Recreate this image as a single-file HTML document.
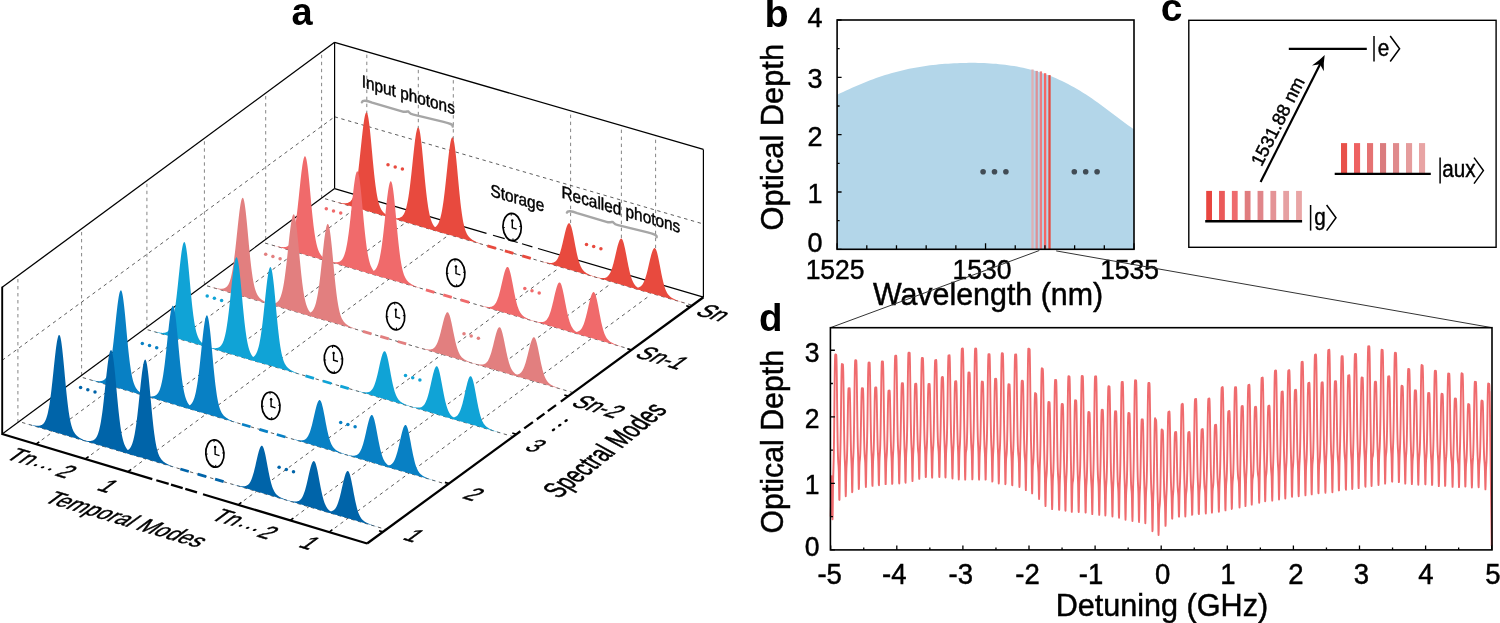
<!DOCTYPE html>
<html><head><meta charset="utf-8"><style>
html,body{margin:0;padding:0;background:#fff;overflow:hidden;}
svg{display:block;will-change:transform;}
text{font-family:"Liberation Sans",sans-serif;stroke:#000;stroke-width:0.45px;}
</style></head><body>
<svg width="1500" height="623" viewBox="0 0 1500 623">
<rect width="1500" height="623" fill="#fff"/>
<g id="panelA">
<line x1="17.9" y1="422.41" x2="17.9" y2="275.73" stroke="#666" stroke-width="0.8" stroke-linecap="butt" stroke-dasharray="3.4,3.6"/>
<line x1="81.6" y1="375.38" x2="81.6" y2="228.78" stroke="#666" stroke-width="0.8" stroke-linecap="butt" stroke-dasharray="3.4,3.6"/>
<line x1="146.9" y1="327.17" x2="146.9" y2="180.65" stroke="#666" stroke-width="0.8" stroke-linecap="butt" stroke-dasharray="3.4,3.6"/>
<line x1="204.4" y1="284.72" x2="204.4" y2="138.27" stroke="#666" stroke-width="0.8" stroke-linecap="butt" stroke-dasharray="3.4,3.6"/>
<line x1="265.7" y1="239.47" x2="265.7" y2="93.08" stroke="#666" stroke-width="0.8" stroke-linecap="butt" stroke-dasharray="3.4,3.6"/>
<line x1="321.6" y1="198.2" x2="321.6" y2="51.88" stroke="#666" stroke-width="0.8" stroke-linecap="butt" stroke-dasharray="3.4,3.6"/>
<line x1="2.2" y1="360.3" x2="334.6" y2="116.8" stroke="#333" stroke-width="0.8" stroke-linecap="butt" stroke-dasharray="3.4,3.6"/>
<line x1="366.8" y1="198.08" x2="366.8" y2="51.65" stroke="#666" stroke-width="0.8" stroke-linecap="butt" stroke-dasharray="3.4,3.6"/>
<line x1="418.3" y1="213.25" x2="418.3" y2="66.61" stroke="#666" stroke-width="0.8" stroke-linecap="butt" stroke-dasharray="3.4,3.6"/>
<line x1="453.3" y1="223.55" x2="453.3" y2="76.77" stroke="#666" stroke-width="0.8" stroke-linecap="butt" stroke-dasharray="3.4,3.6"/>
<line x1="570.6" y1="258.09" x2="570.6" y2="110.83" stroke="#666" stroke-width="0.8" stroke-linecap="butt" stroke-dasharray="3.4,3.6"/>
<line x1="621.4" y1="273.05" x2="621.4" y2="125.59" stroke="#666" stroke-width="0.8" stroke-linecap="butt" stroke-dasharray="3.4,3.6"/>
<line x1="655.6" y1="283.12" x2="655.6" y2="135.52" stroke="#666" stroke-width="0.8" stroke-linecap="butt" stroke-dasharray="3.4,3.6"/>
<line x1="334.6" y1="116.8" x2="703.4" y2="224" stroke="#333" stroke-width="0.8" stroke-linecap="butt" stroke-dasharray="3.4,3.6"/>
<line x1="2.2" y1="287.3" x2="334.6" y2="42.3" stroke="#000" stroke-width="1.3" stroke-linecap="butt"/>
<line x1="334.6" y1="42.3" x2="703.4" y2="149.4" stroke="#000" stroke-width="1.3" stroke-linecap="butt"/>
<line x1="334.6" y1="42.3" x2="334.6" y2="188.6" stroke="#000" stroke-width="1.2" stroke-linecap="butt"/>
<line x1="703.4" y1="149.4" x2="703.4" y2="297.2" stroke="#000" stroke-width="1.2" stroke-linecap="butt"/>
<line x1="2.2" y1="435" x2="2.2" y2="286.7" stroke="#000" stroke-width="1.9" stroke-linecap="butt"/>
<line x1="2.2" y1="434" x2="334.6" y2="188.6" stroke="#000" stroke-width="1.2" stroke-linecap="butt"/>
<line x1="334.6" y1="188.6" x2="486.5" y2="233.33" stroke="#000" stroke-width="1.2" stroke-linecap="butt"/>
<line x1="493" y1="235.24" x2="504.7" y2="238.69" stroke="#000" stroke-width="1.2" stroke-linecap="butt"/>
<line x1="508.1" y1="239.69" x2="517.7" y2="242.52" stroke="#000" stroke-width="1.2" stroke-linecap="butt"/>
<line x1="522" y1="243.78" x2="532.4" y2="246.85" stroke="#000" stroke-width="1.2" stroke-linecap="butt"/>
<line x1="538" y1="248.49" x2="703.4" y2="297.2" stroke="#000" stroke-width="1.2" stroke-linecap="butt"/>
<line x1="36.1" y1="444.17" x2="355.87" y2="208.1" stroke="#333" stroke-width="0.8" stroke-linecap="butt" stroke-dasharray="3.4,3.6"/>
<line x1="85.4" y1="458.97" x2="405.17" y2="222.89" stroke="#333" stroke-width="0.8" stroke-linecap="butt" stroke-dasharray="3.4,3.6"/>
<line x1="128" y1="471.75" x2="447.77" y2="235.68" stroke="#333" stroke-width="0.8" stroke-linecap="butt" stroke-dasharray="3.4,3.6"/>
<line x1="238.2" y1="504.82" x2="557.97" y2="268.74" stroke="#333" stroke-width="0.8" stroke-linecap="butt" stroke-dasharray="3.4,3.6"/>
<line x1="290.2" y1="520.42" x2="609.97" y2="284.35" stroke="#333" stroke-width="0.8" stroke-linecap="butt" stroke-dasharray="3.4,3.6"/>
<line x1="329.2" y1="532.13" x2="648.97" y2="296.05" stroke="#333" stroke-width="0.8" stroke-linecap="butt" stroke-dasharray="3.4,3.6"/>
<line x1="22.04" y1="422.45" x2="386.2" y2="529.51" stroke="#333" stroke-width="0.8" stroke-linecap="butt" stroke-dasharray="3.4,3.6"/>
<line x1="82.79" y1="377.6" x2="447.58" y2="484.55" stroke="#333" stroke-width="0.8" stroke-linecap="butt" stroke-dasharray="3.4,3.6"/>
<line x1="147.61" y1="329.74" x2="513.06" y2="436.6" stroke="#333" stroke-width="0.8" stroke-linecap="butt" stroke-dasharray="3.4,3.6"/>
<line x1="207.03" y1="285.87" x2="573.11" y2="392.62" stroke="#333" stroke-width="0.8" stroke-linecap="butt" stroke-dasharray="3.4,3.6"/>
<line x1="265.03" y1="243.05" x2="631.74" y2="349.69" stroke="#333" stroke-width="0.8" stroke-linecap="butt" stroke-dasharray="3.4,3.6"/>
<line x1="325.04" y1="198.75" x2="692.37" y2="305.27" stroke="#333" stroke-width="0.8" stroke-linecap="butt" stroke-dasharray="3.4,3.6"/>
<line x1="487.5" y1="245.86" x2="496" y2="248.33" stroke="#E84A3E" stroke-width="2.8" stroke-linecap="butt"/>
<line x1="504.9" y1="250.91" x2="513.4" y2="253.37" stroke="#E84A3E" stroke-width="2.8" stroke-linecap="butt"/>
<line x1="522.3" y1="255.95" x2="530.8" y2="258.42" stroke="#E84A3E" stroke-width="2.8" stroke-linecap="butt"/>
<path d="M334.60,201.44 L335.06,201.57 L335.53,201.69 L335.99,201.81 L336.46,201.92 L336.92,202.04 L337.38,202.15 L337.85,202.26 L338.31,202.36 L338.77,202.46 L339.24,202.56 L339.70,202.65 L340.17,202.74 L340.63,202.83 L341.09,202.91 L341.56,202.98 L342.02,203.04 L342.48,203.10 L342.95,203.15 L343.41,203.19 L343.88,203.22 L344.34,203.24 L344.80,203.24 L345.27,203.24 L345.73,203.21 L346.19,203.17 L346.66,203.11 L347.12,203.03 L347.59,202.92 L348.05,202.77 L348.51,202.59 L348.98,202.37 L349.44,202.10 L349.90,201.77 L350.37,201.38 L350.83,200.91 L351.30,200.34 L351.76,199.68 L352.22,198.90 L352.69,197.99 L353.15,196.93 L353.61,195.70 L354.08,194.29 L354.54,192.68 L355.01,190.85 L355.47,188.79 L355.93,186.49 L356.40,183.93 L356.86,181.12 L357.32,178.04 L357.79,174.71 L358.25,171.13 L358.72,167.32 L359.18,163.30 L359.64,159.11 L360.11,154.79 L360.57,150.37 L361.03,145.92 L361.50,141.49 L361.96,137.14 L362.43,132.94 L362.89,128.96 L363.35,125.27 L363.82,121.93 L364.28,119.01 L364.74,116.56 L365.21,114.62 L365.67,113.25 L366.14,112.47 L366.60,112.30 L367.07,112.80 L367.54,114.02 L368.01,115.94 L368.48,118.51 L368.94,121.67 L369.41,125.37 L369.88,129.52 L370.35,134.04 L370.82,138.84 L371.29,143.83 L371.76,148.93 L372.23,154.05 L372.69,159.13 L373.16,164.08 L373.63,168.86 L374.10,173.42 L374.57,177.72 L375.04,181.73 L375.51,185.44 L375.98,188.84 L376.44,191.93 L376.91,194.71 L377.38,197.21 L377.85,199.44 L378.32,201.41 L378.79,203.15 L379.26,204.68 L379.73,206.03 L380.19,207.21 L380.66,208.24 L381.13,209.16 L381.60,209.96 L382.07,210.67 L382.54,211.31 L383.01,211.88 L383.48,212.40 L383.94,212.87 L384.41,213.30 L384.88,213.70 L385.35,214.07 L385.82,214.42 L386.29,214.74 L386.76,215.05 L387.23,215.34 L387.69,215.62 L388.16,215.88 L388.63,216.13 L389.10,216.38 L389.57,216.61 L390.04,216.84 L390.51,217.05 L390.98,217.26 L391.44,217.46 L391.91,217.66 L392.38,217.85 L392.85,218.04 L393.32,218.22 L393.79,218.39 L394.26,218.56 L394.73,218.73 L395.19,218.89 L395.66,219.05 L396.13,219.21 L396.60,219.37 L396.60,219.50 L396.13,219.36 L395.66,219.23 L395.19,219.09 L394.73,218.96 L394.26,218.82 L393.79,218.68 L393.32,218.55 L392.85,218.41 L392.38,218.28 L391.91,218.14 L391.44,218.00 L390.98,217.87 L390.51,217.73 L390.04,217.60 L389.57,217.46 L389.10,217.33 L388.63,217.19 L388.16,217.05 L387.69,216.92 L387.23,216.78 L386.76,216.65 L386.29,216.51 L385.82,216.37 L385.35,216.24 L384.88,216.10 L384.41,215.97 L383.94,215.83 L383.48,215.69 L383.01,215.56 L382.54,215.42 L382.07,215.29 L381.60,215.15 L381.13,215.01 L380.66,214.88 L380.19,214.74 L379.73,214.61 L379.26,214.47 L378.79,214.33 L378.32,214.20 L377.85,214.06 L377.38,213.93 L376.91,213.79 L376.44,213.65 L375.98,213.52 L375.51,213.38 L375.04,213.25 L374.57,213.11 L374.10,212.98 L373.63,212.84 L373.16,212.70 L372.69,212.57 L372.23,212.43 L371.76,212.30 L371.29,212.16 L370.82,212.02 L370.35,211.89 L369.88,211.75 L369.41,211.62 L368.94,211.48 L368.48,211.34 L368.01,211.21 L367.54,211.07 L367.07,210.94 L366.60,210.80 L366.14,210.67 L365.67,210.53 L365.21,210.40 L364.74,210.26 L364.28,210.13 L363.82,209.99 L363.35,209.86 L362.89,209.72 L362.43,209.59 L361.96,209.46 L361.50,209.32 L361.03,209.19 L360.57,209.05 L360.11,208.92 L359.64,208.78 L359.18,208.65 L358.72,208.51 L358.25,208.38 L357.79,208.24 L357.32,208.11 L356.86,207.98 L356.40,207.84 L355.93,207.71 L355.47,207.57 L355.01,207.44 L354.54,207.30 L354.08,207.17 L353.61,207.03 L353.15,206.90 L352.69,206.77 L352.22,206.63 L351.76,206.50 L351.30,206.36 L350.83,206.23 L350.37,206.09 L349.90,205.96 L349.44,205.82 L348.98,205.69 L348.51,205.55 L348.05,205.42 L347.59,205.29 L347.12,205.15 L346.66,205.02 L346.19,204.88 L345.73,204.75 L345.27,204.61 L344.80,204.48 L344.34,204.34 L343.88,204.21 L343.41,204.08 L342.95,203.94 L342.48,203.81 L342.02,203.67 L341.56,203.54 L341.09,203.40 L340.63,203.27 L340.17,203.13 L339.70,203.00 L339.24,202.86 L338.77,202.73 L338.31,202.60 L337.85,202.46 L337.38,202.33 L336.92,202.19 L336.46,202.06 L335.99,201.92 L335.53,201.79 L335.06,201.65 L334.60,201.52Z" fill="#E84A3E"/>
<path d="M386.30,216.44 L386.76,216.56 L387.23,216.68 L387.69,216.80 L388.16,216.91 L388.62,217.03 L389.08,217.14 L389.55,217.25 L390.01,217.35 L390.47,217.46 L390.94,217.55 L391.40,217.65 L391.87,217.74 L392.33,217.82 L392.79,217.90 L393.26,217.97 L393.72,218.04 L394.18,218.09 L394.65,218.14 L395.11,218.18 L395.58,218.21 L396.04,218.23 L396.50,218.24 L396.97,218.23 L397.43,218.21 L397.89,218.17 L398.36,218.11 L398.82,218.02 L399.29,217.91 L399.75,217.77 L400.21,217.59 L400.68,217.37 L401.14,217.10 L401.60,216.77 L402.07,216.38 L402.53,215.91 L403.00,215.34 L403.46,214.68 L403.92,213.90 L404.39,212.99 L404.85,211.93 L405.31,210.70 L405.78,209.29 L406.24,207.69 L406.71,205.86 L407.17,203.80 L407.63,201.51 L408.10,198.95 L408.56,196.14 L409.02,193.07 L409.49,189.74 L409.95,186.16 L410.42,182.36 L410.88,178.35 L411.34,174.16 L411.81,169.84 L412.27,165.43 L412.73,160.98 L413.20,156.55 L413.66,152.21 L414.13,148.02 L414.59,144.04 L415.05,140.36 L415.52,137.02 L415.98,134.10 L416.44,131.65 L416.91,129.72 L417.37,128.35 L417.84,127.57 L418.30,127.40 L418.77,127.90 L419.24,129.12 L419.71,131.03 L420.18,133.60 L420.64,136.76 L421.11,140.46 L421.58,144.60 L422.05,149.11 L422.52,153.91 L422.99,158.90 L423.46,163.99 L423.93,169.11 L424.39,174.18 L424.86,179.13 L425.33,183.90 L425.80,188.46 L426.27,192.75 L426.74,196.76 L427.21,200.46 L427.68,203.86 L428.14,206.94 L428.61,209.73 L429.08,212.22 L429.55,214.45 L430.02,216.42 L430.49,218.15 L430.96,219.68 L431.43,221.03 L431.89,222.21 L432.36,223.24 L432.83,224.15 L433.30,224.96 L433.77,225.67 L434.24,226.31 L434.71,226.88 L435.18,227.40 L435.64,227.87 L436.11,228.30 L436.58,228.69 L437.05,229.06 L437.52,229.41 L437.99,229.74 L438.46,230.04 L438.93,230.33 L439.39,230.61 L439.86,230.88 L440.33,231.13 L440.80,231.37 L441.27,231.60 L441.74,231.83 L442.21,232.05 L442.68,232.25 L443.14,232.46 L443.61,232.65 L444.08,232.84 L444.55,233.03 L445.02,233.21 L445.49,233.38 L445.96,233.56 L446.43,233.72 L446.89,233.89 L447.36,234.05 L447.83,234.21 L448.30,234.36 L448.30,234.49 L447.83,234.36 L447.36,234.22 L446.89,234.09 L446.43,233.95 L445.96,233.81 L445.49,233.68 L445.02,233.54 L444.55,233.41 L444.08,233.27 L443.61,233.13 L443.14,233.00 L442.68,232.86 L442.21,232.73 L441.74,232.59 L441.27,232.45 L440.80,232.32 L440.33,232.18 L439.86,232.05 L439.39,231.91 L438.93,231.77 L438.46,231.64 L437.99,231.50 L437.52,231.37 L437.05,231.23 L436.58,231.09 L436.11,230.96 L435.64,230.82 L435.18,230.69 L434.71,230.55 L434.24,230.41 L433.77,230.28 L433.30,230.14 L432.83,230.01 L432.36,229.87 L431.89,229.74 L431.43,229.60 L430.96,229.46 L430.49,229.33 L430.02,229.19 L429.55,229.06 L429.08,228.92 L428.61,228.78 L428.14,228.65 L427.68,228.51 L427.21,228.38 L426.74,228.24 L426.27,228.10 L425.80,227.97 L425.33,227.83 L424.86,227.70 L424.39,227.56 L423.93,227.42 L423.46,227.29 L422.99,227.15 L422.52,227.02 L422.05,226.88 L421.58,226.74 L421.11,226.61 L420.64,226.47 L420.18,226.34 L419.71,226.20 L419.24,226.06 L418.77,225.93 L418.30,225.79 L417.84,225.66 L417.37,225.52 L416.91,225.39 L416.44,225.26 L415.98,225.12 L415.52,224.99 L415.05,224.85 L414.59,224.72 L414.13,224.58 L413.66,224.45 L413.20,224.31 L412.73,224.18 L412.27,224.04 L411.81,223.91 L411.34,223.78 L410.88,223.64 L410.42,223.51 L409.95,223.37 L409.49,223.24 L409.02,223.10 L408.56,222.97 L408.10,222.83 L407.63,222.70 L407.17,222.57 L406.71,222.43 L406.24,222.30 L405.78,222.16 L405.31,222.03 L404.85,221.89 L404.39,221.76 L403.92,221.62 L403.46,221.49 L403.00,221.35 L402.53,221.22 L402.07,221.09 L401.60,220.95 L401.14,220.82 L400.68,220.68 L400.21,220.55 L399.75,220.41 L399.29,220.28 L398.82,220.14 L398.36,220.01 L397.89,219.88 L397.43,219.74 L396.97,219.61 L396.50,219.47 L396.04,219.34 L395.58,219.20 L395.11,219.07 L394.65,218.93 L394.18,218.80 L393.72,218.66 L393.26,218.53 L392.79,218.40 L392.33,218.26 L391.87,218.13 L391.40,217.99 L390.94,217.86 L390.47,217.72 L390.01,217.59 L389.55,217.45 L389.08,217.32 L388.62,217.19 L388.16,217.05 L387.69,216.92 L387.23,216.78 L386.76,216.65 L386.30,216.51Z" fill="#E84A3E"/>
<path d="M420.50,226.35 L420.96,226.48 L421.43,226.60 L421.89,226.72 L422.36,226.83 L422.82,226.95 L423.28,227.06 L423.75,227.17 L424.21,227.27 L424.67,227.37 L425.14,227.47 L425.60,227.57 L426.07,227.66 L426.53,227.74 L426.99,227.82 L427.46,227.89 L427.92,227.95 L428.38,228.01 L428.85,228.06 L429.31,228.10 L429.78,228.13 L430.24,228.15 L430.70,228.16 L431.17,228.15 L431.63,228.13 L432.09,228.09 L432.56,228.03 L433.02,227.94 L433.49,227.83 L433.95,227.69 L434.41,227.51 L434.88,227.29 L435.34,227.02 L435.80,226.69 L436.27,226.29 L436.73,225.82 L437.20,225.26 L437.66,224.60 L438.12,223.82 L438.59,222.91 L439.05,221.85 L439.51,220.62 L439.98,219.21 L440.44,217.60 L440.91,215.78 L441.37,213.72 L441.83,211.42 L442.30,208.87 L442.76,206.05 L443.22,202.98 L443.69,199.65 L444.15,196.07 L444.62,192.27 L445.08,188.26 L445.54,184.07 L446.01,179.75 L446.47,175.34 L446.93,170.89 L447.40,166.46 L447.86,162.11 L448.33,157.92 L448.79,153.95 L449.25,150.26 L449.72,146.92 L450.18,144.00 L450.64,141.55 L451.11,139.62 L451.57,138.25 L452.04,137.47 L452.50,137.30 L452.97,137.80 L453.44,139.02 L453.91,140.93 L454.38,143.50 L454.84,146.66 L455.31,150.36 L455.78,154.50 L456.25,159.02 L456.72,163.81 L457.19,168.80 L457.66,173.90 L458.12,179.02 L458.59,184.09 L459.06,189.04 L459.53,193.81 L460.00,198.37 L460.47,202.66 L460.94,206.67 L461.41,210.37 L461.88,213.77 L462.34,216.86 L462.81,219.64 L463.28,222.14 L463.75,224.36 L464.22,226.33 L464.69,228.07 L465.16,229.60 L465.62,230.94 L466.09,232.12 L466.56,233.16 L467.03,234.07 L467.50,234.88 L467.97,235.59 L468.44,236.23 L468.91,236.80 L469.38,237.31 L469.84,237.78 L470.31,238.21 L470.78,238.61 L471.25,238.98 L471.72,239.33 L472.19,239.65 L472.66,239.96 L473.12,240.25 L473.59,240.53 L474.06,240.79 L474.53,241.05 L475.00,241.29 L475.47,241.52 L475.94,241.75 L476.41,241.96 L476.88,242.17 L477.34,242.38 L477.81,242.57 L478.28,242.76 L478.75,242.95 L479.22,243.13 L479.69,243.30 L480.16,243.47 L480.62,243.64 L481.09,243.81 L481.56,243.97 L482.03,244.12 L482.50,244.28 L482.50,244.41 L482.03,244.28 L481.56,244.14 L481.09,244.00 L480.62,243.87 L480.16,243.73 L479.69,243.60 L479.22,243.46 L478.75,243.32 L478.28,243.19 L477.81,243.05 L477.34,242.92 L476.88,242.78 L476.41,242.64 L475.94,242.51 L475.47,242.37 L475.00,242.24 L474.53,242.10 L474.06,241.96 L473.59,241.83 L473.12,241.69 L472.66,241.56 L472.19,241.42 L471.72,241.28 L471.25,241.15 L470.78,241.01 L470.31,240.88 L469.84,240.74 L469.38,240.60 L468.91,240.47 L468.44,240.33 L467.97,240.20 L467.50,240.06 L467.03,239.93 L466.56,239.79 L466.09,239.65 L465.62,239.52 L465.16,239.38 L464.69,239.25 L464.22,239.11 L463.75,238.97 L463.28,238.84 L462.81,238.70 L462.34,238.57 L461.88,238.43 L461.41,238.29 L460.94,238.16 L460.47,238.02 L460.00,237.89 L459.53,237.75 L459.06,237.61 L458.59,237.48 L458.12,237.34 L457.66,237.21 L457.19,237.07 L456.72,236.93 L456.25,236.80 L455.78,236.66 L455.31,236.53 L454.84,236.39 L454.38,236.25 L453.91,236.12 L453.44,235.98 L452.97,235.85 L452.50,235.71 L452.04,235.58 L451.57,235.44 L451.11,235.31 L450.64,235.17 L450.18,235.04 L449.72,234.90 L449.25,234.77 L448.79,234.64 L448.33,234.50 L447.86,234.37 L447.40,234.23 L446.93,234.10 L446.47,233.96 L446.01,233.83 L445.54,233.69 L445.08,233.56 L444.62,233.42 L444.15,233.29 L443.69,233.16 L443.22,233.02 L442.76,232.89 L442.30,232.75 L441.83,232.62 L441.37,232.48 L440.91,232.35 L440.44,232.21 L439.98,232.08 L439.51,231.95 L439.05,231.81 L438.59,231.68 L438.12,231.54 L437.66,231.41 L437.20,231.27 L436.73,231.14 L436.27,231.00 L435.80,230.87 L435.34,230.73 L434.88,230.60 L434.41,230.47 L433.95,230.33 L433.49,230.20 L433.02,230.06 L432.56,229.93 L432.09,229.79 L431.63,229.66 L431.17,229.52 L430.70,229.39 L430.24,229.26 L429.78,229.12 L429.31,228.99 L428.85,228.85 L428.38,228.72 L427.92,228.58 L427.46,228.45 L426.99,228.31 L426.53,228.18 L426.07,228.04 L425.60,227.91 L425.14,227.78 L424.67,227.64 L424.21,227.51 L423.75,227.37 L423.28,227.24 L422.82,227.10 L422.36,226.97 L421.89,226.83 L421.43,226.70 L420.96,226.57 L420.50,226.43Z" fill="#E84A3E"/>
<path d="M537.30,260.27 L537.76,260.40 L538.23,260.52 L538.69,260.65 L539.16,260.78 L539.62,260.90 L540.08,261.03 L540.55,261.15 L541.01,261.27 L541.47,261.39 L541.94,261.50 L542.40,261.62 L542.87,261.73 L543.33,261.84 L543.79,261.95 L544.26,262.06 L544.72,262.16 L545.18,262.26 L545.65,262.35 L546.11,262.44 L546.58,262.53 L547.04,262.61 L547.50,262.68 L547.97,262.75 L548.43,262.81 L548.89,262.86 L549.36,262.90 L549.82,262.93 L550.29,262.95 L550.75,262.96 L551.21,262.94 L551.68,262.91 L552.14,262.85 L552.60,262.77 L553.07,262.66 L553.53,262.50 L554.00,262.31 L554.46,262.07 L554.92,261.77 L555.39,261.41 L555.85,260.99 L556.31,260.48 L556.78,259.89 L557.24,259.20 L557.71,258.41 L558.17,257.51 L558.63,256.50 L559.10,255.37 L559.56,254.11 L560.02,252.73 L560.49,251.24 L560.95,249.62 L561.42,247.90 L561.88,246.08 L562.34,244.18 L562.81,242.21 L563.27,240.20 L563.73,238.18 L564.20,236.16 L564.66,234.18 L565.13,232.28 L565.59,230.48 L566.05,228.81 L566.52,227.31 L566.98,226.00 L567.44,224.92 L567.91,224.08 L568.37,223.51 L568.84,223.21 L569.30,223.20 L569.77,223.51 L570.24,224.15 L570.71,225.13 L571.17,226.41 L571.64,227.97 L572.11,229.79 L572.58,231.81 L573.05,234.01 L573.52,236.34 L573.99,238.77 L574.46,241.24 L574.92,243.72 L575.39,246.19 L575.86,248.59 L576.33,250.91 L576.80,253.13 L577.27,255.23 L577.74,257.19 L578.21,259.01 L578.67,260.68 L579.14,262.21 L579.61,263.59 L580.08,264.84 L580.55,265.96 L581.02,266.96 L581.49,267.85 L581.96,268.64 L582.42,269.35 L582.89,269.98 L583.36,270.54 L583.83,271.04 L584.30,271.49 L584.77,271.90 L585.24,272.27 L585.71,272.61 L586.17,272.93 L586.64,273.22 L587.11,273.49 L587.58,273.75 L588.05,274.00 L588.52,274.23 L588.99,274.46 L589.46,274.68 L589.92,274.89 L590.39,275.09 L590.86,275.28 L591.33,275.48 L591.80,275.66 L592.27,275.84 L592.74,276.02 L593.21,276.20 L593.67,276.37 L594.14,276.53 L594.61,276.70 L595.08,276.86 L595.55,277.02 L596.02,277.17 L596.49,277.33 L596.96,277.48 L597.42,277.63 L597.89,277.78 L598.36,277.93 L598.83,278.08 L599.30,278.22 L599.30,278.28 L598.83,278.15 L598.36,278.01 L597.89,277.88 L597.42,277.74 L596.96,277.60 L596.49,277.47 L596.02,277.33 L595.55,277.20 L595.08,277.06 L594.61,276.92 L594.14,276.79 L593.67,276.65 L593.21,276.52 L592.74,276.38 L592.27,276.24 L591.80,276.11 L591.33,275.97 L590.86,275.84 L590.39,275.70 L589.92,275.56 L589.46,275.43 L588.99,275.29 L588.52,275.16 L588.05,275.02 L587.58,274.88 L587.11,274.75 L586.64,274.61 L586.17,274.48 L585.71,274.34 L585.24,274.20 L584.77,274.07 L584.30,273.93 L583.83,273.80 L583.36,273.66 L582.89,273.53 L582.42,273.39 L581.96,273.25 L581.49,273.12 L581.02,272.98 L580.55,272.85 L580.08,272.71 L579.61,272.57 L579.14,272.44 L578.67,272.30 L578.21,272.17 L577.74,272.03 L577.27,271.89 L576.80,271.76 L576.33,271.62 L575.86,271.49 L575.39,271.35 L574.92,271.21 L574.46,271.08 L573.99,270.94 L573.52,270.81 L573.05,270.67 L572.58,270.53 L572.11,270.40 L571.64,270.26 L571.17,270.13 L570.71,269.99 L570.24,269.85 L569.77,269.72 L569.30,269.58 L568.84,269.45 L568.37,269.31 L567.91,269.18 L567.44,269.05 L566.98,268.91 L566.52,268.78 L566.05,268.64 L565.59,268.51 L565.13,268.37 L564.66,268.24 L564.20,268.10 L563.73,267.97 L563.27,267.83 L562.81,267.70 L562.34,267.57 L561.88,267.43 L561.42,267.30 L560.95,267.16 L560.49,267.03 L560.02,266.89 L559.56,266.76 L559.10,266.62 L558.63,266.49 L558.17,266.36 L557.71,266.22 L557.24,266.09 L556.78,265.95 L556.31,265.82 L555.85,265.68 L555.39,265.55 L554.92,265.41 L554.46,265.28 L554.00,265.14 L553.53,265.01 L553.07,264.88 L552.60,264.74 L552.14,264.61 L551.68,264.47 L551.21,264.34 L550.75,264.20 L550.29,264.07 L549.82,263.93 L549.36,263.80 L548.89,263.67 L548.43,263.53 L547.97,263.40 L547.50,263.26 L547.04,263.13 L546.58,262.99 L546.11,262.86 L545.65,262.72 L545.18,262.59 L544.72,262.45 L544.26,262.32 L543.79,262.19 L543.33,262.05 L542.87,261.92 L542.40,261.78 L541.94,261.65 L541.47,261.51 L541.01,261.38 L540.55,261.24 L540.08,261.11 L539.62,260.98 L539.16,260.84 L538.69,260.71 L538.23,260.57 L537.76,260.44 L537.30,260.30Z" fill="#E84A3E"/>
<path d="M589.40,275.38 L589.86,275.50 L590.33,275.63 L590.79,275.76 L591.26,275.89 L591.72,276.01 L592.18,276.13 L592.65,276.26 L593.11,276.38 L593.57,276.50 L594.04,276.61 L594.50,276.73 L594.97,276.84 L595.43,276.95 L595.89,277.06 L596.36,277.17 L596.82,277.27 L597.28,277.37 L597.75,277.46 L598.21,277.55 L598.68,277.64 L599.14,277.72 L599.60,277.79 L600.07,277.86 L600.53,277.92 L600.99,277.97 L601.46,278.02 L601.92,278.05 L602.39,278.07 L602.85,278.07 L603.31,278.06 L603.78,278.03 L604.24,277.97 L604.70,277.89 L605.17,277.78 L605.63,277.63 L606.10,277.44 L606.56,277.20 L607.02,276.91 L607.49,276.55 L607.95,276.12 L608.41,275.62 L608.88,275.03 L609.34,274.35 L609.81,273.57 L610.27,272.68 L610.73,271.67 L611.20,270.55 L611.66,269.30 L612.12,267.93 L612.59,266.44 L613.05,264.84 L613.52,263.13 L613.98,261.32 L614.44,259.43 L614.91,257.48 L615.37,255.49 L615.83,253.47 L616.30,251.47 L616.76,249.51 L617.23,247.61 L617.69,245.82 L618.15,244.17 L618.62,242.68 L619.08,241.38 L619.54,240.31 L620.01,239.47 L620.47,238.90 L620.94,238.61 L621.40,238.60 L621.87,238.91 L622.34,239.55 L622.81,240.52 L623.27,241.79 L623.74,243.35 L624.21,245.15 L624.68,247.16 L625.15,249.35 L625.62,251.67 L626.09,254.08 L626.56,256.54 L627.02,259.01 L627.49,261.45 L627.96,263.84 L628.43,266.15 L628.90,268.36 L629.37,270.44 L629.84,272.39 L630.31,274.20 L630.77,275.86 L631.24,277.38 L631.71,278.76 L632.18,280.00 L632.65,281.11 L633.12,282.11 L633.59,282.99 L634.06,283.78 L634.52,284.48 L634.99,285.11 L635.46,285.67 L635.93,286.16 L636.40,286.61 L636.87,287.02 L637.34,287.39 L637.81,287.73 L638.27,288.04 L638.74,288.34 L639.21,288.61 L639.68,288.87 L640.15,289.11 L640.62,289.35 L641.09,289.57 L641.56,289.79 L642.02,290.00 L642.49,290.20 L642.96,290.40 L643.43,290.59 L643.90,290.77 L644.37,290.96 L644.84,291.13 L645.31,291.31 L645.77,291.48 L646.24,291.64 L646.71,291.81 L647.18,291.97 L647.65,292.13 L648.12,292.28 L648.59,292.44 L649.06,292.59 L649.52,292.74 L649.99,292.89 L650.46,293.04 L650.93,293.19 L651.40,293.33 L651.40,293.39 L650.93,293.26 L650.46,293.12 L649.99,292.98 L649.52,292.85 L649.06,292.71 L648.59,292.58 L648.12,292.44 L647.65,292.30 L647.18,292.17 L646.71,292.03 L646.24,291.90 L645.77,291.76 L645.31,291.62 L644.84,291.49 L644.37,291.35 L643.90,291.22 L643.43,291.08 L642.96,290.95 L642.49,290.81 L642.02,290.67 L641.56,290.54 L641.09,290.40 L640.62,290.27 L640.15,290.13 L639.68,289.99 L639.21,289.86 L638.74,289.72 L638.27,289.59 L637.81,289.45 L637.34,289.31 L636.87,289.18 L636.40,289.04 L635.93,288.91 L635.46,288.77 L634.99,288.63 L634.52,288.50 L634.06,288.36 L633.59,288.23 L633.12,288.09 L632.65,287.95 L632.18,287.82 L631.71,287.68 L631.24,287.55 L630.77,287.41 L630.31,287.27 L629.84,287.14 L629.37,287.00 L628.90,286.87 L628.43,286.73 L627.96,286.60 L627.49,286.46 L627.02,286.32 L626.56,286.19 L626.09,286.05 L625.62,285.92 L625.15,285.78 L624.68,285.64 L624.21,285.51 L623.74,285.37 L623.27,285.24 L622.81,285.10 L622.34,284.96 L621.87,284.83 L621.40,284.69 L620.94,284.56 L620.47,284.42 L620.01,284.29 L619.54,284.15 L619.08,284.02 L618.62,283.89 L618.15,283.75 L617.69,283.62 L617.23,283.48 L616.76,283.35 L616.30,283.21 L615.83,283.08 L615.37,282.94 L614.91,282.81 L614.44,282.67 L613.98,282.54 L613.52,282.41 L613.05,282.27 L612.59,282.14 L612.12,282.00 L611.66,281.87 L611.20,281.73 L610.73,281.60 L610.27,281.46 L609.81,281.33 L609.34,281.20 L608.88,281.06 L608.41,280.93 L607.95,280.79 L607.49,280.66 L607.02,280.52 L606.56,280.39 L606.10,280.25 L605.63,280.12 L605.17,279.98 L604.70,279.85 L604.24,279.72 L603.78,279.58 L603.31,279.45 L602.85,279.31 L602.39,279.18 L601.92,279.04 L601.46,278.91 L600.99,278.77 L600.53,278.64 L600.07,278.51 L599.60,278.37 L599.14,278.24 L598.68,278.10 L598.21,277.97 L597.75,277.83 L597.28,277.70 L596.82,277.56 L596.36,277.43 L595.89,277.29 L595.43,277.16 L594.97,277.03 L594.50,276.89 L594.04,276.76 L593.57,276.62 L593.11,276.49 L592.65,276.35 L592.18,276.22 L591.72,276.08 L591.26,275.95 L590.79,275.82 L590.33,275.68 L589.86,275.55 L589.40,275.41Z" fill="#E84A3E"/>
<path d="M622.80,285.06 L623.26,285.19 L623.73,285.32 L624.19,285.45 L624.66,285.57 L625.12,285.70 L625.58,285.82 L626.05,285.94 L626.51,286.06 L626.97,286.18 L627.44,286.30 L627.90,286.42 L628.37,286.53 L628.83,286.64 L629.29,286.75 L629.76,286.85 L630.22,286.95 L630.68,287.05 L631.15,287.15 L631.61,287.24 L632.08,287.32 L632.54,287.40 L633.00,287.48 L633.47,287.54 L633.93,287.61 L634.39,287.66 L634.86,287.70 L635.32,287.73 L635.79,287.75 L636.25,287.75 L636.71,287.74 L637.18,287.71 L637.64,287.65 L638.10,287.57 L638.57,287.46 L639.03,287.31 L639.50,287.11 L639.96,286.87 L640.42,286.58 L640.89,286.22 L641.35,285.79 L641.81,285.29 L642.28,284.69 L642.74,284.01 L643.21,283.22 L643.67,282.33 L644.13,281.32 L644.60,280.19 L645.06,278.94 L645.52,277.56 L645.99,276.07 L646.45,274.46 L646.92,272.74 L647.38,270.92 L647.84,269.03 L648.31,267.06 L648.77,265.06 L649.23,263.04 L649.70,261.03 L650.16,259.06 L650.63,257.16 L651.09,255.36 L651.55,253.69 L652.02,252.20 L652.48,250.89 L652.94,249.81 L653.41,248.98 L653.87,248.41 L654.34,248.11 L654.80,248.10 L655.27,248.41 L655.74,249.05 L656.21,250.02 L656.67,251.30 L657.14,252.86 L657.61,254.67 L658.08,256.69 L658.55,258.89 L659.02,261.22 L659.49,263.63 L659.96,266.10 L660.42,268.58 L660.89,271.04 L661.36,273.44 L661.83,275.76 L662.30,277.97 L662.77,280.06 L663.24,282.02 L663.71,283.83 L664.17,285.50 L664.64,287.02 L665.11,288.41 L665.58,289.65 L666.05,290.77 L666.52,291.77 L666.99,292.66 L667.46,293.45 L667.92,294.15 L668.39,294.78 L668.86,295.34 L669.33,295.84 L669.80,296.29 L670.27,296.70 L670.74,297.07 L671.21,297.41 L671.67,297.72 L672.14,298.02 L672.61,298.29 L673.08,298.55 L673.55,298.80 L674.02,299.03 L674.49,299.26 L674.96,299.47 L675.42,299.68 L675.89,299.88 L676.36,300.08 L676.83,300.27 L677.30,300.46 L677.77,300.64 L678.24,300.82 L678.71,300.99 L679.17,301.16 L679.64,301.33 L680.11,301.49 L680.58,301.65 L681.05,301.81 L681.52,301.97 L681.99,302.12 L682.46,302.28 L682.92,302.43 L683.39,302.58 L683.86,302.72 L684.33,302.87 L684.80,303.02 L684.80,303.08 L684.33,302.94 L683.86,302.81 L683.39,302.67 L682.92,302.53 L682.46,302.40 L681.99,302.26 L681.52,302.13 L681.05,301.99 L680.58,301.85 L680.11,301.72 L679.64,301.58 L679.17,301.45 L678.71,301.31 L678.24,301.17 L677.77,301.04 L677.30,300.90 L676.83,300.77 L676.36,300.63 L675.89,300.50 L675.42,300.36 L674.96,300.22 L674.49,300.09 L674.02,299.95 L673.55,299.82 L673.08,299.68 L672.61,299.54 L672.14,299.41 L671.67,299.27 L671.21,299.14 L670.74,299.00 L670.27,298.86 L669.80,298.73 L669.33,298.59 L668.86,298.46 L668.39,298.32 L667.92,298.18 L667.46,298.05 L666.99,297.91 L666.52,297.78 L666.05,297.64 L665.58,297.50 L665.11,297.37 L664.64,297.23 L664.17,297.10 L663.71,296.96 L663.24,296.82 L662.77,296.69 L662.30,296.55 L661.83,296.42 L661.36,296.28 L660.89,296.15 L660.42,296.01 L659.96,295.87 L659.49,295.74 L659.02,295.60 L658.55,295.47 L658.08,295.33 L657.61,295.19 L657.14,295.06 L656.67,294.92 L656.21,294.79 L655.74,294.65 L655.27,294.51 L654.80,294.38 L654.34,294.24 L653.87,294.11 L653.41,293.97 L652.94,293.84 L652.48,293.71 L652.02,293.57 L651.55,293.44 L651.09,293.30 L650.63,293.17 L650.16,293.03 L649.70,292.90 L649.23,292.76 L648.77,292.63 L648.31,292.50 L647.84,292.36 L647.38,292.23 L646.92,292.09 L646.45,291.96 L645.99,291.82 L645.52,291.69 L645.06,291.55 L644.60,291.42 L644.13,291.28 L643.67,291.15 L643.21,291.02 L642.74,290.88 L642.28,290.75 L641.81,290.61 L641.35,290.48 L640.89,290.34 L640.42,290.21 L639.96,290.07 L639.50,289.94 L639.03,289.81 L638.57,289.67 L638.10,289.54 L637.64,289.40 L637.18,289.27 L636.71,289.13 L636.25,289.00 L635.79,288.86 L635.32,288.73 L634.86,288.59 L634.39,288.46 L633.93,288.33 L633.47,288.19 L633.00,288.06 L632.54,287.92 L632.08,287.79 L631.61,287.65 L631.15,287.52 L630.68,287.38 L630.22,287.25 L629.76,287.12 L629.29,286.98 L628.83,286.85 L628.37,286.71 L627.90,286.58 L627.44,286.44 L626.97,286.31 L626.51,286.17 L626.05,286.04 L625.58,285.90 L625.12,285.77 L624.66,285.64 L624.19,285.50 L623.73,285.37 L623.26,285.23 L622.80,285.10Z" fill="#E84A3E"/>
<circle cx="388" cy="164.7" r="1.75" fill="#E84A3E"/>
<circle cx="395.2" cy="166.9" r="1.75" fill="#E84A3E"/>
<circle cx="402.4" cy="169.1" r="1.75" fill="#E84A3E"/>
<circle cx="586.5" cy="244.4" r="1.75" fill="#E84A3E"/>
<circle cx="593.7" cy="246.6" r="1.75" fill="#E84A3E"/>
<circle cx="600.9" cy="248.8" r="1.75" fill="#E84A3E"/>
<line x1="425.9" y1="289.83" x2="434.4" y2="292.3" stroke="#F06A6B" stroke-width="2.8" stroke-linecap="butt"/>
<line x1="443.3" y1="294.89" x2="451.8" y2="297.36" stroke="#F06A6B" stroke-width="2.8" stroke-linecap="butt"/>
<line x1="460.7" y1="299.95" x2="469.2" y2="302.42" stroke="#F06A6B" stroke-width="2.8" stroke-linecap="butt"/>
<path d="M273.10,245.32 L273.56,245.44 L274.03,245.56 L274.49,245.68 L274.96,245.80 L275.42,245.91 L275.88,246.02 L276.35,246.13 L276.81,246.24 L277.27,246.34 L277.74,246.44 L278.20,246.53 L278.67,246.62 L279.13,246.71 L279.59,246.78 L280.06,246.86 L280.52,246.92 L280.98,246.98 L281.45,247.03 L281.91,247.07 L282.38,247.10 L282.84,247.12 L283.30,247.13 L283.77,247.12 L284.23,247.10 L284.69,247.06 L285.16,247.00 L285.62,246.91 L286.09,246.80 L286.55,246.66 L287.01,246.48 L287.48,246.26 L287.94,245.99 L288.40,245.66 L288.87,245.27 L289.33,244.79 L289.80,244.23 L290.26,243.57 L290.72,242.79 L291.19,241.88 L291.65,240.81 L292.11,239.59 L292.58,238.18 L293.04,236.57 L293.51,234.74 L293.97,232.68 L294.43,230.38 L294.90,227.83 L295.36,225.01 L295.82,221.94 L296.29,218.60 L296.75,215.02 L297.22,211.21 L297.68,207.20 L298.14,203.01 L298.61,198.68 L299.07,194.27 L299.53,189.81 L300.00,185.38 L300.46,181.03 L300.93,176.84 L301.39,172.86 L301.85,169.17 L302.32,165.83 L302.78,162.91 L303.24,160.45 L303.71,158.52 L304.17,157.15 L304.64,156.37 L305.10,156.20 L305.57,156.70 L306.04,157.92 L306.51,159.84 L306.98,162.41 L307.44,165.57 L307.91,169.27 L308.38,173.42 L308.85,177.94 L309.32,182.74 L309.79,187.73 L310.26,192.83 L310.73,197.96 L311.19,203.03 L311.66,207.99 L312.13,212.77 L312.60,217.33 L313.07,221.62 L313.54,225.64 L314.01,229.34 L314.48,232.74 L314.94,235.83 L315.41,238.62 L315.88,241.12 L316.35,243.35 L316.82,245.32 L317.29,247.06 L317.76,248.59 L318.23,249.94 L318.69,251.12 L319.16,252.15 L319.63,253.07 L320.10,253.87 L320.57,254.59 L321.04,255.22 L321.51,255.80 L321.98,256.31 L322.44,256.78 L322.91,257.22 L323.38,257.61 L323.85,257.98 L324.32,258.33 L324.79,258.66 L325.26,258.96 L325.73,259.26 L326.19,259.53 L326.66,259.80 L327.13,260.05 L327.60,260.30 L328.07,260.53 L328.54,260.75 L329.01,260.97 L329.48,261.18 L329.94,261.38 L330.41,261.58 L330.88,261.77 L331.35,261.96 L331.82,262.14 L332.29,262.31 L332.76,262.48 L333.23,262.65 L333.69,262.82 L334.16,262.98 L334.63,263.14 L335.10,263.29 L335.10,263.42 L334.63,263.29 L334.16,263.15 L333.69,263.02 L333.23,262.88 L332.76,262.74 L332.29,262.61 L331.82,262.47 L331.35,262.33 L330.88,262.20 L330.41,262.06 L329.94,261.92 L329.48,261.79 L329.01,261.65 L328.54,261.52 L328.07,261.38 L327.60,261.24 L327.13,261.11 L326.66,260.97 L326.19,260.83 L325.73,260.70 L325.26,260.56 L324.79,260.43 L324.32,260.29 L323.85,260.15 L323.38,260.02 L322.91,259.88 L322.44,259.74 L321.98,259.61 L321.51,259.47 L321.04,259.33 L320.57,259.20 L320.10,259.06 L319.63,258.93 L319.16,258.79 L318.69,258.65 L318.23,258.52 L317.76,258.38 L317.29,258.24 L316.82,258.11 L316.35,257.97 L315.88,257.84 L315.41,257.70 L314.94,257.56 L314.48,257.43 L314.01,257.29 L313.54,257.15 L313.07,257.02 L312.60,256.88 L312.13,256.74 L311.66,256.61 L311.19,256.47 L310.73,256.34 L310.26,256.20 L309.79,256.06 L309.32,255.93 L308.85,255.79 L308.38,255.65 L307.91,255.52 L307.44,255.38 L306.98,255.25 L306.51,255.11 L306.04,254.97 L305.57,254.84 L305.10,254.70 L304.64,254.57 L304.17,254.43 L303.71,254.30 L303.24,254.16 L302.78,254.03 L302.32,253.89 L301.85,253.76 L301.39,253.62 L300.93,253.49 L300.46,253.35 L300.00,253.22 L299.53,253.08 L299.07,252.95 L298.61,252.81 L298.14,252.68 L297.68,252.54 L297.22,252.41 L296.75,252.27 L296.29,252.14 L295.82,252.00 L295.36,251.87 L294.90,251.73 L294.43,251.60 L293.97,251.46 L293.51,251.33 L293.04,251.19 L292.58,251.06 L292.11,250.92 L291.65,250.79 L291.19,250.65 L290.72,250.52 L290.26,250.38 L289.80,250.25 L289.33,250.11 L288.87,249.98 L288.40,249.84 L287.94,249.71 L287.48,249.58 L287.01,249.44 L286.55,249.31 L286.09,249.17 L285.62,249.04 L285.16,248.90 L284.69,248.77 L284.23,248.63 L283.77,248.50 L283.30,248.36 L282.84,248.23 L282.38,248.09 L281.91,247.96 L281.45,247.82 L280.98,247.69 L280.52,247.55 L280.06,247.42 L279.59,247.28 L279.13,247.15 L278.67,247.01 L278.20,246.88 L277.74,246.74 L277.27,246.61 L276.81,246.47 L276.35,246.34 L275.88,246.20 L275.42,246.07 L274.96,245.93 L274.49,245.80 L274.03,245.66 L273.56,245.53 L273.10,245.39Z" fill="#F06A6B"/>
<path d="M325.40,260.53 L325.86,260.65 L326.33,260.77 L326.79,260.89 L327.26,261.01 L327.72,261.12 L328.18,261.23 L328.65,261.34 L329.11,261.45 L329.57,261.55 L330.04,261.65 L330.50,261.74 L330.97,261.83 L331.43,261.91 L331.89,261.99 L332.36,262.07 L332.82,262.13 L333.28,262.19 L333.75,262.24 L334.21,262.28 L334.68,262.31 L335.14,262.33 L335.60,262.33 L336.07,262.33 L336.53,262.30 L336.99,262.26 L337.46,262.20 L337.92,262.12 L338.39,262.01 L338.85,261.87 L339.31,261.69 L339.78,261.46 L340.24,261.19 L340.70,260.87 L341.17,260.47 L341.63,260.00 L342.10,259.43 L342.56,258.77 L343.02,257.99 L343.49,257.07 L343.95,256.01 L344.41,254.78 L344.88,253.37 L345.34,251.76 L345.81,249.93 L346.27,247.87 L346.73,245.57 L347.20,243.01 L347.66,240.19 L348.12,237.11 L348.59,233.77 L349.05,230.19 L349.52,226.38 L349.98,222.36 L350.44,218.16 L350.91,213.83 L351.37,209.41 L351.83,204.95 L352.30,200.52 L352.76,196.16 L353.23,191.96 L353.69,187.98 L354.15,184.28 L354.62,180.94 L355.08,178.01 L355.54,175.56 L356.01,173.63 L356.47,172.25 L356.94,171.47 L357.40,171.30 L357.87,171.80 L358.34,173.02 L358.81,174.94 L359.27,177.51 L359.74,180.68 L360.21,184.38 L360.68,188.54 L361.15,193.06 L361.62,197.87 L362.09,202.87 L362.56,207.97 L363.02,213.10 L363.49,218.18 L363.96,223.14 L364.43,227.93 L364.90,232.49 L365.37,236.79 L365.84,240.81 L366.31,244.52 L366.77,247.93 L367.24,251.02 L367.71,253.81 L368.18,256.31 L368.65,258.54 L369.12,260.51 L369.59,262.26 L370.06,263.79 L370.52,265.14 L370.99,266.32 L371.46,267.36 L371.93,268.27 L372.40,269.08 L372.87,269.79 L373.34,270.43 L373.81,271.00 L374.27,271.52 L374.74,271.99 L375.21,272.42 L375.68,272.82 L376.15,273.19 L376.62,273.54 L377.09,273.86 L377.56,274.17 L378.02,274.46 L378.49,274.74 L378.96,275.01 L379.43,275.26 L379.90,275.50 L380.37,275.74 L380.84,275.96 L381.31,276.18 L381.77,276.39 L382.24,276.59 L382.71,276.79 L383.18,276.98 L383.65,277.16 L384.12,277.35 L384.59,277.52 L385.06,277.69 L385.52,277.86 L385.99,278.03 L386.46,278.19 L386.93,278.35 L387.40,278.50 L387.40,278.63 L386.93,278.50 L386.46,278.36 L385.99,278.22 L385.52,278.09 L385.06,277.95 L384.59,277.81 L384.12,277.68 L383.65,277.54 L383.18,277.41 L382.71,277.27 L382.24,277.13 L381.77,277.00 L381.31,276.86 L380.84,276.72 L380.37,276.59 L379.90,276.45 L379.43,276.32 L378.96,276.18 L378.49,276.04 L378.02,275.91 L377.56,275.77 L377.09,275.63 L376.62,275.50 L376.15,275.36 L375.68,275.23 L375.21,275.09 L374.74,274.95 L374.27,274.82 L373.81,274.68 L373.34,274.54 L372.87,274.41 L372.40,274.27 L371.93,274.13 L371.46,274.00 L370.99,273.86 L370.52,273.73 L370.06,273.59 L369.59,273.45 L369.12,273.32 L368.65,273.18 L368.18,273.04 L367.71,272.91 L367.24,272.77 L366.77,272.64 L366.31,272.50 L365.84,272.36 L365.37,272.23 L364.90,272.09 L364.43,271.95 L363.96,271.82 L363.49,271.68 L363.02,271.54 L362.56,271.41 L362.09,271.27 L361.62,271.14 L361.15,271.00 L360.68,270.86 L360.21,270.73 L359.74,270.59 L359.27,270.45 L358.81,270.32 L358.34,270.18 L357.87,270.05 L357.40,269.91 L356.94,269.77 L356.47,269.64 L356.01,269.50 L355.54,269.37 L355.08,269.23 L354.62,269.10 L354.15,268.96 L353.69,268.83 L353.23,268.70 L352.76,268.56 L352.30,268.43 L351.83,268.29 L351.37,268.16 L350.91,268.02 L350.44,267.89 L349.98,267.75 L349.52,267.62 L349.05,267.48 L348.59,267.35 L348.12,267.21 L347.66,267.08 L347.20,266.94 L346.73,266.81 L346.27,266.67 L345.81,266.54 L345.34,266.40 L344.88,266.27 L344.41,266.13 L343.95,266.00 L343.49,265.86 L343.02,265.73 L342.56,265.59 L342.10,265.46 L341.63,265.32 L341.17,265.19 L340.70,265.05 L340.24,264.92 L339.78,264.78 L339.31,264.65 L338.85,264.51 L338.39,264.38 L337.92,264.24 L337.46,264.11 L336.99,263.97 L336.53,263.84 L336.07,263.71 L335.60,263.57 L335.14,263.44 L334.68,263.30 L334.21,263.17 L333.75,263.03 L333.28,262.90 L332.82,262.76 L332.36,262.63 L331.89,262.49 L331.43,262.36 L330.97,262.22 L330.50,262.09 L330.04,261.95 L329.57,261.82 L329.11,261.68 L328.65,261.55 L328.18,261.41 L327.72,261.28 L327.26,261.14 L326.79,261.01 L326.33,260.87 L325.86,260.74 L325.40,260.60Z" fill="#F06A6B"/>
<path d="M358.90,270.27 L359.36,270.39 L359.83,270.51 L360.29,270.63 L360.76,270.75 L361.22,270.86 L361.68,270.97 L362.15,271.08 L362.61,271.19 L363.07,271.29 L363.54,271.39 L364.00,271.48 L364.47,271.57 L364.93,271.66 L365.39,271.74 L365.86,271.81 L366.32,271.87 L366.78,271.93 L367.25,271.98 L367.71,272.02 L368.18,272.05 L368.64,272.07 L369.10,272.08 L369.57,272.07 L370.03,272.05 L370.49,272.01 L370.96,271.95 L371.42,271.86 L371.89,271.75 L372.35,271.61 L372.81,271.43 L373.28,271.21 L373.74,270.94 L374.20,270.61 L374.67,270.22 L375.13,269.75 L375.60,269.19 L376.06,268.52 L376.52,267.74 L376.99,266.83 L377.45,265.77 L377.91,264.54 L378.38,263.13 L378.84,261.52 L379.31,259.70 L379.77,257.64 L380.23,255.34 L380.70,252.79 L381.16,249.98 L381.62,246.90 L382.09,243.57 L382.55,239.99 L383.02,236.19 L383.48,232.17 L383.94,227.98 L384.41,223.66 L384.87,219.25 L385.33,214.80 L385.80,210.37 L386.26,206.02 L386.73,201.83 L387.19,197.85 L387.65,194.16 L388.12,190.82 L388.58,187.90 L389.04,185.45 L389.51,183.52 L389.97,182.15 L390.44,181.37 L390.90,181.20 L391.37,181.70 L391.84,182.92 L392.31,184.84 L392.77,187.40 L393.24,190.57 L393.71,194.26 L394.18,198.41 L394.65,202.93 L395.12,207.73 L395.59,212.72 L396.06,217.82 L396.52,222.94 L396.99,228.01 L397.46,232.96 L397.93,237.74 L398.40,242.30 L398.87,246.59 L399.34,250.60 L399.81,254.31 L400.27,257.71 L400.74,260.80 L401.21,263.58 L401.68,266.08 L402.15,268.30 L402.62,270.28 L403.09,272.02 L403.56,273.55 L404.02,274.89 L404.49,276.07 L404.96,277.11 L405.43,278.02 L405.90,278.83 L406.37,279.54 L406.84,280.18 L407.31,280.75 L407.77,281.27 L408.24,281.74 L408.71,282.17 L409.18,282.57 L409.65,282.94 L410.12,283.28 L410.59,283.61 L411.06,283.92 L411.52,284.21 L411.99,284.48 L412.46,284.75 L412.93,285.00 L413.40,285.25 L413.87,285.48 L414.34,285.71 L414.81,285.92 L415.27,286.13 L415.74,286.33 L416.21,286.53 L416.68,286.72 L417.15,286.91 L417.62,287.09 L418.09,287.26 L418.56,287.44 L419.02,287.60 L419.49,287.77 L419.96,287.93 L420.43,288.09 L420.90,288.24 L420.90,288.37 L420.43,288.24 L419.96,288.10 L419.49,287.97 L419.02,287.83 L418.56,287.69 L418.09,287.56 L417.62,287.42 L417.15,287.28 L416.68,287.15 L416.21,287.01 L415.74,286.88 L415.27,286.74 L414.81,286.60 L414.34,286.47 L413.87,286.33 L413.40,286.19 L412.93,286.06 L412.46,285.92 L411.99,285.78 L411.52,285.65 L411.06,285.51 L410.59,285.38 L410.12,285.24 L409.65,285.10 L409.18,284.97 L408.71,284.83 L408.24,284.69 L407.77,284.56 L407.31,284.42 L406.84,284.29 L406.37,284.15 L405.90,284.01 L405.43,283.88 L404.96,283.74 L404.49,283.60 L404.02,283.47 L403.56,283.33 L403.09,283.19 L402.62,283.06 L402.15,282.92 L401.68,282.79 L401.21,282.65 L400.74,282.51 L400.27,282.38 L399.81,282.24 L399.34,282.10 L398.87,281.97 L398.40,281.83 L397.93,281.70 L397.46,281.56 L396.99,281.42 L396.52,281.29 L396.06,281.15 L395.59,281.01 L395.12,280.88 L394.65,280.74 L394.18,280.60 L393.71,280.47 L393.24,280.33 L392.77,280.20 L392.31,280.06 L391.84,279.92 L391.37,279.79 L390.90,279.65 L390.44,279.52 L389.97,279.38 L389.51,279.25 L389.04,279.11 L388.58,278.98 L388.12,278.84 L387.65,278.71 L387.19,278.57 L386.73,278.44 L386.26,278.30 L385.80,278.17 L385.33,278.03 L384.87,277.90 L384.41,277.76 L383.94,277.63 L383.48,277.49 L383.02,277.36 L382.55,277.22 L382.09,277.09 L381.62,276.95 L381.16,276.82 L380.70,276.68 L380.23,276.55 L379.77,276.41 L379.31,276.28 L378.84,276.14 L378.38,276.01 L377.91,275.87 L377.45,275.74 L376.99,275.60 L376.52,275.47 L376.06,275.33 L375.60,275.20 L375.13,275.07 L374.67,274.93 L374.20,274.80 L373.74,274.66 L373.28,274.53 L372.81,274.39 L372.35,274.26 L371.89,274.12 L371.42,273.99 L370.96,273.85 L370.49,273.72 L370.03,273.58 L369.57,273.45 L369.10,273.31 L368.64,273.18 L368.18,273.04 L367.71,272.91 L367.25,272.77 L366.78,272.64 L366.32,272.50 L365.86,272.37 L365.39,272.23 L364.93,272.10 L364.47,271.96 L364.00,271.83 L363.54,271.69 L363.07,271.56 L362.61,271.42 L362.15,271.29 L361.68,271.15 L361.22,271.02 L360.76,270.88 L360.29,270.75 L359.83,270.61 L359.36,270.48 L358.90,270.35Z" fill="#F06A6B"/>
<path d="M475.70,304.27 L476.16,304.40 L476.63,304.53 L477.09,304.66 L477.56,304.79 L478.02,304.91 L478.48,305.03 L478.95,305.16 L479.41,305.28 L479.87,305.40 L480.34,305.52 L480.80,305.63 L481.27,305.74 L481.73,305.85 L482.19,305.96 L482.66,306.07 L483.12,306.17 L483.58,306.27 L484.05,306.36 L484.51,306.45 L484.98,306.54 L485.44,306.62 L485.90,306.69 L486.37,306.76 L486.83,306.82 L487.29,306.87 L487.76,306.91 L488.22,306.94 L488.69,306.96 L489.15,306.97 L489.61,306.95 L490.08,306.92 L490.54,306.86 L491.00,306.78 L491.47,306.66 L491.93,306.51 L492.40,306.31 L492.86,306.07 L493.32,305.77 L493.79,305.41 L494.25,304.97 L494.71,304.46 L495.18,303.87 L495.64,303.17 L496.11,302.38 L496.57,301.47 L497.03,300.45 L497.50,299.31 L497.96,298.05 L498.42,296.66 L498.89,295.15 L499.35,293.52 L499.82,291.79 L500.28,289.95 L500.74,288.04 L501.21,286.06 L501.67,284.03 L502.13,281.99 L502.60,279.96 L503.06,277.97 L503.53,276.05 L503.99,274.23 L504.45,272.55 L504.92,271.04 L505.38,269.73 L505.84,268.63 L506.31,267.79 L506.77,267.21 L507.24,266.91 L507.70,266.90 L508.17,267.21 L508.64,267.86 L509.11,268.84 L509.57,270.13 L510.04,271.70 L510.51,273.53 L510.98,275.57 L511.45,277.78 L511.92,280.13 L512.39,282.57 L512.86,285.06 L513.33,287.57 L513.79,290.04 L514.26,292.46 L514.73,294.80 L515.20,297.04 L515.67,299.15 L516.14,301.12 L516.61,302.95 L517.08,304.64 L517.54,306.17 L518.01,307.57 L518.48,308.82 L518.95,309.95 L519.42,310.96 L519.89,311.86 L520.36,312.65 L520.83,313.36 L521.29,313.99 L521.76,314.56 L522.23,315.06 L522.70,315.52 L523.17,315.93 L523.64,316.30 L524.11,316.64 L524.58,316.96 L525.04,317.26 L525.51,317.53 L525.98,317.79 L526.45,318.04 L526.92,318.28 L527.39,318.50 L527.86,318.72 L528.33,318.93 L528.79,319.13 L529.26,319.33 L529.73,319.52 L530.20,319.71 L530.67,319.89 L531.14,320.07 L531.61,320.25 L532.08,320.42 L532.54,320.58 L533.01,320.75 L533.48,320.91 L533.95,321.07 L534.42,321.23 L534.89,321.38 L535.36,321.54 L535.83,321.69 L536.29,321.84 L536.76,321.99 L537.23,322.13 L537.70,322.28 L537.70,322.34 L537.23,322.20 L536.76,322.07 L536.29,321.93 L535.83,321.79 L535.36,321.66 L534.89,321.52 L534.42,321.39 L533.95,321.25 L533.48,321.11 L533.01,320.98 L532.54,320.84 L532.08,320.70 L531.61,320.57 L531.14,320.43 L530.67,320.30 L530.20,320.16 L529.73,320.02 L529.26,319.89 L528.79,319.75 L528.33,319.61 L527.86,319.48 L527.39,319.34 L526.92,319.20 L526.45,319.07 L525.98,318.93 L525.51,318.80 L525.04,318.66 L524.58,318.52 L524.11,318.39 L523.64,318.25 L523.17,318.11 L522.70,317.98 L522.23,317.84 L521.76,317.71 L521.29,317.57 L520.83,317.43 L520.36,317.30 L519.89,317.16 L519.42,317.02 L518.95,316.89 L518.48,316.75 L518.01,316.61 L517.54,316.48 L517.08,316.34 L516.61,316.21 L516.14,316.07 L515.67,315.93 L515.20,315.80 L514.73,315.66 L514.26,315.52 L513.79,315.39 L513.33,315.25 L512.86,315.12 L512.39,314.98 L511.92,314.84 L511.45,314.71 L510.98,314.57 L510.51,314.43 L510.04,314.30 L509.57,314.16 L509.11,314.03 L508.64,313.89 L508.17,313.75 L507.70,313.62 L507.24,313.48 L506.77,313.35 L506.31,313.21 L505.84,313.08 L505.38,312.94 L504.92,312.81 L504.45,312.67 L503.99,312.54 L503.53,312.40 L503.06,312.27 L502.60,312.13 L502.13,312.00 L501.67,311.86 L501.21,311.73 L500.74,311.59 L500.28,311.46 L499.82,311.32 L499.35,311.19 L498.89,311.05 L498.42,310.92 L497.96,310.78 L497.50,310.65 L497.03,310.51 L496.57,310.38 L496.11,310.24 L495.64,310.11 L495.18,309.97 L494.71,309.84 L494.25,309.71 L493.79,309.57 L493.32,309.44 L492.86,309.30 L492.40,309.17 L491.93,309.03 L491.47,308.90 L491.00,308.76 L490.54,308.63 L490.08,308.49 L489.61,308.36 L489.15,308.22 L488.69,308.09 L488.22,307.95 L487.76,307.82 L487.29,307.68 L486.83,307.55 L486.37,307.41 L485.90,307.28 L485.44,307.14 L484.98,307.01 L484.51,306.87 L484.05,306.74 L483.58,306.60 L483.12,306.47 L482.66,306.33 L482.19,306.20 L481.73,306.06 L481.27,305.93 L480.80,305.79 L480.34,305.66 L479.87,305.52 L479.41,305.39 L478.95,305.25 L478.48,305.12 L478.02,304.98 L477.56,304.85 L477.09,304.72 L476.63,304.58 L476.16,304.45 L475.70,304.31Z" fill="#F06A6B"/>
<path d="M527.70,319.40 L528.16,319.53 L528.63,319.65 L529.09,319.78 L529.56,319.91 L530.02,320.03 L530.48,320.16 L530.95,320.28 L531.41,320.40 L531.87,320.52 L532.34,320.64 L532.80,320.75 L533.27,320.87 L533.73,320.98 L534.19,321.09 L534.66,321.19 L535.12,321.29 L535.58,321.39 L536.05,321.49 L536.51,321.58 L536.98,321.66 L537.44,321.74 L537.90,321.82 L538.37,321.89 L538.83,321.95 L539.29,322.00 L539.76,322.04 L540.22,322.07 L540.69,322.09 L541.15,322.10 L541.61,322.09 L542.08,322.05 L542.54,322.00 L543.00,321.91 L543.47,321.80 L543.93,321.65 L544.40,321.46 L544.86,321.22 L545.32,320.92 L545.79,320.56 L546.25,320.13 L546.71,319.63 L547.18,319.04 L547.64,318.35 L548.11,317.56 L548.57,316.67 L549.03,315.65 L549.50,314.52 L549.96,313.27 L550.42,311.90 L550.89,310.40 L551.35,308.79 L551.82,307.07 L552.28,305.25 L552.74,303.35 L553.21,301.39 L553.67,299.38 L554.13,297.36 L554.60,295.34 L555.06,293.37 L555.53,291.47 L555.99,289.67 L556.45,288.00 L556.92,286.50 L557.38,285.20 L557.84,284.12 L558.31,283.28 L558.77,282.71 L559.24,282.41 L559.70,282.40 L560.17,282.71 L560.64,283.35 L561.11,284.33 L561.58,285.61 L562.04,287.17 L562.51,288.98 L562.98,291.01 L563.45,293.20 L563.92,295.54 L564.39,297.96 L564.86,300.43 L565.33,302.91 L565.79,305.37 L566.26,307.77 L566.73,310.09 L567.20,312.31 L567.67,314.40 L568.14,316.36 L568.61,318.18 L569.08,319.85 L569.54,321.38 L570.01,322.76 L570.48,324.01 L570.95,325.13 L571.42,326.13 L571.89,327.02 L572.36,327.81 L572.83,328.52 L573.29,329.15 L573.76,329.71 L574.23,330.21 L574.70,330.66 L575.17,331.07 L575.64,331.44 L576.11,331.78 L576.58,332.10 L577.04,332.39 L577.51,332.66 L577.98,332.92 L578.45,333.17 L578.92,333.41 L579.39,333.63 L579.86,333.85 L580.33,334.06 L580.79,334.26 L581.26,334.46 L581.73,334.65 L582.20,334.83 L582.67,335.02 L583.14,335.20 L583.61,335.37 L584.08,335.54 L584.54,335.71 L585.01,335.87 L585.48,336.03 L585.95,336.19 L586.42,336.35 L586.89,336.51 L587.36,336.66 L587.83,336.81 L588.29,336.96 L588.76,337.11 L589.23,337.25 L589.70,337.40 L589.70,337.46 L589.23,337.33 L588.76,337.19 L588.29,337.05 L587.83,336.92 L587.36,336.78 L586.89,336.64 L586.42,336.51 L585.95,336.37 L585.48,336.23 L585.01,336.10 L584.54,335.96 L584.08,335.83 L583.61,335.69 L583.14,335.55 L582.67,335.42 L582.20,335.28 L581.73,335.14 L581.26,335.01 L580.79,334.87 L580.33,334.74 L579.86,334.60 L579.39,334.46 L578.92,334.33 L578.45,334.19 L577.98,334.05 L577.51,333.92 L577.04,333.78 L576.58,333.64 L576.11,333.51 L575.64,333.37 L575.17,333.24 L574.70,333.10 L574.23,332.96 L573.76,332.83 L573.29,332.69 L572.83,332.55 L572.36,332.42 L571.89,332.28 L571.42,332.15 L570.95,332.01 L570.48,331.87 L570.01,331.74 L569.54,331.60 L569.08,331.46 L568.61,331.33 L568.14,331.19 L567.67,331.05 L567.20,330.92 L566.73,330.78 L566.26,330.65 L565.79,330.51 L565.33,330.37 L564.86,330.24 L564.39,330.10 L563.92,329.96 L563.45,329.83 L562.98,329.69 L562.51,329.56 L562.04,329.42 L561.58,329.28 L561.11,329.15 L560.64,329.01 L560.17,328.87 L559.70,328.74 L559.24,328.60 L558.77,328.47 L558.31,328.33 L557.84,328.20 L557.38,328.06 L556.92,327.93 L556.45,327.79 L555.99,327.66 L555.53,327.52 L555.06,327.39 L554.60,327.25 L554.13,327.12 L553.67,326.98 L553.21,326.85 L552.74,326.71 L552.28,326.58 L551.82,326.44 L551.35,326.31 L550.89,326.18 L550.42,326.04 L549.96,325.91 L549.50,325.77 L549.03,325.64 L548.57,325.50 L548.11,325.37 L547.64,325.23 L547.18,325.10 L546.71,324.96 L546.25,324.83 L545.79,324.69 L545.32,324.56 L544.86,324.42 L544.40,324.29 L543.93,324.15 L543.47,324.02 L543.00,323.88 L542.54,323.75 L542.08,323.61 L541.61,323.48 L541.15,323.34 L540.69,323.21 L540.22,323.07 L539.76,322.94 L539.29,322.80 L538.83,322.67 L538.37,322.53 L537.90,322.40 L537.44,322.26 L536.98,322.13 L536.51,321.99 L536.05,321.86 L535.58,321.72 L535.12,321.59 L534.66,321.46 L534.19,321.32 L533.73,321.19 L533.27,321.05 L532.80,320.92 L532.34,320.78 L531.87,320.65 L531.41,320.51 L530.95,320.38 L530.48,320.24 L530.02,320.11 L529.56,319.97 L529.09,319.84 L528.63,319.70 L528.16,319.57 L527.70,319.43Z" fill="#F06A6B"/>
<path d="M561.80,329.31 L562.26,329.44 L562.73,329.57 L563.19,329.70 L563.66,329.82 L564.12,329.95 L564.58,330.07 L565.05,330.20 L565.51,330.32 L565.97,330.44 L566.44,330.55 L566.90,330.67 L567.37,330.78 L567.83,330.89 L568.29,331.00 L568.76,331.11 L569.22,331.21 L569.68,331.31 L570.15,331.40 L570.61,331.49 L571.08,331.58 L571.54,331.66 L572.00,331.73 L572.47,331.80 L572.93,331.86 L573.39,331.91 L573.86,331.95 L574.32,331.99 L574.79,332.00 L575.25,332.01 L575.71,332.00 L576.18,331.96 L576.64,331.91 L577.10,331.82 L577.57,331.71 L578.03,331.55 L578.50,331.36 L578.96,331.12 L579.42,330.82 L579.89,330.46 L580.35,330.03 L580.81,329.52 L581.28,328.92 L581.74,328.23 L582.21,327.44 L582.67,326.54 L583.13,325.52 L583.60,324.39 L584.06,323.13 L584.52,321.75 L584.99,320.24 L585.45,318.62 L585.92,316.89 L586.38,315.07 L586.84,313.16 L587.31,311.18 L587.77,309.17 L588.23,307.13 L588.70,305.11 L589.16,303.13 L589.63,301.21 L590.09,299.40 L590.55,297.73 L591.02,296.22 L591.48,294.91 L591.94,293.83 L592.41,292.98 L592.87,292.41 L593.34,292.11 L593.80,292.10 L594.27,292.41 L594.74,293.06 L595.21,294.03 L595.67,295.32 L596.14,296.89 L596.61,298.71 L597.08,300.74 L597.55,302.95 L598.02,305.29 L598.49,307.72 L598.96,310.21 L599.42,312.70 L599.89,315.17 L600.36,317.58 L600.83,319.91 L601.30,322.14 L601.77,324.24 L602.24,326.21 L602.71,328.04 L603.17,329.71 L603.64,331.25 L604.11,332.64 L604.58,333.89 L605.05,335.01 L605.52,336.02 L605.99,336.91 L606.46,337.71 L606.92,338.42 L607.39,339.05 L607.86,339.61 L608.33,340.11 L608.80,340.56 L609.27,340.97 L609.74,341.35 L610.21,341.69 L610.67,342.00 L611.14,342.30 L611.61,342.57 L612.08,342.83 L612.55,343.08 L613.02,343.32 L613.49,343.54 L613.96,343.76 L614.42,343.97 L614.89,344.17 L615.36,344.37 L615.83,344.56 L616.30,344.75 L616.77,344.93 L617.24,345.11 L617.71,345.28 L618.17,345.46 L618.64,345.62 L619.11,345.79 L619.58,345.95 L620.05,346.11 L620.52,346.27 L620.99,346.42 L621.46,346.57 L621.92,346.73 L622.39,346.88 L622.86,347.02 L623.33,347.17 L623.80,347.32 L623.80,347.38 L623.33,347.24 L622.86,347.11 L622.39,346.97 L621.92,346.83 L621.46,346.70 L620.99,346.56 L620.52,346.42 L620.05,346.29 L619.58,346.15 L619.11,346.01 L618.64,345.88 L618.17,345.74 L617.71,345.61 L617.24,345.47 L616.77,345.33 L616.30,345.20 L615.83,345.06 L615.36,344.92 L614.89,344.79 L614.42,344.65 L613.96,344.52 L613.49,344.38 L613.02,344.24 L612.55,344.11 L612.08,343.97 L611.61,343.83 L611.14,343.70 L610.67,343.56 L610.21,343.42 L609.74,343.29 L609.27,343.15 L608.80,343.02 L608.33,342.88 L607.86,342.74 L607.39,342.61 L606.92,342.47 L606.46,342.33 L605.99,342.20 L605.52,342.06 L605.05,341.93 L604.58,341.79 L604.11,341.65 L603.64,341.52 L603.17,341.38 L602.71,341.24 L602.24,341.11 L601.77,340.97 L601.30,340.83 L600.83,340.70 L600.36,340.56 L599.89,340.43 L599.42,340.29 L598.96,340.15 L598.49,340.02 L598.02,339.88 L597.55,339.74 L597.08,339.61 L596.61,339.47 L596.14,339.34 L595.67,339.20 L595.21,339.06 L594.74,338.93 L594.27,338.79 L593.80,338.65 L593.34,338.52 L592.87,338.38 L592.41,338.25 L591.94,338.11 L591.48,337.98 L591.02,337.84 L590.55,337.71 L590.09,337.58 L589.63,337.44 L589.16,337.31 L588.70,337.17 L588.23,337.04 L587.77,336.90 L587.31,336.77 L586.84,336.63 L586.38,336.50 L585.92,336.36 L585.45,336.23 L584.99,336.09 L584.52,335.96 L584.06,335.82 L583.60,335.69 L583.13,335.55 L582.67,335.42 L582.21,335.28 L581.74,335.15 L581.28,335.01 L580.81,334.88 L580.35,334.74 L579.89,334.61 L579.42,334.47 L578.96,334.34 L578.50,334.20 L578.03,334.07 L577.57,333.93 L577.10,333.80 L576.64,333.66 L576.18,333.53 L575.71,333.39 L575.25,333.26 L574.79,333.12 L574.32,332.99 L573.86,332.85 L573.39,332.72 L572.93,332.59 L572.47,332.45 L572.00,332.32 L571.54,332.18 L571.08,332.05 L570.61,331.91 L570.15,331.78 L569.68,331.64 L569.22,331.51 L568.76,331.37 L568.29,331.24 L567.83,331.10 L567.37,330.97 L566.90,330.83 L566.44,330.70 L565.97,330.56 L565.51,330.43 L565.05,330.29 L564.58,330.16 L564.12,330.02 L563.66,329.89 L563.19,329.75 L562.73,329.62 L562.26,329.48 L561.80,329.35Z" fill="#F06A6B"/>
<circle cx="326.3" cy="208.7" r="1.75" fill="#F06A6B"/>
<circle cx="333.5" cy="210.9" r="1.75" fill="#F06A6B"/>
<circle cx="340.7" cy="213.1" r="1.75" fill="#F06A6B"/>
<circle cx="524.8" cy="288.6" r="1.75" fill="#F06A6B"/>
<circle cx="532" cy="290.8" r="1.75" fill="#F06A6B"/>
<circle cx="539.2" cy="293" r="1.75" fill="#F06A6B"/>
<line x1="362.9" y1="331.32" x2="371.4" y2="333.8" stroke="#E27F7F" stroke-width="2.8" stroke-linecap="butt"/>
<line x1="380.3" y1="336.39" x2="388.8" y2="338.87" stroke="#E27F7F" stroke-width="2.8" stroke-linecap="butt"/>
<line x1="397.7" y1="341.47" x2="406.2" y2="343.95" stroke="#E27F7F" stroke-width="2.8" stroke-linecap="butt"/>
<path d="M210.80,286.89 L211.26,287.02 L211.73,287.14 L212.19,287.26 L212.66,287.37 L213.12,287.49 L213.58,287.60 L214.05,287.71 L214.51,287.82 L214.97,287.92 L215.44,288.02 L215.90,288.11 L216.37,288.20 L216.83,288.29 L217.29,288.36 L217.76,288.44 L218.22,288.50 L218.68,288.56 L219.15,288.61 L219.61,288.65 L220.08,288.68 L220.54,288.70 L221.00,288.71 L221.47,288.70 L221.93,288.68 L222.39,288.64 L222.86,288.58 L223.32,288.50 L223.79,288.39 L224.25,288.24 L224.71,288.07 L225.18,287.85 L225.64,287.58 L226.10,287.25 L226.57,286.85 L227.03,286.38 L227.50,285.82 L227.96,285.16 L228.42,284.38 L228.89,283.46 L229.35,282.40 L229.81,281.18 L230.28,279.77 L230.74,278.16 L231.21,276.33 L231.67,274.27 L232.13,271.97 L232.60,269.42 L233.06,266.60 L233.52,263.53 L233.99,260.20 L234.45,256.62 L234.92,252.81 L235.38,248.79 L235.84,244.60 L236.31,240.28 L236.77,235.86 L237.23,231.41 L237.70,226.98 L238.16,222.63 L238.63,218.43 L239.09,214.46 L239.55,210.77 L240.02,207.43 L240.48,204.50 L240.94,202.05 L241.41,200.12 L241.87,198.75 L242.34,197.97 L242.80,197.80 L243.27,198.30 L243.74,199.52 L244.21,201.44 L244.68,204.01 L245.14,207.18 L245.61,210.87 L246.08,215.02 L246.55,219.54 L247.02,224.34 L247.49,229.34 L247.96,234.44 L248.43,239.56 L248.89,244.64 L249.36,249.59 L249.83,254.37 L250.30,258.93 L250.77,263.23 L251.24,267.24 L251.71,270.95 L252.18,274.35 L252.64,277.44 L253.11,280.23 L253.58,282.73 L254.05,284.96 L254.52,286.93 L254.99,288.67 L255.46,290.20 L255.93,291.55 L256.39,292.73 L256.86,293.77 L257.33,294.68 L257.80,295.48 L258.27,296.20 L258.74,296.84 L259.21,297.41 L259.68,297.93 L260.14,298.40 L260.61,298.83 L261.08,299.23 L261.55,299.60 L262.02,299.95 L262.49,300.27 L262.96,300.58 L263.43,300.87 L263.89,301.15 L264.36,301.42 L264.83,301.67 L265.30,301.91 L265.77,302.15 L266.24,302.37 L266.71,302.59 L267.18,302.80 L267.64,303.00 L268.11,303.20 L268.58,303.39 L269.05,303.58 L269.52,303.76 L269.99,303.93 L270.46,304.11 L270.93,304.27 L271.39,304.44 L271.86,304.60 L272.33,304.76 L272.80,304.92 L272.80,305.05 L272.33,304.91 L271.86,304.77 L271.39,304.64 L270.93,304.50 L270.46,304.36 L269.99,304.23 L269.52,304.09 L269.05,303.95 L268.58,303.82 L268.11,303.68 L267.64,303.54 L267.18,303.41 L266.71,303.27 L266.24,303.13 L265.77,303.00 L265.30,302.86 L264.83,302.72 L264.36,302.59 L263.89,302.45 L263.43,302.31 L262.96,302.18 L262.49,302.04 L262.02,301.90 L261.55,301.77 L261.08,301.63 L260.61,301.49 L260.14,301.36 L259.68,301.22 L259.21,301.08 L258.74,300.95 L258.27,300.81 L257.80,300.67 L257.33,300.54 L256.86,300.40 L256.39,300.26 L255.93,300.13 L255.46,299.99 L254.99,299.85 L254.52,299.72 L254.05,299.58 L253.58,299.44 L253.11,299.31 L252.64,299.17 L252.18,299.03 L251.71,298.90 L251.24,298.76 L250.77,298.62 L250.30,298.49 L249.83,298.35 L249.36,298.21 L248.89,298.08 L248.43,297.94 L247.96,297.80 L247.49,297.67 L247.02,297.53 L246.55,297.39 L246.08,297.26 L245.61,297.12 L245.14,296.98 L244.68,296.85 L244.21,296.71 L243.74,296.57 L243.27,296.44 L242.80,296.30 L242.34,296.16 L241.87,296.03 L241.41,295.89 L240.94,295.76 L240.48,295.62 L240.02,295.49 L239.55,295.35 L239.09,295.22 L238.63,295.08 L238.16,294.95 L237.70,294.81 L237.23,294.68 L236.77,294.54 L236.31,294.41 L235.84,294.27 L235.38,294.14 L234.92,294.00 L234.45,293.87 L233.99,293.73 L233.52,293.60 L233.06,293.46 L232.60,293.32 L232.13,293.19 L231.67,293.05 L231.21,292.92 L230.74,292.78 L230.28,292.65 L229.81,292.51 L229.35,292.38 L228.89,292.24 L228.42,292.11 L227.96,291.97 L227.50,291.84 L227.03,291.70 L226.57,291.57 L226.10,291.43 L225.64,291.30 L225.18,291.16 L224.71,291.03 L224.25,290.89 L223.79,290.76 L223.32,290.62 L222.86,290.48 L222.39,290.35 L221.93,290.21 L221.47,290.08 L221.00,289.94 L220.54,289.81 L220.08,289.67 L219.61,289.54 L219.15,289.40 L218.68,289.27 L218.22,289.13 L217.76,289.00 L217.29,288.86 L216.83,288.73 L216.37,288.59 L215.90,288.46 L215.44,288.32 L214.97,288.19 L214.51,288.05 L214.05,287.92 L213.58,287.78 L213.12,287.64 L212.66,287.51 L212.19,287.37 L211.73,287.24 L211.26,287.10 L210.80,286.97Z" fill="#E27F7F"/>
<path d="M261.80,301.77 L262.26,301.89 L262.73,302.01 L263.19,302.13 L263.66,302.25 L264.12,302.36 L264.58,302.48 L265.05,302.59 L265.51,302.69 L265.97,302.79 L266.44,302.89 L266.90,302.99 L267.37,303.08 L267.83,303.16 L268.29,303.24 L268.76,303.32 L269.22,303.38 L269.68,303.44 L270.15,303.50 L270.61,303.54 L271.08,303.57 L271.54,303.59 L272.00,303.60 L272.47,303.60 L272.93,303.58 L273.39,303.54 L273.86,303.48 L274.32,303.40 L274.79,303.30 L275.25,303.16 L275.71,302.99 L276.18,302.77 L276.64,302.51 L277.10,302.19 L277.57,301.80 L278.03,301.34 L278.50,300.79 L278.96,300.14 L279.42,299.38 L279.89,298.48 L280.35,297.44 L280.81,296.24 L281.28,294.85 L281.74,293.27 L282.21,291.48 L282.67,289.46 L283.13,287.19 L283.60,284.68 L284.06,281.92 L284.52,278.90 L284.99,275.62 L285.45,272.10 L285.92,268.36 L286.38,264.41 L286.84,260.30 L287.31,256.04 L287.77,251.70 L288.23,247.33 L288.70,242.97 L289.16,238.70 L289.63,234.57 L290.09,230.66 L290.55,227.04 L291.02,223.75 L291.48,220.88 L291.94,218.47 L292.41,216.58 L292.87,215.23 L293.34,214.47 L293.80,214.30 L294.27,214.80 L294.74,216.00 L295.21,217.89 L295.68,220.41 L296.14,223.53 L296.61,227.17 L297.08,231.25 L297.55,235.70 L298.02,240.43 L298.49,245.34 L298.96,250.36 L299.43,255.40 L299.89,260.39 L300.36,265.27 L300.83,269.97 L301.30,274.46 L301.77,278.69 L302.24,282.63 L302.71,286.29 L303.18,289.63 L303.64,292.67 L304.11,295.42 L304.58,297.88 L305.05,300.07 L305.52,302.01 L305.99,303.73 L306.46,305.23 L306.93,306.56 L307.39,307.72 L307.86,308.75 L308.33,309.65 L308.80,310.44 L309.27,311.15 L309.74,311.78 L310.21,312.34 L310.68,312.85 L311.14,313.32 L311.61,313.75 L312.08,314.14 L312.55,314.51 L313.02,314.85 L313.49,315.17 L313.96,315.48 L314.43,315.77 L314.89,316.04 L315.36,316.31 L315.83,316.56 L316.30,316.80 L316.77,317.03 L317.24,317.26 L317.71,317.47 L318.18,317.68 L318.64,317.88 L319.11,318.08 L319.58,318.27 L320.05,318.46 L320.52,318.64 L320.99,318.81 L321.46,318.98 L321.93,319.15 L322.39,319.31 L322.86,319.48 L323.33,319.63 L323.80,319.79 L323.80,319.92 L323.33,319.78 L322.86,319.65 L322.39,319.51 L321.93,319.37 L321.46,319.24 L320.99,319.10 L320.52,318.96 L320.05,318.83 L319.58,318.69 L319.11,318.55 L318.64,318.42 L318.18,318.28 L317.71,318.14 L317.24,318.01 L316.77,317.87 L316.30,317.73 L315.83,317.60 L315.36,317.46 L314.89,317.32 L314.43,317.19 L313.96,317.05 L313.49,316.91 L313.02,316.78 L312.55,316.64 L312.08,316.50 L311.61,316.37 L311.14,316.23 L310.68,316.09 L310.21,315.96 L309.74,315.82 L309.27,315.68 L308.80,315.55 L308.33,315.41 L307.86,315.27 L307.39,315.14 L306.93,315.00 L306.46,314.86 L305.99,314.73 L305.52,314.59 L305.05,314.45 L304.58,314.32 L304.11,314.18 L303.64,314.04 L303.18,313.91 L302.71,313.77 L302.24,313.63 L301.77,313.50 L301.30,313.36 L300.83,313.22 L300.36,313.09 L299.89,312.95 L299.43,312.81 L298.96,312.68 L298.49,312.54 L298.02,312.40 L297.55,312.27 L297.08,312.13 L296.61,311.99 L296.14,311.86 L295.68,311.72 L295.21,311.58 L294.74,311.44 L294.27,311.31 L293.80,311.17 L293.34,311.04 L292.87,310.90 L292.41,310.77 L291.94,310.63 L291.48,310.50 L291.02,310.36 L290.55,310.22 L290.09,310.09 L289.63,309.95 L289.16,309.82 L288.70,309.68 L288.23,309.55 L287.77,309.41 L287.31,309.28 L286.84,309.14 L286.38,309.01 L285.92,308.87 L285.45,308.74 L284.99,308.60 L284.52,308.47 L284.06,308.33 L283.60,308.20 L283.13,308.06 L282.67,307.93 L282.21,307.79 L281.74,307.66 L281.28,307.52 L280.81,307.39 L280.35,307.25 L279.89,307.11 L279.42,306.98 L278.96,306.84 L278.50,306.71 L278.03,306.57 L277.57,306.44 L277.10,306.30 L276.64,306.17 L276.18,306.03 L275.71,305.90 L275.25,305.76 L274.79,305.63 L274.32,305.49 L273.86,305.36 L273.39,305.22 L272.93,305.09 L272.47,304.95 L272.00,304.82 L271.54,304.68 L271.08,304.55 L270.61,304.41 L270.15,304.27 L269.68,304.14 L269.22,304.00 L268.76,303.87 L268.29,303.73 L267.83,303.60 L267.37,303.46 L266.90,303.33 L266.44,303.19 L265.97,303.06 L265.51,302.92 L265.05,302.79 L264.58,302.65 L264.12,302.52 L263.66,302.38 L263.19,302.25 L262.73,302.11 L262.26,301.98 L261.80,301.84Z" fill="#E27F7F"/>
<path d="M295.90,311.71 L296.36,311.83 L296.83,311.95 L297.29,312.07 L297.76,312.19 L298.22,312.31 L298.68,312.42 L299.15,312.53 L299.61,312.63 L300.07,312.74 L300.54,312.84 L301.00,312.93 L301.47,313.02 L301.93,313.11 L302.39,313.19 L302.86,313.26 L303.32,313.33 L303.78,313.39 L304.25,313.44 L304.71,313.48 L305.18,313.51 L305.64,313.53 L306.10,313.54 L306.57,313.54 L307.03,313.52 L307.49,313.48 L307.96,313.42 L308.42,313.34 L308.89,313.23 L309.35,313.09 L309.81,312.92 L310.28,312.70 L310.74,312.44 L311.20,312.12 L311.67,311.73 L312.13,311.27 L312.60,310.71 L313.06,310.06 L313.52,309.29 L313.99,308.39 L314.45,307.35 L314.91,306.14 L315.38,304.75 L315.84,303.16 L316.31,301.36 L316.77,299.33 L317.23,297.06 L317.70,294.54 L318.16,291.77 L318.62,288.74 L319.09,285.45 L319.55,281.92 L320.02,278.16 L320.48,274.20 L320.94,270.07 L321.41,265.80 L321.87,261.44 L322.33,257.05 L322.80,252.68 L323.26,248.39 L323.73,244.25 L324.19,240.33 L324.65,236.68 L325.12,233.39 L325.58,230.51 L326.04,228.09 L326.51,226.19 L326.97,224.84 L327.44,224.07 L327.90,223.90 L328.37,224.40 L328.84,225.60 L329.31,227.50 L329.77,230.03 L330.24,233.16 L330.71,236.81 L331.18,240.91 L331.65,245.37 L332.12,250.11 L332.59,255.04 L333.06,260.08 L333.52,265.14 L333.99,270.15 L334.46,275.04 L334.93,279.76 L335.40,284.26 L335.87,288.51 L336.34,292.47 L336.81,296.13 L337.27,299.49 L337.74,302.54 L338.21,305.30 L338.68,307.76 L339.15,309.96 L339.62,311.91 L340.09,313.63 L340.56,315.14 L341.02,316.47 L341.49,317.64 L341.96,318.67 L342.43,319.57 L342.90,320.37 L343.37,321.07 L343.84,321.71 L344.31,322.27 L344.77,322.78 L345.24,323.25 L345.71,323.68 L346.18,324.07 L346.65,324.44 L347.12,324.79 L347.59,325.11 L348.06,325.42 L348.52,325.71 L348.99,325.98 L349.46,326.25 L349.93,326.50 L350.40,326.74 L350.87,326.97 L351.34,327.20 L351.81,327.41 L352.27,327.62 L352.74,327.83 L353.21,328.02 L353.68,328.21 L354.15,328.40 L354.62,328.58 L355.09,328.75 L355.56,328.92 L356.02,329.09 L356.49,329.26 L356.96,329.42 L357.43,329.58 L357.90,329.73 L357.90,329.86 L357.43,329.73 L356.96,329.59 L356.49,329.45 L356.02,329.32 L355.56,329.18 L355.09,329.04 L354.62,328.91 L354.15,328.77 L353.68,328.63 L353.21,328.50 L352.74,328.36 L352.27,328.22 L351.81,328.09 L351.34,327.95 L350.87,327.81 L350.40,327.68 L349.93,327.54 L349.46,327.40 L348.99,327.27 L348.52,327.13 L348.06,326.99 L347.59,326.86 L347.12,326.72 L346.65,326.58 L346.18,326.45 L345.71,326.31 L345.24,326.17 L344.77,326.04 L344.31,325.90 L343.84,325.76 L343.37,325.63 L342.90,325.49 L342.43,325.35 L341.96,325.22 L341.49,325.08 L341.02,324.94 L340.56,324.81 L340.09,324.67 L339.62,324.53 L339.15,324.40 L338.68,324.26 L338.21,324.12 L337.74,323.99 L337.27,323.85 L336.81,323.71 L336.34,323.58 L335.87,323.44 L335.40,323.30 L334.93,323.17 L334.46,323.03 L333.99,322.89 L333.52,322.76 L333.06,322.62 L332.59,322.48 L332.12,322.35 L331.65,322.21 L331.18,322.07 L330.71,321.94 L330.24,321.80 L329.77,321.66 L329.31,321.53 L328.84,321.39 L328.37,321.25 L327.90,321.12 L327.44,320.98 L326.97,320.84 L326.51,320.71 L326.04,320.57 L325.58,320.44 L325.12,320.30 L324.65,320.17 L324.19,320.03 L323.73,319.90 L323.26,319.76 L322.80,319.63 L322.33,319.49 L321.87,319.36 L321.41,319.22 L320.94,319.09 L320.48,318.95 L320.02,318.82 L319.55,318.68 L319.09,318.55 L318.62,318.41 L318.16,318.28 L317.70,318.14 L317.23,318.00 L316.77,317.87 L316.31,317.73 L315.84,317.60 L315.38,317.46 L314.91,317.33 L314.45,317.19 L313.99,317.06 L313.52,316.92 L313.06,316.79 L312.60,316.65 L312.13,316.52 L311.67,316.38 L311.20,316.25 L310.74,316.11 L310.28,315.98 L309.81,315.84 L309.35,315.71 L308.89,315.57 L308.42,315.44 L307.96,315.30 L307.49,315.16 L307.03,315.03 L306.57,314.89 L306.10,314.76 L305.64,314.62 L305.18,314.49 L304.71,314.35 L304.25,314.22 L303.78,314.08 L303.32,313.95 L302.86,313.81 L302.39,313.68 L301.93,313.54 L301.47,313.41 L301.00,313.27 L300.54,313.14 L300.07,313.00 L299.61,312.87 L299.15,312.73 L298.68,312.60 L298.22,312.46 L297.76,312.32 L297.29,312.19 L296.83,312.05 L296.36,311.92 L295.90,311.78Z" fill="#E27F7F"/>
<path d="M415.70,346.68 L416.16,346.81 L416.63,346.94 L417.09,347.07 L417.56,347.20 L418.02,347.32 L418.48,347.45 L418.95,347.57 L419.41,347.70 L419.87,347.82 L420.34,347.94 L420.80,348.05 L421.27,348.17 L421.73,348.28 L422.19,348.39 L422.66,348.50 L423.12,348.60 L423.58,348.70 L424.05,348.80 L424.51,348.89 L424.98,348.98 L425.44,349.07 L425.90,349.14 L426.37,349.22 L426.83,349.28 L427.29,349.34 L427.76,349.39 L428.22,349.43 L428.69,349.45 L429.15,349.46 L429.61,349.46 L430.08,349.44 L430.54,349.39 L431.00,349.32 L431.47,349.22 L431.93,349.09 L432.40,348.91 L432.86,348.69 L433.32,348.42 L433.79,348.09 L434.25,347.70 L434.71,347.23 L435.18,346.68 L435.64,346.04 L436.11,345.30 L436.57,344.46 L437.03,343.51 L437.50,342.46 L437.96,341.28 L438.42,339.99 L438.89,338.58 L439.35,337.07 L439.82,335.45 L440.28,333.75 L440.74,331.96 L441.21,330.11 L441.67,328.23 L442.13,326.33 L442.60,324.43 L443.06,322.58 L443.53,320.79 L443.99,319.10 L444.45,317.53 L444.92,316.12 L445.38,314.90 L445.84,313.89 L446.31,313.11 L446.77,312.57 L447.24,312.30 L447.70,312.30 L448.17,312.60 L448.64,313.22 L449.11,314.14 L449.57,315.36 L450.04,316.84 L450.51,318.56 L450.98,320.48 L451.45,322.57 L451.92,324.77 L452.39,327.07 L452.86,329.41 L453.32,331.76 L453.79,334.09 L454.26,336.37 L454.73,338.57 L455.20,340.67 L455.67,342.65 L456.14,344.51 L456.61,346.23 L457.07,347.82 L457.54,349.27 L458.01,350.58 L458.48,351.77 L458.95,352.83 L459.42,353.79 L459.89,354.64 L460.36,355.39 L460.82,356.07 L461.29,356.67 L461.76,357.20 L462.23,357.68 L462.70,358.12 L463.17,358.51 L463.64,358.87 L464.11,359.20 L464.57,359.51 L465.04,359.79 L465.51,360.06 L465.98,360.31 L466.45,360.55 L466.92,360.78 L467.39,361.00 L467.86,361.22 L468.32,361.42 L468.79,361.62 L469.26,361.82 L469.73,362.00 L470.20,362.19 L470.67,362.37 L471.14,362.54 L471.61,362.72 L472.07,362.89 L472.54,363.05 L473.01,363.22 L473.48,363.38 L473.95,363.54 L474.42,363.69 L474.89,363.85 L475.36,364.00 L475.82,364.15 L476.29,364.30 L476.76,364.45 L477.23,364.59 L477.70,364.74 L477.70,364.80 L477.23,364.66 L476.76,364.52 L476.29,364.39 L475.82,364.25 L475.36,364.11 L474.89,363.98 L474.42,363.84 L473.95,363.70 L473.48,363.57 L473.01,363.43 L472.54,363.29 L472.07,363.16 L471.61,363.02 L471.14,362.88 L470.67,362.75 L470.20,362.61 L469.73,362.47 L469.26,362.34 L468.79,362.20 L468.32,362.06 L467.86,361.93 L467.39,361.79 L466.92,361.65 L466.45,361.52 L465.98,361.38 L465.51,361.24 L465.04,361.11 L464.57,360.97 L464.11,360.83 L463.64,360.70 L463.17,360.56 L462.70,360.42 L462.23,360.29 L461.76,360.15 L461.29,360.01 L460.82,359.88 L460.36,359.74 L459.89,359.60 L459.42,359.47 L458.95,359.33 L458.48,359.19 L458.01,359.06 L457.54,358.92 L457.07,358.78 L456.61,358.65 L456.14,358.51 L455.67,358.37 L455.20,358.24 L454.73,358.10 L454.26,357.96 L453.79,357.83 L453.32,357.69 L452.86,357.55 L452.39,357.42 L451.92,357.28 L451.45,357.14 L450.98,357.01 L450.51,356.87 L450.04,356.73 L449.57,356.60 L449.11,356.46 L448.64,356.32 L448.17,356.19 L447.70,356.05 L447.24,355.91 L446.77,355.78 L446.31,355.64 L445.84,355.51 L445.38,355.37 L444.92,355.24 L444.45,355.10 L443.99,354.97 L443.53,354.83 L443.06,354.70 L442.60,354.56 L442.13,354.43 L441.67,354.29 L441.21,354.16 L440.74,354.02 L440.28,353.89 L439.82,353.75 L439.35,353.61 L438.89,353.48 L438.42,353.34 L437.96,353.21 L437.50,353.07 L437.03,352.94 L436.57,352.80 L436.11,352.67 L435.64,352.53 L435.18,352.40 L434.71,352.26 L434.25,352.13 L433.79,351.99 L433.32,351.86 L432.86,351.72 L432.40,351.59 L431.93,351.45 L431.47,351.32 L431.00,351.18 L430.54,351.05 L430.08,350.91 L429.61,350.77 L429.15,350.64 L428.69,350.50 L428.22,350.37 L427.76,350.23 L427.29,350.10 L426.83,349.96 L426.37,349.83 L425.90,349.69 L425.44,349.56 L424.98,349.42 L424.51,349.29 L424.05,349.15 L423.58,349.02 L423.12,348.88 L422.66,348.75 L422.19,348.61 L421.73,348.48 L421.27,348.34 L420.80,348.21 L420.34,348.07 L419.87,347.93 L419.41,347.80 L418.95,347.66 L418.48,347.53 L418.02,347.39 L417.56,347.26 L417.09,347.12 L416.63,346.99 L416.16,346.85 L415.70,346.72Z" fill="#E27F7F"/>
<path d="M467.70,361.85 L468.16,361.98 L468.63,362.11 L469.09,362.23 L469.56,362.36 L470.02,362.49 L470.48,362.61 L470.95,362.74 L471.41,362.86 L471.87,362.98 L472.34,363.10 L472.80,363.21 L473.27,363.33 L473.73,363.44 L474.19,363.55 L474.66,363.66 L475.12,363.76 L475.58,363.86 L476.05,363.96 L476.51,364.05 L476.98,364.14 L477.44,364.23 L477.90,364.30 L478.37,364.38 L478.83,364.44 L479.29,364.50 L479.76,364.55 L480.22,364.58 L480.69,364.61 L481.15,364.62 L481.61,364.62 L482.08,364.59 L482.54,364.55 L483.00,364.47 L483.47,364.37 L483.93,364.24 L484.40,364.06 L484.86,363.84 L485.32,363.57 L485.79,363.23 L486.25,362.83 L486.71,362.36 L487.18,361.80 L487.64,361.16 L488.11,360.42 L488.57,359.57 L489.03,358.62 L489.50,357.55 L489.96,356.37 L490.42,355.07 L490.89,353.66 L491.35,352.13 L491.82,350.51 L492.28,348.79 L492.74,346.99 L493.21,345.13 L493.67,343.23 L494.13,341.32 L494.60,339.41 L495.06,337.55 L495.53,335.75 L495.99,334.04 L496.45,332.47 L496.92,331.05 L497.38,329.82 L497.84,328.80 L498.31,328.01 L498.77,327.48 L499.24,327.20 L499.70,327.20 L500.17,327.50 L500.64,328.12 L501.11,329.05 L501.57,330.28 L502.04,331.77 L502.51,333.50 L502.98,335.43 L503.45,337.52 L503.92,339.74 L504.39,342.05 L504.86,344.40 L505.32,346.77 L505.79,349.11 L506.26,351.40 L506.73,353.61 L507.20,355.72 L507.67,357.72 L508.14,359.59 L508.61,361.32 L509.07,362.92 L509.54,364.37 L510.01,365.70 L510.48,366.89 L510.95,367.96 L511.42,368.91 L511.89,369.77 L512.36,370.53 L512.83,371.21 L513.29,371.81 L513.76,372.35 L514.23,372.83 L514.70,373.27 L515.17,373.66 L515.64,374.02 L516.11,374.35 L516.58,374.66 L517.04,374.95 L517.51,375.22 L517.98,375.47 L518.45,375.71 L518.92,375.94 L519.39,376.16 L519.86,376.38 L520.33,376.58 L520.79,376.78 L521.26,376.98 L521.73,377.17 L522.20,377.35 L522.67,377.53 L523.14,377.71 L523.61,377.88 L524.08,378.05 L524.54,378.21 L525.01,378.38 L525.48,378.54 L525.95,378.70 L526.42,378.85 L526.89,379.01 L527.36,379.16 L527.83,379.31 L528.29,379.46 L528.76,379.61 L529.23,379.76 L529.70,379.90 L529.70,379.96 L529.23,379.82 L528.76,379.69 L528.29,379.55 L527.83,379.41 L527.36,379.28 L526.89,379.14 L526.42,379.00 L525.95,378.87 L525.48,378.73 L525.01,378.59 L524.54,378.46 L524.08,378.32 L523.61,378.18 L523.14,378.05 L522.67,377.91 L522.20,377.77 L521.73,377.64 L521.26,377.50 L520.79,377.36 L520.33,377.23 L519.86,377.09 L519.39,376.95 L518.92,376.82 L518.45,376.68 L517.98,376.54 L517.51,376.41 L517.04,376.27 L516.58,376.13 L516.11,376.00 L515.64,375.86 L515.17,375.72 L514.70,375.59 L514.23,375.45 L513.76,375.31 L513.29,375.18 L512.83,375.04 L512.36,374.90 L511.89,374.77 L511.42,374.63 L510.95,374.49 L510.48,374.36 L510.01,374.22 L509.54,374.08 L509.07,373.95 L508.61,373.81 L508.14,373.67 L507.67,373.54 L507.20,373.40 L506.73,373.26 L506.26,373.13 L505.79,372.99 L505.32,372.85 L504.86,372.72 L504.39,372.58 L503.92,372.44 L503.45,372.31 L502.98,372.17 L502.51,372.03 L502.04,371.90 L501.57,371.76 L501.11,371.62 L500.64,371.49 L500.17,371.35 L499.70,371.21 L499.24,371.08 L498.77,370.94 L498.31,370.81 L497.84,370.67 L497.38,370.54 L496.92,370.40 L496.45,370.27 L495.99,370.13 L495.53,369.99 L495.06,369.86 L494.60,369.72 L494.13,369.59 L493.67,369.45 L493.21,369.32 L492.74,369.18 L492.28,369.05 L491.82,368.91 L491.35,368.78 L490.89,368.64 L490.42,368.51 L489.96,368.37 L489.50,368.24 L489.03,368.10 L488.57,367.97 L488.11,367.83 L487.64,367.70 L487.18,367.56 L486.71,367.43 L486.25,367.29 L485.79,367.15 L485.32,367.02 L484.86,366.88 L484.40,366.75 L483.93,366.61 L483.47,366.48 L483.00,366.34 L482.54,366.21 L482.08,366.07 L481.61,365.94 L481.15,365.80 L480.69,365.67 L480.22,365.53 L479.76,365.40 L479.29,365.26 L478.83,365.13 L478.37,364.99 L477.90,364.86 L477.44,364.72 L476.98,364.59 L476.51,364.45 L476.05,364.32 L475.58,364.18 L475.12,364.04 L474.66,363.91 L474.19,363.77 L473.73,363.64 L473.27,363.50 L472.80,363.37 L472.34,363.23 L471.87,363.10 L471.41,362.96 L470.95,362.83 L470.48,362.69 L470.02,362.56 L469.56,362.42 L469.09,362.29 L468.63,362.15 L468.16,362.02 L467.70,361.88Z" fill="#E27F7F"/>
<path d="M502.10,371.88 L502.56,372.01 L503.03,372.14 L503.49,372.26 L503.96,372.39 L504.42,372.52 L504.88,372.64 L505.35,372.77 L505.81,372.89 L506.27,373.01 L506.74,373.13 L507.20,373.25 L507.67,373.36 L508.13,373.47 L508.59,373.58 L509.06,373.69 L509.52,373.79 L509.98,373.90 L510.45,373.99 L510.91,374.09 L511.38,374.17 L511.84,374.26 L512.30,374.34 L512.77,374.41 L513.23,374.47 L513.69,374.53 L514.16,374.58 L514.62,374.62 L515.09,374.64 L515.55,374.65 L516.01,374.65 L516.48,374.62 L516.94,374.58 L517.40,374.51 L517.87,374.41 L518.33,374.27 L518.80,374.10 L519.26,373.88 L519.72,373.60 L520.19,373.27 L520.65,372.87 L521.11,372.40 L521.58,371.84 L522.04,371.20 L522.51,370.46 L522.97,369.62 L523.43,368.67 L523.90,367.60 L524.36,366.42 L524.82,365.12 L525.29,363.71 L525.75,362.19 L526.22,360.57 L526.68,358.85 L527.14,357.06 L527.61,355.20 L528.07,353.31 L528.53,351.40 L529.00,349.49 L529.46,347.63 L529.93,345.83 L530.39,344.13 L530.85,342.56 L531.32,341.15 L531.78,339.92 L532.24,338.90 L532.71,338.11 L533.17,337.57 L533.64,337.30 L534.10,337.30 L534.57,337.60 L535.04,338.22 L535.51,339.15 L535.98,340.37 L536.44,341.86 L536.91,343.59 L537.38,345.51 L537.85,347.61 L538.32,349.82 L538.79,352.13 L539.26,354.48 L539.73,356.84 L540.19,359.18 L540.66,361.47 L541.13,363.67 L541.60,365.78 L542.07,367.78 L542.54,369.64 L543.01,371.37 L543.48,372.97 L543.94,374.42 L544.41,375.74 L544.88,376.93 L545.35,378.00 L545.82,378.95 L546.29,379.81 L546.76,380.57 L547.23,381.24 L547.69,381.85 L548.16,382.38 L548.63,382.87 L549.10,383.30 L549.57,383.70 L550.04,384.06 L550.51,384.39 L550.98,384.69 L551.44,384.98 L551.91,385.25 L552.38,385.50 L552.85,385.74 L553.32,385.97 L553.79,386.19 L554.26,386.41 L554.73,386.61 L555.19,386.81 L555.66,387.01 L556.13,387.20 L556.60,387.38 L557.07,387.56 L557.54,387.74 L558.01,387.91 L558.48,388.08 L558.94,388.25 L559.41,388.41 L559.88,388.57 L560.35,388.73 L560.82,388.89 L561.29,389.04 L561.76,389.19 L562.23,389.34 L562.69,389.49 L563.16,389.64 L563.63,389.79 L564.10,389.93 L564.10,389.99 L563.63,389.85 L563.16,389.72 L562.69,389.58 L562.23,389.44 L561.76,389.31 L561.29,389.17 L560.82,389.03 L560.35,388.90 L559.88,388.76 L559.41,388.62 L558.94,388.49 L558.48,388.35 L558.01,388.21 L557.54,388.08 L557.07,387.94 L556.60,387.80 L556.13,387.67 L555.66,387.53 L555.19,387.39 L554.73,387.26 L554.26,387.12 L553.79,386.98 L553.32,386.85 L552.85,386.71 L552.38,386.57 L551.91,386.44 L551.44,386.30 L550.98,386.16 L550.51,386.03 L550.04,385.89 L549.57,385.75 L549.10,385.62 L548.63,385.48 L548.16,385.34 L547.69,385.21 L547.23,385.07 L546.76,384.93 L546.29,384.80 L545.82,384.66 L545.35,384.52 L544.88,384.39 L544.41,384.25 L543.94,384.11 L543.48,383.98 L543.01,383.84 L542.54,383.70 L542.07,383.57 L541.60,383.43 L541.13,383.29 L540.66,383.16 L540.19,383.02 L539.73,382.88 L539.26,382.75 L538.79,382.61 L538.32,382.47 L537.85,382.34 L537.38,382.20 L536.91,382.06 L536.44,381.93 L535.98,381.79 L535.51,381.65 L535.04,381.52 L534.57,381.38 L534.10,381.24 L533.64,381.11 L533.17,380.97 L532.71,380.84 L532.24,380.70 L531.78,380.57 L531.32,380.43 L530.85,380.30 L530.39,380.16 L529.93,380.03 L529.46,379.89 L529.00,379.76 L528.53,379.62 L528.07,379.49 L527.61,379.35 L527.14,379.21 L526.68,379.08 L526.22,378.94 L525.75,378.81 L525.29,378.67 L524.82,378.54 L524.36,378.40 L523.90,378.27 L523.43,378.13 L522.97,378.00 L522.51,377.86 L522.04,377.73 L521.58,377.59 L521.11,377.46 L520.65,377.32 L520.19,377.19 L519.72,377.05 L519.26,376.92 L518.80,376.78 L518.33,376.65 L517.87,376.51 L517.40,376.37 L516.94,376.24 L516.48,376.10 L516.01,375.97 L515.55,375.83 L515.09,375.70 L514.62,375.56 L514.16,375.43 L513.69,375.29 L513.23,375.16 L512.77,375.02 L512.30,374.89 L511.84,374.75 L511.38,374.62 L510.91,374.48 L510.45,374.35 L509.98,374.21 L509.52,374.08 L509.06,373.94 L508.59,373.81 L508.13,373.67 L507.67,373.53 L507.20,373.40 L506.74,373.26 L506.27,373.13 L505.81,372.99 L505.35,372.86 L504.88,372.72 L504.42,372.59 L503.96,372.45 L503.49,372.32 L503.03,372.18 L502.56,372.05 L502.10,371.91Z" fill="#E27F7F"/>
<circle cx="265.7" cy="254.3" r="1.75" fill="#E27F7F"/>
<circle cx="272.9" cy="256.5" r="1.75" fill="#E27F7F"/>
<circle cx="280.1" cy="258.7" r="1.75" fill="#E27F7F"/>
<circle cx="464" cy="333.8" r="1.75" fill="#E27F7F"/>
<circle cx="471.2" cy="336" r="1.75" fill="#E27F7F"/>
<circle cx="478.4" cy="338.2" r="1.75" fill="#E27F7F"/>
<line x1="305.5" y1="375.91" x2="314" y2="378.4" stroke="#10A3D6" stroke-width="2.8" stroke-linecap="butt"/>
<line x1="322.9" y1="381" x2="331.4" y2="383.48" stroke="#10A3D6" stroke-width="2.8" stroke-linecap="butt"/>
<line x1="340.3" y1="386.09" x2="348.8" y2="388.57" stroke="#10A3D6" stroke-width="2.8" stroke-linecap="butt"/>
<path d="M152.40,331.07 L152.86,331.19 L153.33,331.31 L153.79,331.43 L154.26,331.55 L154.72,331.66 L155.18,331.78 L155.65,331.89 L156.11,331.99 L156.57,332.10 L157.04,332.20 L157.50,332.29 L157.97,332.38 L158.43,332.46 L158.89,332.54 L159.36,332.62 L159.82,332.68 L160.28,332.74 L160.75,332.79 L161.21,332.83 L161.68,332.86 L162.14,332.88 L162.60,332.89 L163.07,332.89 L163.53,332.86 L163.99,332.82 L164.46,332.76 L164.92,332.68 L165.39,332.57 L165.85,332.43 L166.31,332.25 L166.78,332.03 L167.24,331.76 L167.70,331.43 L168.17,331.04 L168.63,330.57 L169.10,330.01 L169.56,329.35 L170.02,328.57 L170.49,327.65 L170.95,326.59 L171.41,325.37 L171.88,323.96 L172.34,322.35 L172.81,320.52 L173.27,318.46 L173.73,316.16 L174.20,313.61 L174.66,310.80 L175.12,307.72 L175.59,304.39 L176.05,300.81 L176.52,297.00 L176.98,292.99 L177.44,288.80 L177.91,284.47 L178.37,280.06 L178.83,275.61 L179.30,271.17 L179.76,266.83 L180.23,262.63 L180.69,258.65 L181.15,254.96 L181.62,251.62 L182.08,248.70 L182.54,246.25 L183.01,244.32 L183.47,242.95 L183.94,242.17 L184.40,242.00 L184.87,242.50 L185.34,243.72 L185.81,245.64 L186.28,248.21 L186.74,251.38 L187.21,255.08 L187.68,259.23 L188.15,263.75 L188.62,268.55 L189.09,273.54 L189.56,278.64 L190.03,283.77 L190.49,288.84 L190.96,293.80 L191.43,298.58 L191.90,303.14 L192.37,307.44 L192.84,311.45 L193.31,315.16 L193.78,318.56 L194.24,321.65 L194.71,324.44 L195.18,326.94 L195.65,329.16 L196.12,331.14 L196.59,332.88 L197.06,334.41 L197.53,335.76 L197.99,336.94 L198.46,337.98 L198.93,338.89 L199.40,339.70 L199.87,340.41 L200.34,341.05 L200.81,341.62 L201.28,342.14 L201.74,342.61 L202.21,343.04 L202.68,343.44 L203.15,343.81 L203.62,344.16 L204.09,344.49 L204.56,344.80 L205.03,345.09 L205.49,345.37 L205.96,345.63 L206.43,345.89 L206.90,346.13 L207.37,346.37 L207.84,346.59 L208.31,346.81 L208.78,347.02 L209.24,347.22 L209.71,347.42 L210.18,347.61 L210.65,347.80 L211.12,347.98 L211.59,348.16 L212.06,348.33 L212.53,348.50 L212.99,348.66 L213.46,348.82 L213.93,348.98 L214.40,349.14 L214.40,349.27 L213.93,349.13 L213.46,349.00 L212.99,348.86 L212.53,348.72 L212.06,348.59 L211.59,348.45 L211.12,348.31 L210.65,348.18 L210.18,348.04 L209.71,347.90 L209.24,347.76 L208.78,347.63 L208.31,347.49 L207.84,347.35 L207.37,347.22 L206.90,347.08 L206.43,346.94 L205.96,346.80 L205.49,346.67 L205.03,346.53 L204.56,346.39 L204.09,346.26 L203.62,346.12 L203.15,345.98 L202.68,345.85 L202.21,345.71 L201.74,345.57 L201.28,345.43 L200.81,345.30 L200.34,345.16 L199.87,345.02 L199.40,344.89 L198.93,344.75 L198.46,344.61 L197.99,344.47 L197.53,344.34 L197.06,344.20 L196.59,344.06 L196.12,343.93 L195.65,343.79 L195.18,343.65 L194.71,343.52 L194.24,343.38 L193.78,343.24 L193.31,343.10 L192.84,342.97 L192.37,342.83 L191.90,342.69 L191.43,342.56 L190.96,342.42 L190.49,342.28 L190.03,342.14 L189.56,342.01 L189.09,341.87 L188.62,341.73 L188.15,341.60 L187.68,341.46 L187.21,341.32 L186.74,341.19 L186.28,341.05 L185.81,340.91 L185.34,340.77 L184.87,340.64 L184.40,340.50 L183.94,340.36 L183.47,340.23 L183.01,340.09 L182.54,339.96 L182.08,339.82 L181.62,339.69 L181.15,339.55 L180.69,339.42 L180.23,339.28 L179.76,339.14 L179.30,339.01 L178.83,338.87 L178.37,338.74 L177.91,338.60 L177.44,338.47 L176.98,338.33 L176.52,338.19 L176.05,338.06 L175.59,337.92 L175.12,337.79 L174.66,337.65 L174.20,337.52 L173.73,337.38 L173.27,337.25 L172.81,337.11 L172.34,336.97 L171.88,336.84 L171.41,336.70 L170.95,336.57 L170.49,336.43 L170.02,336.30 L169.56,336.16 L169.10,336.03 L168.63,335.89 L168.17,335.75 L167.70,335.62 L167.24,335.48 L166.78,335.35 L166.31,335.21 L165.85,335.08 L165.39,334.94 L164.92,334.80 L164.46,334.67 L163.99,334.53 L163.53,334.40 L163.07,334.26 L162.60,334.13 L162.14,333.99 L161.68,333.86 L161.21,333.72 L160.75,333.58 L160.28,333.45 L159.82,333.31 L159.36,333.18 L158.89,333.04 L158.43,332.91 L157.97,332.77 L157.50,332.63 L157.04,332.50 L156.57,332.36 L156.11,332.23 L155.65,332.09 L155.18,331.96 L154.72,331.82 L154.26,331.69 L153.79,331.55 L153.33,331.41 L152.86,331.28 L152.40,331.14Z" fill="#10A3D6"/>
<path d="M204.60,346.33 L205.06,346.45 L205.53,346.58 L205.99,346.70 L206.46,346.81 L206.92,346.93 L207.38,347.04 L207.85,347.15 L208.31,347.26 L208.77,347.36 L209.24,347.46 L209.70,347.55 L210.17,347.64 L210.63,347.73 L211.09,347.81 L211.56,347.88 L212.02,347.95 L212.48,348.00 L212.95,348.06 L213.41,348.10 L213.88,348.13 L214.34,348.15 L214.80,348.16 L215.27,348.15 L215.73,348.13 L216.19,348.09 L216.66,348.03 L217.12,347.95 L217.59,347.84 L218.05,347.69 L218.51,347.52 L218.98,347.30 L219.44,347.03 L219.90,346.70 L220.37,346.31 L220.83,345.83 L221.30,345.27 L221.76,344.61 L222.22,343.83 L222.69,342.92 L223.15,341.86 L223.61,340.63 L224.08,339.23 L224.54,337.62 L225.01,335.79 L225.47,333.74 L225.93,331.44 L226.40,328.88 L226.86,326.07 L227.32,323.00 L227.79,319.66 L228.25,316.09 L228.72,312.28 L229.18,308.27 L229.64,304.08 L230.11,299.76 L230.57,295.34 L231.03,290.89 L231.50,286.46 L231.96,282.12 L232.43,277.92 L232.89,273.95 L233.35,270.26 L233.82,266.92 L234.28,264.00 L234.74,261.55 L235.21,259.62 L235.67,258.25 L236.14,257.47 L236.60,257.30 L237.07,257.80 L237.54,259.02 L238.01,260.94 L238.47,263.51 L238.94,266.67 L239.41,270.37 L239.88,274.52 L240.35,279.04 L240.82,283.84 L241.29,288.83 L241.76,293.93 L242.22,299.05 L242.69,304.13 L243.16,309.08 L243.63,313.86 L244.10,318.42 L244.57,322.71 L245.04,326.72 L245.51,330.43 L245.97,333.83 L246.44,336.92 L246.91,339.71 L247.38,342.21 L247.85,344.43 L248.32,346.41 L248.79,348.15 L249.26,349.68 L249.72,351.02 L250.19,352.20 L250.66,353.24 L251.13,354.16 L251.60,354.96 L252.07,355.68 L252.54,356.31 L253.01,356.89 L253.48,357.40 L253.94,357.88 L254.41,358.31 L254.88,358.71 L255.35,359.08 L255.82,359.43 L256.29,359.75 L256.76,360.06 L257.23,360.35 L257.69,360.63 L258.16,360.90 L258.63,361.15 L259.10,361.39 L259.57,361.63 L260.04,361.86 L260.51,362.07 L260.98,362.28 L261.44,362.49 L261.91,362.68 L262.38,362.88 L262.85,363.06 L263.32,363.24 L263.79,363.42 L264.26,363.59 L264.73,363.76 L265.19,363.93 L265.66,364.09 L266.13,364.25 L266.60,364.40 L266.60,364.54 L266.13,364.40 L265.66,364.26 L265.19,364.12 L264.73,363.99 L264.26,363.85 L263.79,363.71 L263.32,363.58 L262.85,363.44 L262.38,363.30 L261.91,363.16 L261.44,363.03 L260.98,362.89 L260.51,362.75 L260.04,362.62 L259.57,362.48 L259.10,362.34 L258.63,362.21 L258.16,362.07 L257.69,361.93 L257.23,361.79 L256.76,361.66 L256.29,361.52 L255.82,361.38 L255.35,361.25 L254.88,361.11 L254.41,360.97 L253.94,360.83 L253.48,360.70 L253.01,360.56 L252.54,360.42 L252.07,360.29 L251.60,360.15 L251.13,360.01 L250.66,359.88 L250.19,359.74 L249.72,359.60 L249.26,359.46 L248.79,359.33 L248.32,359.19 L247.85,359.05 L247.38,358.92 L246.91,358.78 L246.44,358.64 L245.97,358.50 L245.51,358.37 L245.04,358.23 L244.57,358.09 L244.10,357.96 L243.63,357.82 L243.16,357.68 L242.69,357.55 L242.22,357.41 L241.76,357.27 L241.29,357.13 L240.82,357.00 L240.35,356.86 L239.88,356.72 L239.41,356.59 L238.94,356.45 L238.47,356.31 L238.01,356.17 L237.54,356.04 L237.07,355.90 L236.60,355.76 L236.14,355.63 L235.67,355.49 L235.21,355.36 L234.74,355.22 L234.28,355.09 L233.82,354.95 L233.35,354.81 L232.89,354.68 L232.43,354.54 L231.96,354.41 L231.50,354.27 L231.03,354.14 L230.57,354.00 L230.11,353.86 L229.64,353.73 L229.18,353.59 L228.72,353.46 L228.25,353.32 L227.79,353.19 L227.32,353.05 L226.86,352.92 L226.40,352.78 L225.93,352.64 L225.47,352.51 L225.01,352.37 L224.54,352.24 L224.08,352.10 L223.61,351.97 L223.15,351.83 L222.69,351.70 L222.22,351.56 L221.76,351.42 L221.30,351.29 L220.83,351.15 L220.37,351.02 L219.90,350.88 L219.44,350.75 L218.98,350.61 L218.51,350.47 L218.05,350.34 L217.59,350.20 L217.12,350.07 L216.66,349.93 L216.19,349.80 L215.73,349.66 L215.27,349.53 L214.80,349.39 L214.34,349.25 L213.88,349.12 L213.41,348.98 L212.95,348.85 L212.48,348.71 L212.02,348.58 L211.56,348.44 L211.09,348.30 L210.63,348.17 L210.17,348.03 L209.70,347.90 L209.24,347.76 L208.77,347.63 L208.31,347.49 L207.85,347.36 L207.38,347.22 L206.92,347.08 L206.46,346.95 L205.99,346.81 L205.53,346.68 L205.06,346.54 L204.60,346.41Z" fill="#10A3D6"/>
<path d="M238.50,356.24 L238.96,356.37 L239.43,356.49 L239.89,356.61 L240.36,356.72 L240.82,356.84 L241.28,356.95 L241.75,357.06 L242.21,357.17 L242.67,357.27 L243.14,357.37 L243.60,357.47 L244.07,357.56 L244.53,357.64 L244.99,357.72 L245.46,357.79 L245.92,357.86 L246.38,357.92 L246.85,357.97 L247.31,358.01 L247.78,358.04 L248.24,358.06 L248.70,358.07 L249.17,358.06 L249.63,358.04 L250.09,358.00 L250.56,357.94 L251.02,357.86 L251.49,357.74 L251.95,357.60 L252.41,357.42 L252.88,357.20 L253.34,356.93 L253.80,356.61 L254.27,356.21 L254.73,355.74 L255.20,355.18 L255.66,354.52 L256.12,353.74 L256.59,352.82 L257.05,351.76 L257.51,350.53 L257.98,349.12 L258.44,347.51 L258.91,345.68 L259.37,343.63 L259.83,341.32 L260.30,338.77 L260.76,335.95 L261.22,332.87 L261.69,329.54 L262.15,325.96 L262.62,322.15 L263.08,318.13 L263.54,313.93 L264.01,309.61 L264.47,305.19 L264.93,300.73 L265.40,296.30 L265.86,291.95 L266.33,287.75 L266.79,283.77 L267.25,280.07 L267.72,276.73 L268.18,273.81 L268.64,271.35 L269.11,269.42 L269.57,268.05 L270.04,267.27 L270.50,267.10 L270.97,267.60 L271.44,268.82 L271.91,270.74 L272.38,273.31 L272.84,276.48 L273.31,280.19 L273.78,284.34 L274.25,288.86 L274.72,293.67 L275.19,298.67 L275.66,303.77 L276.12,308.90 L276.59,313.98 L277.06,318.94 L277.53,323.72 L278.00,328.28 L278.47,332.58 L278.94,336.60 L279.41,340.31 L279.88,343.72 L280.34,346.81 L280.81,349.60 L281.28,352.10 L281.75,354.33 L282.22,356.30 L282.69,358.05 L283.16,359.58 L283.62,360.93 L284.09,362.11 L284.56,363.15 L285.03,364.06 L285.50,364.87 L285.97,365.58 L286.44,366.22 L286.91,366.80 L287.38,367.31 L287.84,367.79 L288.31,368.22 L288.78,368.62 L289.25,368.99 L289.72,369.34 L290.19,369.66 L290.66,369.97 L291.12,370.26 L291.59,370.54 L292.06,370.81 L292.53,371.06 L293.00,371.31 L293.47,371.54 L293.94,371.77 L294.41,371.98 L294.88,372.19 L295.34,372.40 L295.81,372.60 L296.28,372.79 L296.75,372.97 L297.22,373.15 L297.69,373.33 L298.16,373.50 L298.62,373.67 L299.09,373.84 L299.56,374.00 L300.03,374.16 L300.50,374.32 L300.50,374.45 L300.03,374.31 L299.56,374.17 L299.09,374.04 L298.62,373.90 L298.16,373.76 L297.69,373.63 L297.22,373.49 L296.75,373.35 L296.28,373.21 L295.81,373.08 L295.34,372.94 L294.88,372.80 L294.41,372.67 L293.94,372.53 L293.47,372.39 L293.00,372.25 L292.53,372.12 L292.06,371.98 L291.59,371.84 L291.12,371.71 L290.66,371.57 L290.19,371.43 L289.72,371.30 L289.25,371.16 L288.78,371.02 L288.31,370.88 L287.84,370.75 L287.38,370.61 L286.91,370.47 L286.44,370.34 L285.97,370.20 L285.50,370.06 L285.03,369.92 L284.56,369.79 L284.09,369.65 L283.62,369.51 L283.16,369.38 L282.69,369.24 L282.22,369.10 L281.75,368.97 L281.28,368.83 L280.81,368.69 L280.34,368.55 L279.88,368.42 L279.41,368.28 L278.94,368.14 L278.47,368.01 L278.00,367.87 L277.53,367.73 L277.06,367.59 L276.59,367.46 L276.12,367.32 L275.66,367.18 L275.19,367.05 L274.72,366.91 L274.25,366.77 L273.78,366.64 L273.31,366.50 L272.84,366.36 L272.38,366.22 L271.91,366.09 L271.44,365.95 L270.97,365.81 L270.50,365.68 L270.04,365.54 L269.57,365.40 L269.11,365.27 L268.64,365.13 L268.18,365.00 L267.72,364.86 L267.25,364.73 L266.79,364.59 L266.33,364.46 L265.86,364.32 L265.40,364.18 L264.93,364.05 L264.47,363.91 L264.01,363.78 L263.54,363.64 L263.08,363.51 L262.62,363.37 L262.15,363.23 L261.69,363.10 L261.22,362.96 L260.76,362.83 L260.30,362.69 L259.83,362.56 L259.37,362.42 L258.91,362.29 L258.44,362.15 L257.98,362.01 L257.51,361.88 L257.05,361.74 L256.59,361.61 L256.12,361.47 L255.66,361.34 L255.20,361.20 L254.73,361.07 L254.27,360.93 L253.80,360.79 L253.34,360.66 L252.88,360.52 L252.41,360.39 L251.95,360.25 L251.49,360.12 L251.02,359.98 L250.56,359.84 L250.09,359.71 L249.63,359.57 L249.17,359.44 L248.70,359.30 L248.24,359.17 L247.78,359.03 L247.31,358.90 L246.85,358.76 L246.38,358.62 L245.92,358.49 L245.46,358.35 L244.99,358.22 L244.53,358.08 L244.07,357.95 L243.60,357.81 L243.14,357.67 L242.67,357.54 L242.21,357.40 L241.75,357.27 L241.28,357.13 L240.82,357.00 L240.36,356.86 L239.89,356.73 L239.43,356.59 L238.96,356.45 L238.50,356.32Z" fill="#10A3D6"/>
<path d="M352.80,389.70 L353.26,389.83 L353.73,389.96 L354.19,390.09 L354.66,390.22 L355.12,390.34 L355.58,390.47 L356.05,390.59 L356.51,390.71 L356.97,390.83 L357.44,390.95 L357.90,391.06 L358.37,391.18 L358.83,391.29 L359.29,391.40 L359.76,391.50 L360.22,391.60 L360.68,391.70 L361.15,391.80 L361.61,391.89 L362.08,391.97 L362.54,392.05 L363.00,392.12 L363.47,392.19 L363.93,392.25 L364.39,392.30 L364.86,392.34 L365.32,392.37 L365.79,392.39 L366.25,392.39 L366.71,392.37 L367.18,392.33 L367.64,392.27 L368.10,392.18 L368.57,392.06 L369.03,391.90 L369.50,391.70 L369.96,391.44 L370.42,391.13 L370.89,390.76 L371.35,390.31 L371.81,389.79 L372.28,389.17 L372.74,388.46 L373.21,387.64 L373.67,386.71 L374.13,385.66 L374.60,384.49 L375.06,383.19 L375.52,381.76 L375.99,380.21 L376.45,378.54 L376.92,376.76 L377.38,374.88 L377.84,372.91 L378.31,370.88 L378.77,368.80 L379.23,366.71 L379.70,364.62 L380.16,362.58 L380.63,360.61 L381.09,358.74 L381.55,357.02 L382.02,355.46 L382.48,354.11 L382.94,352.99 L383.41,352.12 L383.87,351.52 L384.34,351.21 L384.80,351.20 L385.27,351.51 L385.74,352.18 L386.21,353.18 L386.68,354.50 L387.14,356.11 L387.61,357.98 L388.08,360.07 L388.55,362.34 L389.02,364.74 L389.49,367.24 L389.96,369.79 L390.43,372.36 L390.89,374.89 L391.36,377.37 L391.83,379.77 L392.30,382.06 L392.77,384.22 L393.24,386.24 L393.71,388.11 L394.18,389.84 L394.64,391.41 L395.11,392.84 L395.58,394.12 L396.05,395.27 L396.52,396.30 L396.99,397.22 L397.46,398.04 L397.93,398.76 L398.39,399.41 L398.86,399.98 L399.33,400.50 L399.80,400.96 L400.27,401.38 L400.74,401.76 L401.21,402.11 L401.68,402.43 L402.14,402.73 L402.61,403.01 L403.08,403.27 L403.55,403.53 L404.02,403.76 L404.49,403.99 L404.96,404.21 L405.43,404.43 L405.89,404.63 L406.36,404.83 L406.83,405.03 L407.30,405.22 L407.77,405.40 L408.24,405.58 L408.71,405.76 L409.18,405.93 L409.64,406.10 L410.11,406.26 L410.58,406.43 L411.05,406.59 L411.52,406.75 L411.99,406.90 L412.46,407.06 L412.93,407.21 L413.39,407.36 L413.86,407.51 L414.33,407.66 L414.80,407.81 L414.80,407.87 L414.33,407.73 L413.86,407.59 L413.39,407.46 L412.93,407.32 L412.46,407.18 L411.99,407.05 L411.52,406.91 L411.05,406.77 L410.58,406.64 L410.11,406.50 L409.64,406.36 L409.18,406.22 L408.71,406.09 L408.24,405.95 L407.77,405.81 L407.30,405.68 L406.83,405.54 L406.36,405.40 L405.89,405.26 L405.43,405.13 L404.96,404.99 L404.49,404.85 L404.02,404.72 L403.55,404.58 L403.08,404.44 L402.61,404.31 L402.14,404.17 L401.68,404.03 L401.21,403.89 L400.74,403.76 L400.27,403.62 L399.80,403.48 L399.33,403.35 L398.86,403.21 L398.39,403.07 L397.93,402.93 L397.46,402.80 L396.99,402.66 L396.52,402.52 L396.05,402.39 L395.58,402.25 L395.11,402.11 L394.64,401.98 L394.18,401.84 L393.71,401.70 L393.24,401.56 L392.77,401.43 L392.30,401.29 L391.83,401.15 L391.36,401.02 L390.89,400.88 L390.43,400.74 L389.96,400.60 L389.49,400.47 L389.02,400.33 L388.55,400.19 L388.08,400.06 L387.61,399.92 L387.14,399.78 L386.68,399.65 L386.21,399.51 L385.74,399.37 L385.27,399.23 L384.80,399.10 L384.34,398.96 L383.87,398.83 L383.41,398.69 L382.94,398.55 L382.48,398.42 L382.02,398.28 L381.55,398.15 L381.09,398.01 L380.63,397.88 L380.16,397.74 L379.70,397.61 L379.23,397.47 L378.77,397.33 L378.31,397.20 L377.84,397.06 L377.38,396.93 L376.92,396.79 L376.45,396.66 L375.99,396.52 L375.52,396.38 L375.06,396.25 L374.60,396.11 L374.13,395.98 L373.67,395.84 L373.21,395.71 L372.74,395.57 L372.28,395.44 L371.81,395.30 L371.35,395.16 L370.89,395.03 L370.42,394.89 L369.96,394.76 L369.50,394.62 L369.03,394.49 L368.57,394.35 L368.10,394.22 L367.64,394.08 L367.18,393.94 L366.71,393.81 L366.25,393.67 L365.79,393.54 L365.32,393.40 L364.86,393.27 L364.39,393.13 L363.93,392.99 L363.47,392.86 L363.00,392.72 L362.54,392.59 L362.08,392.45 L361.61,392.32 L361.15,392.18 L360.68,392.05 L360.22,391.91 L359.76,391.77 L359.29,391.64 L358.83,391.50 L358.37,391.37 L357.90,391.23 L357.44,391.10 L356.97,390.96 L356.51,390.83 L356.05,390.69 L355.58,390.55 L355.12,390.42 L354.66,390.28 L354.19,390.15 L353.73,390.01 L353.26,389.88 L352.80,389.74Z" fill="#10A3D6"/>
<path d="M404.90,404.94 L405.36,405.07 L405.83,405.20 L406.29,405.32 L406.76,405.45 L407.22,405.58 L407.68,405.70 L408.15,405.82 L408.61,405.94 L409.07,406.06 L409.54,406.18 L410.00,406.30 L410.47,406.41 L410.93,406.52 L411.39,406.63 L411.86,406.74 L412.32,406.84 L412.78,406.93 L413.25,407.03 L413.71,407.12 L414.18,407.20 L414.64,407.28 L415.10,407.36 L415.57,407.42 L416.03,407.48 L416.49,407.53 L416.96,407.57 L417.42,407.60 L417.89,407.62 L418.35,407.62 L418.81,407.60 L419.28,407.56 L419.74,407.50 L420.20,407.41 L420.67,407.29 L421.13,407.13 L421.60,406.92 L422.06,406.67 L422.52,406.36 L422.99,405.98 L423.45,405.53 L423.91,405.01 L424.38,404.39 L424.84,403.67 L425.31,402.85 L425.77,401.92 L426.23,400.87 L426.70,399.69 L427.16,398.39 L427.62,396.96 L428.09,395.40 L428.55,393.73 L429.02,391.94 L429.48,390.05 L429.94,388.08 L430.41,386.04 L430.87,383.95 L431.33,381.85 L431.80,379.76 L432.26,377.71 L432.73,375.73 L433.19,373.86 L433.65,372.13 L434.12,370.58 L434.58,369.22 L435.04,368.10 L435.51,367.22 L435.97,366.62 L436.44,366.31 L436.90,366.30 L437.37,366.61 L437.84,367.28 L438.31,368.29 L438.77,369.61 L439.24,371.22 L439.71,373.10 L440.18,375.19 L440.65,377.47 L441.12,379.88 L441.59,382.38 L442.06,384.94 L442.52,387.51 L442.99,390.05 L443.46,392.54 L443.93,394.94 L444.40,397.24 L444.87,399.40 L445.34,401.43 L445.81,403.31 L446.27,405.04 L446.74,406.61 L447.21,408.04 L447.68,409.33 L448.15,410.49 L448.62,411.52 L449.09,412.44 L449.56,413.26 L450.02,413.98 L450.49,414.63 L450.96,415.21 L451.43,415.72 L451.90,416.19 L452.37,416.61 L452.84,416.99 L453.31,417.34 L453.77,417.66 L454.24,417.96 L454.71,418.24 L455.18,418.51 L455.65,418.76 L456.12,419.00 L456.59,419.23 L457.06,419.45 L457.52,419.66 L457.99,419.86 L458.46,420.06 L458.93,420.26 L459.40,420.45 L459.87,420.63 L460.34,420.81 L460.81,420.99 L461.27,421.16 L461.74,421.33 L462.21,421.50 L462.68,421.66 L463.15,421.82 L463.62,421.98 L464.09,422.14 L464.56,422.29 L465.02,422.44 L465.49,422.60 L465.96,422.74 L466.43,422.89 L466.90,423.04 L466.90,423.10 L466.43,422.97 L465.96,422.83 L465.49,422.69 L465.02,422.55 L464.56,422.42 L464.09,422.28 L463.62,422.14 L463.15,422.01 L462.68,421.87 L462.21,421.73 L461.74,421.60 L461.27,421.46 L460.81,421.32 L460.34,421.18 L459.87,421.05 L459.40,420.91 L458.93,420.77 L458.46,420.64 L457.99,420.50 L457.52,420.36 L457.06,420.22 L456.59,420.09 L456.12,419.95 L455.65,419.81 L455.18,419.68 L454.71,419.54 L454.24,419.40 L453.77,419.27 L453.31,419.13 L452.84,418.99 L452.37,418.85 L451.90,418.72 L451.43,418.58 L450.96,418.44 L450.49,418.31 L450.02,418.17 L449.56,418.03 L449.09,417.89 L448.62,417.76 L448.15,417.62 L447.68,417.48 L447.21,417.35 L446.74,417.21 L446.27,417.07 L445.81,416.94 L445.34,416.80 L444.87,416.66 L444.40,416.52 L443.93,416.39 L443.46,416.25 L442.99,416.11 L442.52,415.98 L442.06,415.84 L441.59,415.70 L441.12,415.56 L440.65,415.43 L440.18,415.29 L439.71,415.15 L439.24,415.02 L438.77,414.88 L438.31,414.74 L437.84,414.61 L437.37,414.47 L436.90,414.33 L436.44,414.20 L435.97,414.06 L435.51,413.92 L435.04,413.79 L434.58,413.65 L434.12,413.52 L433.65,413.38 L433.19,413.25 L432.73,413.11 L432.26,412.97 L431.80,412.84 L431.33,412.70 L430.87,412.57 L430.41,412.43 L429.94,412.30 L429.48,412.16 L429.02,412.03 L428.55,411.89 L428.09,411.75 L427.62,411.62 L427.16,411.48 L426.70,411.35 L426.23,411.21 L425.77,411.08 L425.31,410.94 L424.84,410.81 L424.38,410.67 L423.91,410.53 L423.45,410.40 L422.99,410.26 L422.52,410.13 L422.06,409.99 L421.60,409.86 L421.13,409.72 L420.67,409.58 L420.20,409.45 L419.74,409.31 L419.28,409.18 L418.81,409.04 L418.35,408.91 L417.89,408.77 L417.42,408.64 L416.96,408.50 L416.49,408.36 L416.03,408.23 L415.57,408.09 L415.10,407.96 L414.64,407.82 L414.18,407.69 L413.71,407.55 L413.25,407.42 L412.78,407.28 L412.32,407.14 L411.86,407.01 L411.39,406.87 L410.93,406.74 L410.47,406.60 L410.00,406.47 L409.54,406.33 L409.07,406.19 L408.61,406.06 L408.15,405.92 L407.68,405.79 L407.22,405.65 L406.76,405.52 L406.29,405.38 L405.83,405.25 L405.36,405.11 L404.90,404.97Z" fill="#10A3D6"/>
<path d="M438.80,414.85 L439.26,414.98 L439.73,415.11 L440.19,415.24 L440.66,415.36 L441.12,415.49 L441.58,415.61 L442.05,415.74 L442.51,415.86 L442.97,415.98 L443.44,416.09 L443.90,416.21 L444.37,416.32 L444.83,416.43 L445.29,416.54 L445.76,416.65 L446.22,416.75 L446.68,416.85 L447.15,416.94 L447.61,417.03 L448.08,417.12 L448.54,417.19 L449.00,417.27 L449.47,417.33 L449.93,417.39 L450.39,417.44 L450.86,417.48 L451.32,417.51 L451.79,417.53 L452.25,417.53 L452.71,417.51 L453.18,417.47 L453.64,417.41 L454.10,417.32 L454.57,417.20 L455.03,417.04 L455.50,416.83 L455.96,416.58 L456.42,416.27 L456.89,415.89 L457.35,415.45 L457.81,414.92 L458.28,414.30 L458.74,413.58 L459.21,412.76 L459.67,411.83 L460.13,410.78 L460.60,409.60 L461.06,408.30 L461.52,406.87 L461.99,405.31 L462.45,403.63 L462.92,401.85 L463.38,399.96 L463.84,397.98 L464.31,395.94 L464.77,393.86 L465.23,391.76 L465.70,389.67 L466.16,387.61 L466.63,385.64 L467.09,383.77 L467.55,382.04 L468.02,380.48 L468.48,379.12 L468.94,378.00 L469.41,377.12 L469.87,376.53 L470.34,376.21 L470.80,376.20 L471.27,376.51 L471.74,377.18 L472.21,378.19 L472.68,379.51 L473.14,381.12 L473.61,383.00 L474.08,385.09 L474.55,387.37 L475.02,389.78 L475.49,392.29 L475.96,394.84 L476.43,397.41 L476.89,399.96 L477.36,402.45 L477.83,404.85 L478.30,407.14 L478.77,409.31 L479.24,411.34 L479.71,413.22 L480.18,414.95 L480.64,416.52 L481.11,417.95 L481.58,419.24 L482.05,420.40 L482.52,421.43 L482.99,422.35 L483.46,423.17 L483.93,423.90 L484.39,424.54 L484.86,425.12 L485.33,425.63 L485.80,426.10 L486.27,426.52 L486.74,426.90 L487.21,427.25 L487.68,427.57 L488.14,427.87 L488.61,428.15 L489.08,428.42 L489.55,428.67 L490.02,428.91 L490.49,429.14 L490.96,429.36 L491.43,429.57 L491.89,429.78 L492.36,429.98 L492.83,430.17 L493.30,430.36 L493.77,430.54 L494.24,430.73 L494.71,430.90 L495.18,431.07 L495.64,431.24 L496.11,431.41 L496.58,431.57 L497.05,431.73 L497.52,431.89 L497.99,432.05 L498.46,432.20 L498.93,432.36 L499.39,432.51 L499.86,432.66 L500.33,432.80 L500.80,432.95 L500.80,433.02 L500.33,432.88 L499.86,432.74 L499.39,432.60 L498.93,432.47 L498.46,432.33 L497.99,432.19 L497.52,432.06 L497.05,431.92 L496.58,431.78 L496.11,431.64 L495.64,431.51 L495.18,431.37 L494.71,431.23 L494.24,431.10 L493.77,430.96 L493.30,430.82 L492.83,430.69 L492.36,430.55 L491.89,430.41 L491.43,430.27 L490.96,430.14 L490.49,430.00 L490.02,429.86 L489.55,429.73 L489.08,429.59 L488.61,429.45 L488.14,429.31 L487.68,429.18 L487.21,429.04 L486.74,428.90 L486.27,428.77 L485.80,428.63 L485.33,428.49 L484.86,428.36 L484.39,428.22 L483.93,428.08 L483.46,427.94 L482.99,427.81 L482.52,427.67 L482.05,427.53 L481.58,427.40 L481.11,427.26 L480.64,427.12 L480.18,426.98 L479.71,426.85 L479.24,426.71 L478.77,426.57 L478.30,426.44 L477.83,426.30 L477.36,426.16 L476.89,426.03 L476.43,425.89 L475.96,425.75 L475.49,425.61 L475.02,425.48 L474.55,425.34 L474.08,425.20 L473.61,425.07 L473.14,424.93 L472.68,424.79 L472.21,424.65 L471.74,424.52 L471.27,424.38 L470.80,424.24 L470.34,424.11 L469.87,423.97 L469.41,423.84 L468.94,423.70 L468.48,423.57 L468.02,423.43 L467.55,423.29 L467.09,423.16 L466.63,423.02 L466.16,422.89 L465.70,422.75 L465.23,422.62 L464.77,422.48 L464.31,422.34 L463.84,422.21 L463.38,422.07 L462.92,421.94 L462.45,421.80 L461.99,421.67 L461.52,421.53 L461.06,421.40 L460.60,421.26 L460.13,421.12 L459.67,420.99 L459.21,420.85 L458.74,420.72 L458.28,420.58 L457.81,420.45 L457.35,420.31 L456.89,420.18 L456.42,420.04 L455.96,419.90 L455.50,419.77 L455.03,419.63 L454.57,419.50 L454.10,419.36 L453.64,419.23 L453.18,419.09 L452.71,418.95 L452.25,418.82 L451.79,418.68 L451.32,418.55 L450.86,418.41 L450.39,418.28 L449.93,418.14 L449.47,418.01 L449.00,417.87 L448.54,417.73 L448.08,417.60 L447.61,417.46 L447.15,417.33 L446.68,417.19 L446.22,417.06 L445.76,416.92 L445.29,416.79 L444.83,416.65 L444.37,416.51 L443.90,416.38 L443.44,416.24 L442.97,416.11 L442.51,415.97 L442.05,415.84 L441.58,415.70 L441.12,415.56 L440.66,415.43 L440.19,415.29 L439.73,415.16 L439.26,415.02 L438.80,414.89Z" fill="#10A3D6"/>
<circle cx="207.2" cy="296.1" r="1.75" fill="#10A3D6"/>
<circle cx="214.4" cy="298.3" r="1.75" fill="#10A3D6"/>
<circle cx="221.6" cy="300.5" r="1.75" fill="#10A3D6"/>
<circle cx="405.5" cy="375.6" r="1.75" fill="#10A3D6"/>
<circle cx="412.7" cy="377.8" r="1.75" fill="#10A3D6"/>
<circle cx="419.9" cy="380" r="1.75" fill="#10A3D6"/>
<line x1="242" y1="424.28" x2="250.5" y2="426.77" stroke="#0880C4" stroke-width="2.8" stroke-linecap="butt"/>
<line x1="259.4" y1="429.38" x2="267.9" y2="431.87" stroke="#0880C4" stroke-width="2.8" stroke-linecap="butt"/>
<line x1="276.8" y1="434.48" x2="285.3" y2="436.97" stroke="#0880C4" stroke-width="2.8" stroke-linecap="butt"/>
<path d="M89.00,379.34 L89.46,379.46 L89.93,379.59 L90.39,379.71 L90.86,379.83 L91.32,379.94 L91.78,380.05 L92.25,380.16 L92.71,380.27 L93.17,380.37 L93.64,380.47 L94.10,380.57 L94.57,380.66 L95.03,380.74 L95.49,380.82 L95.96,380.90 L96.42,380.96 L96.88,381.02 L97.35,381.07 L97.81,381.11 L98.28,381.15 L98.74,381.17 L99.20,381.17 L99.67,381.17 L100.13,381.15 L100.59,381.11 L101.06,381.05 L101.52,380.97 L101.99,380.86 L102.45,380.71 L102.91,380.54 L103.38,380.32 L103.84,380.05 L104.30,379.72 L104.77,379.33 L105.23,378.86 L105.70,378.30 L106.16,377.63 L106.62,376.85 L107.09,375.94 L107.55,374.88 L108.01,373.66 L108.48,372.25 L108.94,370.64 L109.41,368.81 L109.87,366.76 L110.33,364.46 L110.80,361.90 L111.26,359.09 L111.72,356.01 L112.19,352.68 L112.65,349.10 L113.12,345.30 L113.58,341.28 L114.04,337.09 L114.51,332.77 L114.97,328.35 L115.43,323.90 L115.90,319.47 L116.36,315.12 L116.83,310.93 L117.29,306.95 L117.75,303.26 L118.22,299.92 L118.68,297.00 L119.14,294.55 L119.61,292.62 L120.07,291.25 L120.54,290.47 L121.00,290.30 L121.47,290.80 L121.94,292.02 L122.41,293.94 L122.88,296.51 L123.34,299.68 L123.81,303.38 L124.28,307.53 L124.75,312.05 L125.22,316.85 L125.69,321.85 L126.16,326.95 L126.62,332.07 L127.09,337.15 L127.56,342.10 L128.03,346.88 L128.50,351.44 L128.97,355.74 L129.44,359.76 L129.91,363.47 L130.38,366.87 L130.84,369.96 L131.31,372.75 L131.78,375.25 L132.25,377.47 L132.72,379.45 L133.19,381.19 L133.66,382.72 L134.12,384.07 L134.59,385.25 L135.06,386.29 L135.53,387.20 L136.00,388.01 L136.47,388.72 L136.94,389.36 L137.41,389.94 L137.88,390.45 L138.34,390.93 L138.81,391.36 L139.28,391.76 L139.75,392.13 L140.22,392.48 L140.69,392.80 L141.16,393.11 L141.62,393.41 L142.09,393.68 L142.56,393.95 L143.03,394.20 L143.50,394.45 L143.97,394.68 L144.44,394.91 L144.91,395.13 L145.38,395.34 L145.84,395.54 L146.31,395.74 L146.78,395.93 L147.25,396.12 L147.72,396.30 L148.19,396.48 L148.66,396.65 L149.12,396.82 L149.59,396.99 L150.06,397.15 L150.53,397.31 L151.00,397.46 L151.00,397.60 L150.53,397.46 L150.06,397.32 L149.59,397.18 L149.12,397.05 L148.66,396.91 L148.19,396.77 L147.72,396.63 L147.25,396.50 L146.78,396.36 L146.31,396.22 L145.84,396.08 L145.38,395.95 L144.91,395.81 L144.44,395.67 L143.97,395.53 L143.50,395.40 L143.03,395.26 L142.56,395.12 L142.09,394.98 L141.62,394.85 L141.16,394.71 L140.69,394.57 L140.22,394.43 L139.75,394.30 L139.28,394.16 L138.81,394.02 L138.34,393.89 L137.88,393.75 L137.41,393.61 L136.94,393.47 L136.47,393.34 L136.00,393.20 L135.53,393.06 L135.06,392.92 L134.59,392.79 L134.12,392.65 L133.66,392.51 L133.19,392.37 L132.72,392.24 L132.25,392.10 L131.78,391.96 L131.31,391.82 L130.84,391.69 L130.38,391.55 L129.91,391.41 L129.44,391.27 L128.97,391.14 L128.50,391.00 L128.03,390.86 L127.56,390.72 L127.09,390.59 L126.62,390.45 L126.16,390.31 L125.69,390.17 L125.22,390.04 L124.75,389.90 L124.28,389.76 L123.81,389.62 L123.34,389.49 L122.88,389.35 L122.41,389.21 L121.94,389.07 L121.47,388.94 L121.00,388.80 L120.54,388.66 L120.07,388.53 L119.61,388.39 L119.14,388.26 L118.68,388.12 L118.22,387.98 L117.75,387.85 L117.29,387.71 L116.83,387.58 L116.36,387.44 L115.90,387.30 L115.43,387.17 L114.97,387.03 L114.51,386.90 L114.04,386.76 L113.58,386.62 L113.12,386.49 L112.65,386.35 L112.19,386.22 L111.72,386.08 L111.26,385.94 L110.80,385.81 L110.33,385.67 L109.87,385.54 L109.41,385.40 L108.94,385.26 L108.48,385.13 L108.01,384.99 L107.55,384.86 L107.09,384.72 L106.62,384.58 L106.16,384.45 L105.70,384.31 L105.23,384.18 L104.77,384.04 L104.30,383.90 L103.84,383.77 L103.38,383.63 L102.91,383.50 L102.45,383.36 L101.99,383.22 L101.52,383.09 L101.06,382.95 L100.59,382.82 L100.13,382.68 L99.67,382.55 L99.20,382.41 L98.74,382.27 L98.28,382.14 L97.81,382.00 L97.35,381.87 L96.88,381.73 L96.42,381.59 L95.96,381.46 L95.49,381.32 L95.03,381.19 L94.57,381.05 L94.10,380.91 L93.64,380.78 L93.17,380.64 L92.71,380.51 L92.25,380.37 L91.78,380.23 L91.32,380.10 L90.86,379.96 L90.39,379.83 L89.93,379.69 L89.46,379.55 L89.00,379.42Z" fill="#0880C4"/>
<path d="M141.00,394.59 L141.46,394.71 L141.93,394.83 L142.39,394.95 L142.86,395.07 L143.32,395.19 L143.78,395.30 L144.25,395.41 L144.71,395.52 L145.17,395.62 L145.64,395.72 L146.10,395.82 L146.57,395.91 L147.03,395.99 L147.49,396.07 L147.96,396.14 L148.42,396.21 L148.88,396.27 L149.35,396.32 L149.81,396.36 L150.28,396.39 L150.74,396.41 L151.20,396.42 L151.67,396.42 L152.13,396.40 L152.59,396.36 L153.06,396.30 L153.52,396.22 L153.99,396.11 L154.45,395.97 L154.91,395.79 L155.38,395.57 L155.84,395.30 L156.30,394.97 L156.77,394.58 L157.23,394.11 L157.70,393.55 L158.16,392.89 L158.62,392.11 L159.09,391.20 L159.55,390.14 L160.01,388.92 L160.48,387.51 L160.94,385.91 L161.41,384.08 L161.87,382.03 L162.33,379.73 L162.80,377.18 L163.26,374.38 L163.72,371.31 L164.19,367.98 L164.65,364.41 L165.12,360.61 L165.58,356.60 L166.04,352.42 L166.51,348.10 L166.97,343.69 L167.43,339.25 L167.90,334.82 L168.36,330.48 L168.83,326.29 L169.29,322.32 L169.75,318.64 L170.22,315.31 L170.68,312.39 L171.14,309.94 L171.61,308.02 L172.07,306.65 L172.54,305.87 L173.00,305.70 L173.47,306.20 L173.94,307.42 L174.41,309.34 L174.88,311.90 L175.34,315.07 L175.81,318.76 L176.28,322.90 L176.75,327.42 L177.22,332.21 L177.69,337.20 L178.16,342.29 L178.62,347.41 L179.09,352.48 L179.56,357.43 L180.03,362.20 L180.50,366.75 L180.97,371.04 L181.44,375.05 L181.91,378.76 L182.38,382.15 L182.84,385.24 L183.31,388.02 L183.78,390.52 L184.25,392.74 L184.72,394.71 L185.19,396.45 L185.66,397.98 L186.12,399.33 L186.59,400.51 L187.06,401.54 L187.53,402.46 L188.00,403.26 L188.47,403.98 L188.94,404.62 L189.41,405.19 L189.88,405.71 L190.34,406.18 L190.81,406.61 L191.28,407.01 L191.75,407.38 L192.22,407.73 L192.69,408.05 L193.16,408.36 L193.62,408.65 L194.09,408.93 L194.56,409.20 L195.03,409.45 L195.50,409.70 L195.97,409.93 L196.44,410.16 L196.91,410.38 L197.38,410.59 L197.84,410.79 L198.31,410.99 L198.78,411.18 L199.25,411.37 L199.72,411.55 L200.19,411.72 L200.66,411.90 L201.12,412.07 L201.59,412.23 L202.06,412.39 L202.53,412.55 L203.00,412.71 L203.00,412.84 L202.53,412.70 L202.06,412.57 L201.59,412.43 L201.12,412.29 L200.66,412.16 L200.19,412.02 L199.72,411.88 L199.25,411.74 L198.78,411.61 L198.31,411.47 L197.84,411.33 L197.38,411.19 L196.91,411.06 L196.44,410.92 L195.97,410.78 L195.50,410.64 L195.03,410.51 L194.56,410.37 L194.09,410.23 L193.62,410.09 L193.16,409.96 L192.69,409.82 L192.22,409.68 L191.75,409.54 L191.28,409.41 L190.81,409.27 L190.34,409.13 L189.88,408.99 L189.41,408.86 L188.94,408.72 L188.47,408.58 L188.00,408.44 L187.53,408.31 L187.06,408.17 L186.59,408.03 L186.12,407.89 L185.66,407.76 L185.19,407.62 L184.72,407.48 L184.25,407.34 L183.78,407.21 L183.31,407.07 L182.84,406.93 L182.38,406.80 L181.91,406.66 L181.44,406.52 L180.97,406.38 L180.50,406.25 L180.03,406.11 L179.56,405.97 L179.09,405.83 L178.62,405.70 L178.16,405.56 L177.69,405.42 L177.22,405.28 L176.75,405.15 L176.28,405.01 L175.81,404.87 L175.34,404.73 L174.88,404.60 L174.41,404.46 L173.94,404.32 L173.47,404.18 L173.00,404.05 L172.54,403.91 L172.07,403.77 L171.61,403.64 L171.14,403.50 L170.68,403.37 L170.22,403.23 L169.75,403.09 L169.29,402.96 L168.83,402.82 L168.36,402.69 L167.90,402.55 L167.43,402.41 L166.97,402.28 L166.51,402.14 L166.04,402.01 L165.58,401.87 L165.12,401.73 L164.65,401.60 L164.19,401.46 L163.72,401.33 L163.26,401.19 L162.80,401.05 L162.33,400.92 L161.87,400.78 L161.41,400.65 L160.94,400.51 L160.48,400.38 L160.01,400.24 L159.55,400.10 L159.09,399.97 L158.62,399.83 L158.16,399.70 L157.70,399.56 L157.23,399.42 L156.77,399.29 L156.30,399.15 L155.84,399.02 L155.38,398.88 L154.91,398.74 L154.45,398.61 L153.99,398.47 L153.52,398.34 L153.06,398.20 L152.59,398.06 L152.13,397.93 L151.67,397.79 L151.20,397.66 L150.74,397.52 L150.28,397.38 L149.81,397.25 L149.35,397.11 L148.88,396.98 L148.42,396.84 L147.96,396.70 L147.49,396.57 L147.03,396.43 L146.57,396.30 L146.10,396.16 L145.64,396.02 L145.17,395.89 L144.71,395.75 L144.25,395.62 L143.78,395.48 L143.32,395.34 L142.86,395.21 L142.39,395.07 L141.93,394.94 L141.46,394.80 L141.00,394.66Z" fill="#0880C4"/>
<path d="M175.00,404.56 L175.46,404.68 L175.93,404.80 L176.39,404.92 L176.86,405.04 L177.32,405.16 L177.78,405.27 L178.25,405.38 L178.71,405.49 L179.17,405.59 L179.64,405.69 L180.10,405.78 L180.57,405.87 L181.03,405.96 L181.49,406.04 L181.96,406.11 L182.42,406.18 L182.88,406.24 L183.35,406.29 L183.81,406.33 L184.28,406.36 L184.74,406.38 L185.20,406.39 L185.67,406.38 L186.13,406.36 L186.59,406.32 L187.06,406.26 L187.52,406.18 L187.99,406.07 L188.45,405.92 L188.91,405.75 L189.38,405.52 L189.84,405.25 L190.30,404.93 L190.77,404.53 L191.23,404.06 L191.70,403.50 L192.16,402.83 L192.62,402.05 L193.09,401.14 L193.55,400.08 L194.01,398.85 L194.48,397.43 L194.94,395.82 L195.41,393.99 L195.87,391.93 L196.33,389.62 L196.80,387.06 L197.26,384.24 L197.72,381.16 L198.19,377.82 L198.65,374.24 L199.12,370.42 L199.58,366.40 L200.04,362.20 L200.51,357.86 L200.97,353.44 L201.43,348.98 L201.90,344.54 L202.36,340.18 L202.83,335.98 L203.29,331.99 L203.75,328.29 L204.22,324.95 L204.68,322.02 L205.14,319.56 L205.61,317.63 L206.07,316.25 L206.54,315.47 L207.00,315.30 L207.47,315.80 L207.94,317.03 L208.41,318.95 L208.88,321.52 L209.34,324.70 L209.81,328.40 L210.28,332.56 L210.75,337.09 L211.22,341.91 L211.69,346.91 L212.16,352.02 L212.62,357.16 L213.09,362.25 L213.56,367.21 L214.03,372.00 L214.50,376.57 L214.97,380.88 L215.44,384.90 L215.91,388.62 L216.38,392.03 L216.84,395.13 L217.31,397.92 L217.78,400.43 L218.25,402.66 L218.72,404.63 L219.19,406.38 L219.66,407.92 L220.12,409.26 L220.59,410.45 L221.06,411.49 L221.53,412.40 L222.00,413.21 L222.47,413.93 L222.94,414.57 L223.41,415.14 L223.88,415.66 L224.34,416.13 L224.81,416.57 L225.28,416.97 L225.75,417.34 L226.22,417.69 L226.69,418.01 L227.16,418.32 L227.62,418.62 L228.09,418.90 L228.56,419.16 L229.03,419.42 L229.50,419.66 L229.97,419.90 L230.44,420.12 L230.91,420.34 L231.38,420.55 L231.84,420.76 L232.31,420.96 L232.78,421.15 L233.25,421.33 L233.72,421.52 L234.19,421.69 L234.66,421.87 L235.12,422.03 L235.59,422.20 L236.06,422.36 L236.53,422.52 L237.00,422.68 L237.00,422.81 L236.53,422.67 L236.06,422.54 L235.59,422.40 L235.12,422.26 L234.66,422.12 L234.19,421.99 L233.72,421.85 L233.25,421.71 L232.78,421.57 L232.31,421.44 L231.84,421.30 L231.38,421.16 L230.91,421.02 L230.44,420.89 L229.97,420.75 L229.50,420.61 L229.03,420.47 L228.56,420.34 L228.09,420.20 L227.62,420.06 L227.16,419.93 L226.69,419.79 L226.22,419.65 L225.75,419.51 L225.28,419.38 L224.81,419.24 L224.34,419.10 L223.88,418.96 L223.41,418.83 L222.94,418.69 L222.47,418.55 L222.00,418.41 L221.53,418.28 L221.06,418.14 L220.59,418.00 L220.12,417.86 L219.66,417.73 L219.19,417.59 L218.72,417.45 L218.25,417.31 L217.78,417.18 L217.31,417.04 L216.84,416.90 L216.38,416.76 L215.91,416.63 L215.44,416.49 L214.97,416.35 L214.50,416.21 L214.03,416.08 L213.56,415.94 L213.09,415.80 L212.62,415.66 L212.16,415.53 L211.69,415.39 L211.22,415.25 L210.75,415.11 L210.28,414.98 L209.81,414.84 L209.34,414.70 L208.88,414.56 L208.41,414.43 L207.94,414.29 L207.47,414.15 L207.00,414.02 L206.54,413.88 L206.07,413.74 L205.61,413.61 L205.14,413.47 L204.68,413.34 L204.22,413.20 L203.75,413.06 L203.29,412.93 L202.83,412.79 L202.36,412.66 L201.90,412.52 L201.43,412.38 L200.97,412.25 L200.51,412.11 L200.04,411.98 L199.58,411.84 L199.12,411.70 L198.65,411.57 L198.19,411.43 L197.72,411.30 L197.26,411.16 L196.80,411.02 L196.33,410.89 L195.87,410.75 L195.41,410.62 L194.94,410.48 L194.48,410.34 L194.01,410.21 L193.55,410.07 L193.09,409.94 L192.62,409.80 L192.16,409.66 L191.70,409.53 L191.23,409.39 L190.77,409.26 L190.30,409.12 L189.84,408.98 L189.38,408.85 L188.91,408.71 L188.45,408.58 L187.99,408.44 L187.52,408.30 L187.06,408.17 L186.59,408.03 L186.13,407.90 L185.67,407.76 L185.20,407.62 L184.74,407.49 L184.28,407.35 L183.81,407.22 L183.35,407.08 L182.88,406.94 L182.42,406.81 L181.96,406.67 L181.49,406.54 L181.03,406.40 L180.57,406.26 L180.10,406.13 L179.64,405.99 L179.17,405.86 L178.71,405.72 L178.25,405.58 L177.78,405.45 L177.32,405.31 L176.86,405.18 L176.39,405.04 L175.93,404.90 L175.46,404.77 L175.00,404.63Z" fill="#0880C4"/>
<path d="M287.80,437.67 L288.26,437.80 L288.73,437.93 L289.19,438.06 L289.66,438.18 L290.12,438.31 L290.58,438.44 L291.05,438.56 L291.51,438.68 L291.97,438.80 L292.44,438.92 L292.90,439.04 L293.37,439.15 L293.83,439.26 L294.29,439.37 L294.76,439.48 L295.22,439.58 L295.68,439.68 L296.15,439.78 L296.61,439.87 L297.08,439.95 L297.54,440.03 L298.00,440.11 L298.47,440.18 L298.93,440.24 L299.39,440.29 L299.86,440.33 L300.32,440.36 L300.79,440.38 L301.25,440.39 L301.71,440.37 L302.18,440.34 L302.64,440.28 L303.10,440.20 L303.57,440.08 L304.03,439.93 L304.50,439.73 L304.96,439.49 L305.42,439.19 L305.89,438.82 L306.35,438.39 L306.81,437.87 L307.28,437.27 L307.74,436.58 L308.21,435.78 L308.67,434.87 L309.13,433.84 L309.60,432.69 L310.06,431.42 L310.52,430.03 L310.99,428.51 L311.45,426.87 L311.92,425.13 L312.38,423.28 L312.84,421.35 L313.31,419.36 L313.77,417.33 L314.23,415.28 L314.70,413.23 L315.16,411.23 L315.63,409.30 L316.09,407.47 L316.55,405.78 L317.02,404.26 L317.48,402.94 L317.94,401.84 L318.41,400.99 L318.87,400.41 L319.34,400.11 L319.80,400.10 L320.27,400.41 L320.74,401.07 L321.21,402.05 L321.68,403.35 L322.14,404.93 L322.61,406.77 L323.08,408.82 L323.55,411.05 L324.02,413.41 L324.49,415.87 L324.96,418.37 L325.43,420.89 L325.89,423.38 L326.36,425.82 L326.83,428.17 L327.30,430.42 L327.77,432.54 L328.24,434.53 L328.71,436.37 L329.18,438.06 L329.64,439.61 L330.11,441.01 L330.58,442.28 L331.05,443.41 L331.52,444.42 L331.99,445.33 L332.46,446.13 L332.93,446.84 L333.39,447.48 L333.86,448.05 L334.33,448.55 L334.80,449.01 L335.27,449.42 L335.74,449.80 L336.21,450.15 L336.68,450.46 L337.14,450.76 L337.61,451.04 L338.08,451.30 L338.55,451.55 L339.02,451.79 L339.49,452.02 L339.96,452.24 L340.43,452.45 L340.89,452.65 L341.36,452.85 L341.83,453.04 L342.30,453.23 L342.77,453.42 L343.24,453.60 L343.71,453.77 L344.18,453.95 L344.64,454.11 L345.11,454.28 L345.58,454.44 L346.05,454.60 L346.52,454.76 L346.99,454.92 L347.46,455.07 L347.93,455.23 L348.39,455.38 L348.86,455.53 L349.33,455.67 L349.80,455.82 L349.80,455.88 L349.33,455.75 L348.86,455.61 L348.39,455.47 L347.93,455.33 L347.46,455.20 L346.99,455.06 L346.52,454.92 L346.05,454.78 L345.58,454.65 L345.11,454.51 L344.64,454.37 L344.18,454.23 L343.71,454.10 L343.24,453.96 L342.77,453.82 L342.30,453.69 L341.83,453.55 L341.36,453.41 L340.89,453.27 L340.43,453.14 L339.96,453.00 L339.49,452.86 L339.02,452.72 L338.55,452.59 L338.08,452.45 L337.61,452.31 L337.14,452.17 L336.68,452.04 L336.21,451.90 L335.74,451.76 L335.27,451.62 L334.80,451.49 L334.33,451.35 L333.86,451.21 L333.39,451.07 L332.93,450.94 L332.46,450.80 L331.99,450.66 L331.52,450.52 L331.05,450.39 L330.58,450.25 L330.11,450.11 L329.64,449.97 L329.18,449.84 L328.71,449.70 L328.24,449.56 L327.77,449.42 L327.30,449.29 L326.83,449.15 L326.36,449.01 L325.89,448.87 L325.43,448.74 L324.96,448.60 L324.49,448.46 L324.02,448.33 L323.55,448.19 L323.08,448.05 L322.61,447.91 L322.14,447.78 L321.68,447.64 L321.21,447.50 L320.74,447.36 L320.27,447.23 L319.80,447.09 L319.34,446.95 L318.87,446.82 L318.41,446.68 L317.94,446.54 L317.48,446.41 L317.02,446.27 L316.55,446.14 L316.09,446.00 L315.63,445.86 L315.16,445.73 L314.70,445.59 L314.23,445.46 L313.77,445.32 L313.31,445.18 L312.84,445.05 L312.38,444.91 L311.92,444.78 L311.45,444.64 L310.99,444.50 L310.52,444.37 L310.06,444.23 L309.60,444.10 L309.13,443.96 L308.67,443.82 L308.21,443.69 L307.74,443.55 L307.28,443.42 L306.81,443.28 L306.35,443.14 L305.89,443.01 L305.42,442.87 L304.96,442.74 L304.50,442.60 L304.03,442.46 L303.57,442.33 L303.10,442.19 L302.64,442.06 L302.18,441.92 L301.71,441.79 L301.25,441.65 L300.79,441.51 L300.32,441.38 L299.86,441.24 L299.39,441.11 L298.93,440.97 L298.47,440.83 L298.00,440.70 L297.54,440.56 L297.08,440.43 L296.61,440.29 L296.15,440.15 L295.68,440.02 L295.22,439.88 L294.76,439.75 L294.29,439.61 L293.83,439.47 L293.37,439.34 L292.90,439.20 L292.44,439.07 L291.97,438.93 L291.51,438.79 L291.05,438.66 L290.58,438.52 L290.12,438.39 L289.66,438.25 L289.19,438.11 L288.73,437.98 L288.26,437.84 L287.80,437.71Z" fill="#0880C4"/>
<path d="M340.00,452.97 L340.46,453.10 L340.93,453.23 L341.39,453.36 L341.86,453.49 L342.32,453.62 L342.78,453.74 L343.25,453.86 L343.71,453.99 L344.17,454.11 L344.64,454.22 L345.10,454.34 L345.57,454.45 L346.03,454.57 L346.49,454.68 L346.96,454.78 L347.42,454.88 L347.88,454.98 L348.35,455.08 L348.81,455.17 L349.28,455.25 L349.74,455.33 L350.20,455.41 L350.67,455.48 L351.13,455.54 L351.59,455.59 L352.06,455.63 L352.52,455.66 L352.99,455.68 L353.45,455.68 L353.91,455.67 L354.38,455.63 L354.84,455.57 L355.30,455.48 L355.77,455.37 L356.23,455.21 L356.70,455.01 L357.16,454.76 L357.62,454.46 L358.09,454.09 L358.55,453.65 L359.01,453.13 L359.48,452.52 L359.94,451.82 L360.41,451.01 L360.87,450.09 L361.33,449.06 L361.80,447.90 L362.26,446.62 L362.72,445.21 L363.19,443.67 L363.65,442.02 L364.12,440.26 L364.58,438.40 L365.04,436.46 L365.51,434.45 L365.97,432.39 L366.43,430.32 L366.90,428.26 L367.36,426.24 L367.83,424.29 L368.29,422.45 L368.75,420.74 L369.22,419.21 L369.68,417.87 L370.14,416.76 L370.61,415.90 L371.07,415.32 L371.54,415.01 L372.00,415.00 L372.47,415.31 L372.94,415.97 L373.41,416.97 L373.88,418.27 L374.34,419.87 L374.81,421.72 L375.28,423.79 L375.75,426.04 L376.22,428.42 L376.69,430.89 L377.16,433.42 L377.62,435.95 L378.09,438.47 L378.56,440.92 L379.03,443.30 L379.50,445.56 L379.97,447.70 L380.44,449.70 L380.91,451.56 L381.38,453.27 L381.84,454.83 L382.31,456.24 L382.78,457.51 L383.25,458.65 L383.72,459.68 L384.19,460.59 L384.66,461.39 L385.12,462.11 L385.59,462.75 L386.06,463.32 L386.53,463.83 L387.00,464.29 L387.47,464.71 L387.94,465.09 L388.41,465.44 L388.88,465.76 L389.34,466.05 L389.81,466.33 L390.28,466.60 L390.75,466.85 L391.22,467.09 L391.69,467.31 L392.16,467.53 L392.62,467.75 L393.09,467.95 L393.56,468.15 L394.03,468.35 L394.50,468.53 L394.97,468.72 L395.44,468.90 L395.91,469.07 L396.38,469.25 L396.84,469.42 L397.31,469.58 L397.78,469.75 L398.25,469.91 L398.72,470.07 L399.19,470.22 L399.66,470.38 L400.12,470.53 L400.59,470.68 L401.06,470.83 L401.53,470.98 L402.00,471.13 L402.00,471.19 L401.53,471.05 L401.06,470.91 L400.59,470.78 L400.12,470.64 L399.66,470.50 L399.19,470.36 L398.72,470.23 L398.25,470.09 L397.78,469.95 L397.31,469.81 L396.84,469.68 L396.38,469.54 L395.91,469.40 L395.44,469.27 L394.97,469.13 L394.50,468.99 L394.03,468.85 L393.56,468.72 L393.09,468.58 L392.62,468.44 L392.16,468.30 L391.69,468.17 L391.22,468.03 L390.75,467.89 L390.28,467.75 L389.81,467.62 L389.34,467.48 L388.88,467.34 L388.41,467.20 L387.94,467.07 L387.47,466.93 L387.00,466.79 L386.53,466.65 L386.06,466.52 L385.59,466.38 L385.12,466.24 L384.66,466.10 L384.19,465.97 L383.72,465.83 L383.25,465.69 L382.78,465.55 L382.31,465.42 L381.84,465.28 L381.38,465.14 L380.91,465.00 L380.44,464.87 L379.97,464.73 L379.50,464.59 L379.03,464.45 L378.56,464.32 L378.09,464.18 L377.62,464.04 L377.16,463.91 L376.69,463.77 L376.22,463.63 L375.75,463.49 L375.28,463.36 L374.81,463.22 L374.34,463.08 L373.88,462.94 L373.41,462.81 L372.94,462.67 L372.47,462.53 L372.00,462.39 L371.54,462.26 L371.07,462.12 L370.61,461.99 L370.14,461.85 L369.68,461.71 L369.22,461.58 L368.75,461.44 L368.29,461.31 L367.83,461.17 L367.36,461.03 L366.90,460.90 L366.43,460.76 L365.97,460.63 L365.51,460.49 L365.04,460.35 L364.58,460.22 L364.12,460.08 L363.65,459.95 L363.19,459.81 L362.72,459.67 L362.26,459.54 L361.80,459.40 L361.33,459.27 L360.87,459.13 L360.41,458.99 L359.94,458.86 L359.48,458.72 L359.01,458.59 L358.55,458.45 L358.09,458.31 L357.62,458.18 L357.16,458.04 L356.70,457.91 L356.23,457.77 L355.77,457.63 L355.30,457.50 L354.84,457.36 L354.38,457.23 L353.91,457.09 L353.45,456.95 L352.99,456.82 L352.52,456.68 L352.06,456.55 L351.59,456.41 L351.13,456.27 L350.67,456.14 L350.20,456.00 L349.74,455.87 L349.28,455.73 L348.81,455.59 L348.35,455.46 L347.88,455.32 L347.42,455.19 L346.96,455.05 L346.49,454.91 L346.03,454.78 L345.57,454.64 L345.10,454.51 L344.64,454.37 L344.17,454.23 L343.71,454.10 L343.25,453.96 L342.78,453.83 L342.32,453.69 L341.86,453.55 L341.39,453.42 L340.93,453.28 L340.46,453.15 L340.00,453.01Z" fill="#0880C4"/>
<path d="M373.70,462.85 L374.16,462.99 L374.63,463.11 L375.09,463.24 L375.56,463.37 L376.02,463.50 L376.48,463.62 L376.95,463.74 L377.41,463.87 L377.87,463.99 L378.34,464.11 L378.80,464.22 L379.27,464.34 L379.73,464.45 L380.19,464.56 L380.66,464.66 L381.12,464.76 L381.58,464.86 L382.05,464.96 L382.51,465.05 L382.98,465.14 L383.44,465.22 L383.90,465.29 L384.37,465.36 L384.83,465.42 L385.29,465.47 L385.76,465.51 L386.22,465.54 L386.69,465.56 L387.15,465.56 L387.61,465.55 L388.08,465.52 L388.54,465.46 L389.00,465.37 L389.47,465.25 L389.93,465.10 L390.40,464.90 L390.86,464.65 L391.32,464.35 L391.79,463.98 L392.25,463.54 L392.71,463.03 L393.18,462.42 L393.64,461.72 L394.11,460.91 L394.57,460.00 L395.03,458.96 L395.50,457.81 L395.96,456.53 L396.42,455.12 L396.89,453.60 L397.35,451.95 L397.82,450.19 L398.28,448.34 L398.74,446.40 L399.21,444.39 L399.67,442.34 L400.13,440.28 L400.60,438.22 L401.06,436.21 L401.53,434.26 L401.99,432.43 L402.45,430.73 L402.92,429.19 L403.38,427.86 L403.84,426.76 L404.31,425.90 L404.77,425.31 L405.24,425.01 L405.70,425.00 L406.17,425.31 L406.64,425.97 L407.11,426.96 L407.57,428.27 L408.04,429.86 L408.51,431.71 L408.98,433.77 L409.45,436.01 L409.92,438.39 L410.39,440.85 L410.86,443.37 L411.32,445.91 L411.79,448.41 L412.26,450.86 L412.73,453.23 L413.20,455.49 L413.67,457.62 L414.14,459.62 L414.61,461.47 L415.07,463.18 L415.54,464.73 L416.01,466.14 L416.48,467.41 L416.95,468.55 L417.42,469.57 L417.89,470.48 L418.36,471.29 L418.82,472.00 L419.29,472.64 L419.76,473.21 L420.23,473.72 L420.70,474.18 L421.17,474.60 L421.64,474.97 L422.11,475.32 L422.57,475.64 L423.04,475.94 L423.51,476.22 L423.98,476.48 L424.45,476.73 L424.92,476.97 L425.39,477.20 L425.86,477.42 L426.32,477.63 L426.79,477.83 L427.26,478.03 L427.73,478.23 L428.20,478.42 L428.67,478.60 L429.14,478.78 L429.61,478.96 L430.07,479.13 L430.54,479.30 L431.01,479.46 L431.48,479.63 L431.95,479.79 L432.42,479.95 L432.89,480.10 L433.36,480.26 L433.82,480.41 L434.29,480.56 L434.76,480.71 L435.23,480.86 L435.70,481.01 L435.70,481.07 L435.23,480.93 L434.76,480.80 L434.29,480.66 L433.82,480.52 L433.36,480.38 L432.89,480.25 L432.42,480.11 L431.95,479.97 L431.48,479.83 L431.01,479.70 L430.54,479.56 L430.07,479.42 L429.61,479.28 L429.14,479.15 L428.67,479.01 L428.20,478.87 L427.73,478.73 L427.26,478.60 L426.79,478.46 L426.32,478.32 L425.86,478.18 L425.39,478.05 L424.92,477.91 L424.45,477.77 L423.98,477.63 L423.51,477.50 L423.04,477.36 L422.57,477.22 L422.11,477.08 L421.64,476.95 L421.17,476.81 L420.70,476.67 L420.23,476.53 L419.76,476.40 L419.29,476.26 L418.82,476.12 L418.36,475.98 L417.89,475.85 L417.42,475.71 L416.95,475.57 L416.48,475.44 L416.01,475.30 L415.54,475.16 L415.07,475.02 L414.61,474.89 L414.14,474.75 L413.67,474.61 L413.20,474.47 L412.73,474.34 L412.26,474.20 L411.79,474.06 L411.32,473.92 L410.86,473.79 L410.39,473.65 L409.92,473.51 L409.45,473.37 L408.98,473.24 L408.51,473.10 L408.04,472.96 L407.57,472.82 L407.11,472.69 L406.64,472.55 L406.17,472.41 L405.70,472.27 L405.24,472.14 L404.77,472.00 L404.31,471.87 L403.84,471.73 L403.38,471.59 L402.92,471.46 L402.45,471.32 L401.99,471.19 L401.53,471.05 L401.06,470.91 L400.60,470.78 L400.13,470.64 L399.67,470.51 L399.21,470.37 L398.74,470.23 L398.28,470.10 L397.82,469.96 L397.35,469.83 L396.89,469.69 L396.42,469.55 L395.96,469.42 L395.50,469.28 L395.03,469.15 L394.57,469.01 L394.11,468.87 L393.64,468.74 L393.18,468.60 L392.71,468.47 L392.25,468.33 L391.79,468.19 L391.32,468.06 L390.86,467.92 L390.40,467.79 L389.93,467.65 L389.47,467.51 L389.00,467.38 L388.54,467.24 L388.08,467.11 L387.61,466.97 L387.15,466.83 L386.69,466.70 L386.22,466.56 L385.76,466.43 L385.29,466.29 L384.83,466.16 L384.37,466.02 L383.90,465.88 L383.44,465.75 L382.98,465.61 L382.51,465.48 L382.05,465.34 L381.58,465.20 L381.12,465.07 L380.66,464.93 L380.19,464.80 L379.73,464.66 L379.27,464.52 L378.80,464.39 L378.34,464.25 L377.87,464.12 L377.41,463.98 L376.95,463.84 L376.48,463.71 L376.02,463.57 L375.56,463.44 L375.09,463.30 L374.63,463.16 L374.16,463.03 L373.70,462.89Z" fill="#0880C4"/>
<circle cx="142.3" cy="343.4" r="1.75" fill="#0880C4"/>
<circle cx="149.5" cy="345.6" r="1.75" fill="#0880C4"/>
<circle cx="156.7" cy="347.8" r="1.75" fill="#0880C4"/>
<circle cx="340.7" cy="422.4" r="1.75" fill="#0880C4"/>
<circle cx="347.9" cy="424.6" r="1.75" fill="#0880C4"/>
<circle cx="355.1" cy="426.8" r="1.75" fill="#0880C4"/>
<line x1="180.3" y1="468.97" x2="188.8" y2="471.47" stroke="#0064A9" stroke-width="2.8" stroke-linecap="butt"/>
<line x1="197.7" y1="474.09" x2="206.2" y2="476.59" stroke="#0064A9" stroke-width="2.8" stroke-linecap="butt"/>
<line x1="215.1" y1="479.21" x2="223.6" y2="481.7" stroke="#0064A9" stroke-width="2.8" stroke-linecap="butt"/>
<path d="M27.30,423.92 L27.76,424.04 L28.23,424.16 L28.69,424.28 L29.16,424.40 L29.62,424.52 L30.08,424.63 L30.55,424.74 L31.01,424.85 L31.47,424.95 L31.94,425.05 L32.40,425.15 L32.87,425.24 L33.33,425.32 L33.79,425.40 L34.26,425.48 L34.72,425.54 L35.18,425.60 L35.65,425.65 L36.11,425.70 L36.58,425.73 L37.04,425.75 L37.50,425.76 L37.97,425.75 L38.43,425.73 L38.89,425.69 L39.36,425.63 L39.82,425.55 L40.29,425.44 L40.75,425.30 L41.21,425.12 L41.68,424.90 L42.14,424.63 L42.60,424.31 L43.07,423.91 L43.53,423.44 L44.00,422.88 L44.46,422.22 L44.92,421.44 L45.39,420.53 L45.85,419.47 L46.31,418.25 L46.78,416.84 L47.24,415.23 L47.71,413.40 L48.17,411.35 L48.63,409.05 L49.10,406.49 L49.56,403.68 L50.02,400.61 L50.49,397.27 L50.95,393.70 L51.42,389.89 L51.88,385.87 L52.34,381.69 L52.81,377.36 L53.27,372.95 L53.73,368.50 L54.20,364.07 L54.66,359.72 L55.13,355.52 L55.59,351.55 L56.05,347.86 L56.52,344.52 L56.98,341.60 L57.44,339.15 L57.91,337.22 L58.37,335.85 L58.84,335.07 L59.30,334.90 L59.77,335.40 L60.24,336.62 L60.71,338.54 L61.17,341.11 L61.64,344.28 L62.11,347.98 L62.58,352.13 L63.05,356.65 L63.52,361.45 L63.99,366.45 L64.46,371.55 L64.92,376.68 L65.39,381.75 L65.86,386.71 L66.33,391.49 L66.80,396.05 L67.27,400.35 L67.74,404.36 L68.21,408.07 L68.67,411.47 L69.14,414.57 L69.61,417.36 L70.08,419.86 L70.55,422.08 L71.02,424.06 L71.49,425.80 L71.96,427.33 L72.42,428.68 L72.89,429.86 L73.36,430.90 L73.83,431.81 L74.30,432.62 L74.77,433.34 L75.24,433.98 L75.71,434.55 L76.17,435.07 L76.64,435.54 L77.11,435.97 L77.58,436.37 L78.05,436.74 L78.52,437.09 L78.99,437.42 L79.46,437.73 L79.92,438.02 L80.39,438.30 L80.86,438.57 L81.33,438.82 L81.80,439.07 L82.27,439.30 L82.74,439.53 L83.21,439.75 L83.67,439.96 L84.14,440.16 L84.61,440.36 L85.08,440.55 L85.55,440.74 L86.02,440.92 L86.49,441.10 L86.96,441.27 L87.42,441.44 L87.89,441.61 L88.36,441.77 L88.83,441.93 L89.30,442.09 L89.30,442.22 L88.83,442.08 L88.36,441.94 L87.89,441.81 L87.42,441.67 L86.96,441.53 L86.49,441.39 L86.02,441.26 L85.55,441.12 L85.08,440.98 L84.61,440.84 L84.14,440.70 L83.67,440.57 L83.21,440.43 L82.74,440.29 L82.27,440.15 L81.80,440.01 L81.33,439.88 L80.86,439.74 L80.39,439.60 L79.92,439.46 L79.46,439.33 L78.99,439.19 L78.52,439.05 L78.05,438.91 L77.58,438.77 L77.11,438.64 L76.64,438.50 L76.17,438.36 L75.71,438.22 L75.24,438.09 L74.77,437.95 L74.30,437.81 L73.83,437.67 L73.36,437.53 L72.89,437.40 L72.42,437.26 L71.96,437.12 L71.49,436.98 L71.02,436.85 L70.55,436.71 L70.08,436.57 L69.61,436.43 L69.14,436.29 L68.67,436.16 L68.21,436.02 L67.74,435.88 L67.27,435.74 L66.80,435.60 L66.33,435.47 L65.86,435.33 L65.39,435.19 L64.92,435.05 L64.46,434.92 L63.99,434.78 L63.52,434.64 L63.05,434.50 L62.58,434.36 L62.11,434.23 L61.64,434.09 L61.17,433.95 L60.71,433.81 L60.24,433.68 L59.77,433.54 L59.30,433.40 L58.84,433.26 L58.37,433.13 L57.91,432.99 L57.44,432.85 L56.98,432.72 L56.52,432.58 L56.05,432.45 L55.59,432.31 L55.13,432.17 L54.66,432.04 L54.20,431.90 L53.73,431.76 L53.27,431.63 L52.81,431.49 L52.34,431.35 L51.88,431.22 L51.42,431.08 L50.95,430.95 L50.49,430.81 L50.02,430.67 L49.56,430.54 L49.10,430.40 L48.63,430.26 L48.17,430.13 L47.71,429.99 L47.24,429.85 L46.78,429.72 L46.31,429.58 L45.85,429.45 L45.39,429.31 L44.92,429.17 L44.46,429.04 L44.00,428.90 L43.53,428.76 L43.07,428.63 L42.60,428.49 L42.14,428.36 L41.68,428.22 L41.21,428.08 L40.75,427.95 L40.29,427.81 L39.82,427.67 L39.36,427.54 L38.89,427.40 L38.43,427.26 L37.97,427.13 L37.50,426.99 L37.04,426.86 L36.58,426.72 L36.11,426.58 L35.65,426.45 L35.18,426.31 L34.72,426.17 L34.26,426.04 L33.79,425.90 L33.33,425.76 L32.87,425.63 L32.40,425.49 L31.94,425.36 L31.47,425.22 L31.01,425.08 L30.55,424.95 L30.08,424.81 L29.62,424.67 L29.16,424.54 L28.69,424.40 L28.23,424.26 L27.76,424.13 L27.30,423.99Z" fill="#0064A9"/>
<path d="M79.10,439.14 L79.56,439.27 L80.03,439.39 L80.49,439.51 L80.96,439.63 L81.42,439.75 L81.88,439.86 L82.35,439.97 L82.81,440.08 L83.27,440.18 L83.74,440.28 L84.20,440.38 L84.67,440.47 L85.13,440.55 L85.59,440.63 L86.06,440.71 L86.52,440.77 L86.98,440.83 L87.45,440.88 L87.91,440.92 L88.38,440.96 L88.84,440.98 L89.30,440.98 L89.77,440.98 L90.23,440.96 L90.69,440.92 L91.16,440.86 L91.62,440.78 L92.09,440.67 L92.55,440.53 L93.01,440.35 L93.48,440.13 L93.94,439.86 L94.40,439.53 L94.87,439.14 L95.33,438.67 L95.80,438.11 L96.26,437.44 L96.72,436.66 L97.19,435.75 L97.65,434.69 L98.11,433.46 L98.58,432.05 L99.04,430.44 L99.51,428.61 L99.97,426.55 L100.43,424.25 L100.90,421.69 L101.36,418.87 L101.82,415.80 L102.29,412.46 L102.75,408.88 L103.22,405.06 L103.68,401.04 L104.14,396.85 L104.61,392.52 L105.07,388.10 L105.53,383.64 L106.00,379.21 L106.46,374.85 L106.93,370.65 L107.39,366.67 L107.85,362.98 L108.32,359.63 L108.78,356.71 L109.24,354.25 L109.71,352.32 L110.17,350.95 L110.64,350.17 L111.10,350.00 L111.57,350.50 L112.04,351.73 L112.51,353.65 L112.97,356.22 L113.44,359.39 L113.91,363.10 L114.38,367.25 L114.85,371.78 L115.32,376.59 L115.79,381.59 L116.26,386.70 L116.72,391.83 L117.19,396.91 L117.66,401.87 L118.13,406.66 L118.60,411.23 L119.07,415.53 L119.54,419.55 L120.01,423.27 L120.47,426.67 L120.94,429.77 L121.41,432.56 L121.88,435.06 L122.35,437.29 L122.82,439.27 L123.29,441.01 L123.76,442.55 L124.22,443.90 L124.69,445.08 L125.16,446.12 L125.63,447.03 L126.10,447.84 L126.57,448.56 L127.04,449.20 L127.51,449.77 L127.97,450.29 L128.44,450.76 L128.91,451.20 L129.38,451.60 L129.85,451.97 L130.32,452.32 L130.79,452.65 L131.26,452.96 L131.72,453.25 L132.19,453.53 L132.66,453.79 L133.13,454.05 L133.60,454.30 L134.07,454.53 L134.54,454.76 L135.01,454.98 L135.47,455.19 L135.94,455.39 L136.41,455.59 L136.88,455.78 L137.35,455.97 L137.82,456.15 L138.29,456.33 L138.76,456.50 L139.22,456.67 L139.69,456.84 L140.16,457.00 L140.63,457.16 L141.10,457.32 L141.10,457.45 L140.63,457.31 L140.16,457.17 L139.69,457.04 L139.22,456.90 L138.76,456.76 L138.29,456.62 L137.82,456.48 L137.35,456.35 L136.88,456.21 L136.41,456.07 L135.94,455.93 L135.47,455.80 L135.01,455.66 L134.54,455.52 L134.07,455.38 L133.60,455.24 L133.13,455.11 L132.66,454.97 L132.19,454.83 L131.72,454.69 L131.26,454.56 L130.79,454.42 L130.32,454.28 L129.85,454.14 L129.38,454.00 L128.91,453.87 L128.44,453.73 L127.97,453.59 L127.51,453.45 L127.04,453.31 L126.57,453.18 L126.10,453.04 L125.63,452.90 L125.16,452.76 L124.69,452.63 L124.22,452.49 L123.76,452.35 L123.29,452.21 L122.82,452.07 L122.35,451.94 L121.88,451.80 L121.41,451.66 L120.94,451.52 L120.47,451.39 L120.01,451.25 L119.54,451.11 L119.07,450.97 L118.60,450.83 L118.13,450.70 L117.66,450.56 L117.19,450.42 L116.72,450.28 L116.26,450.15 L115.79,450.01 L115.32,449.87 L114.85,449.73 L114.38,449.59 L113.91,449.46 L113.44,449.32 L112.97,449.18 L112.51,449.04 L112.04,448.90 L111.57,448.77 L111.10,448.63 L110.64,448.49 L110.17,448.36 L109.71,448.22 L109.24,448.08 L108.78,447.95 L108.32,447.81 L107.85,447.67 L107.39,447.54 L106.93,447.40 L106.46,447.27 L106.00,447.13 L105.53,446.99 L105.07,446.86 L104.61,446.72 L104.14,446.58 L103.68,446.45 L103.22,446.31 L102.75,446.17 L102.29,446.04 L101.82,445.90 L101.36,445.77 L100.90,445.63 L100.43,445.49 L99.97,445.36 L99.51,445.22 L99.04,445.08 L98.58,444.95 L98.11,444.81 L97.65,444.68 L97.19,444.54 L96.72,444.40 L96.26,444.27 L95.80,444.13 L95.33,443.99 L94.87,443.86 L94.40,443.72 L93.94,443.58 L93.48,443.45 L93.01,443.31 L92.55,443.18 L92.09,443.04 L91.62,442.90 L91.16,442.77 L90.69,442.63 L90.23,442.49 L89.77,442.36 L89.30,442.22 L88.84,442.08 L88.38,441.95 L87.91,441.81 L87.45,441.68 L86.98,441.54 L86.52,441.40 L86.06,441.27 L85.59,441.13 L85.13,440.99 L84.67,440.86 L84.20,440.72 L83.74,440.58 L83.27,440.45 L82.81,440.31 L82.35,440.18 L81.88,440.04 L81.42,439.90 L80.96,439.77 L80.49,439.63 L80.03,439.49 L79.56,439.36 L79.10,439.22Z" fill="#0064A9"/>
<path d="M113.30,449.20 L113.76,449.32 L114.23,449.45 L114.69,449.57 L115.16,449.68 L115.62,449.80 L116.08,449.91 L116.55,450.02 L117.01,450.13 L117.47,450.23 L117.94,450.33 L118.40,450.43 L118.87,450.52 L119.33,450.60 L119.79,450.68 L120.26,450.76 L120.72,450.82 L121.18,450.88 L121.65,450.93 L122.11,450.97 L122.58,451.01 L123.04,451.03 L123.50,451.03 L123.97,451.03 L124.43,451.00 L124.89,450.96 L125.36,450.90 L125.82,450.82 L126.29,450.71 L126.75,450.57 L127.21,450.39 L127.68,450.16 L128.14,449.89 L128.60,449.56 L129.07,449.17 L129.53,448.69 L130.00,448.13 L130.46,447.46 L130.92,446.67 L131.39,445.75 L131.85,444.69 L132.31,443.45 L132.78,442.03 L133.24,440.41 L133.71,438.57 L134.17,436.50 L134.63,434.18 L135.10,431.61 L135.56,428.78 L136.02,425.68 L136.49,422.33 L136.95,418.72 L137.42,414.89 L137.88,410.84 L138.34,406.63 L138.81,402.27 L139.27,397.82 L139.73,393.34 L140.20,388.88 L140.66,384.50 L141.13,380.28 L141.59,376.27 L142.05,372.55 L142.52,369.19 L142.98,366.25 L143.44,363.78 L143.91,361.84 L144.37,360.46 L144.84,359.67 L145.30,359.50 L145.77,360.00 L146.24,361.23 L146.71,363.16 L147.18,365.75 L147.64,368.94 L148.11,372.67 L148.58,376.84 L149.05,381.40 L149.52,386.23 L149.99,391.26 L150.46,396.39 L150.93,401.56 L151.39,406.66 L151.86,411.66 L152.33,416.47 L152.80,421.06 L153.27,425.39 L153.74,429.43 L154.21,433.16 L154.68,436.59 L155.14,439.70 L155.61,442.51 L156.08,445.02 L156.55,447.27 L157.02,449.25 L157.49,451.00 L157.96,452.55 L158.43,453.90 L158.89,455.09 L159.36,456.14 L159.83,457.06 L160.30,457.87 L160.77,458.59 L161.24,459.23 L161.71,459.81 L162.18,460.33 L162.64,460.80 L163.11,461.24 L163.58,461.64 L164.05,462.01 L164.52,462.36 L164.99,462.69 L165.46,463.00 L165.93,463.30 L166.39,463.58 L166.86,463.84 L167.33,464.10 L167.80,464.34 L168.27,464.58 L168.74,464.81 L169.21,465.03 L169.68,465.24 L170.14,465.44 L170.61,465.64 L171.08,465.83 L171.55,466.02 L172.02,466.20 L172.49,466.38 L172.96,466.56 L173.43,466.72 L173.89,466.89 L174.36,467.05 L174.83,467.21 L175.30,467.37 L175.30,467.50 L174.83,467.37 L174.36,467.23 L173.89,467.09 L173.43,466.95 L172.96,466.81 L172.49,466.68 L172.02,466.54 L171.55,466.40 L171.08,466.26 L170.61,466.13 L170.14,465.99 L169.68,465.85 L169.21,465.71 L168.74,465.57 L168.27,465.44 L167.80,465.30 L167.33,465.16 L166.86,465.02 L166.39,464.89 L165.93,464.75 L165.46,464.61 L164.99,464.47 L164.52,464.33 L164.05,464.20 L163.58,464.06 L163.11,463.92 L162.64,463.78 L162.18,463.65 L161.71,463.51 L161.24,463.37 L160.77,463.23 L160.30,463.09 L159.83,462.96 L159.36,462.82 L158.89,462.68 L158.43,462.54 L157.96,462.40 L157.49,462.27 L157.02,462.13 L156.55,461.99 L156.08,461.85 L155.61,461.72 L155.14,461.58 L154.68,461.44 L154.21,461.30 L153.74,461.16 L153.27,461.03 L152.80,460.89 L152.33,460.75 L151.86,460.61 L151.39,460.48 L150.93,460.34 L150.46,460.20 L149.99,460.06 L149.52,459.92 L149.05,459.79 L148.58,459.65 L148.11,459.51 L147.64,459.37 L147.18,459.24 L146.71,459.10 L146.24,458.96 L145.77,458.82 L145.30,458.68 L144.84,458.55 L144.37,458.41 L143.91,458.27 L143.44,458.14 L142.98,458.00 L142.52,457.87 L142.05,457.73 L141.59,457.59 L141.13,457.46 L140.66,457.32 L140.20,457.18 L139.73,457.05 L139.27,456.91 L138.81,456.78 L138.34,456.64 L137.88,456.50 L137.42,456.37 L136.95,456.23 L136.49,456.09 L136.02,455.96 L135.56,455.82 L135.10,455.68 L134.63,455.55 L134.17,455.41 L133.71,455.28 L133.24,455.14 L132.78,455.00 L132.31,454.87 L131.85,454.73 L131.39,454.59 L130.92,454.46 L130.46,454.32 L130.00,454.18 L129.53,454.05 L129.07,453.91 L128.60,453.78 L128.14,453.64 L127.68,453.50 L127.21,453.37 L126.75,453.23 L126.29,453.09 L125.82,452.96 L125.36,452.82 L124.89,452.68 L124.43,452.55 L123.97,452.41 L123.50,452.28 L123.04,452.14 L122.58,452.00 L122.11,451.87 L121.65,451.73 L121.18,451.59 L120.72,451.46 L120.26,451.32 L119.79,451.18 L119.33,451.05 L118.87,450.91 L118.40,450.78 L117.94,450.64 L117.47,450.50 L117.01,450.37 L116.55,450.23 L116.08,450.09 L115.62,449.96 L115.16,449.82 L114.69,449.69 L114.23,449.55 L113.76,449.41 L113.30,449.28Z" fill="#0064A9"/>
<path d="M230.00,483.55 L230.46,483.68 L230.93,483.81 L231.39,483.94 L231.86,484.07 L232.32,484.19 L232.78,484.32 L233.25,484.44 L233.71,484.56 L234.17,484.68 L234.64,484.80 L235.10,484.92 L235.57,485.03 L236.03,485.15 L236.49,485.26 L236.96,485.36 L237.42,485.47 L237.88,485.56 L238.35,485.66 L238.81,485.75 L239.28,485.84 L239.74,485.92 L240.20,485.99 L240.67,486.06 L241.13,486.12 L241.59,486.18 L242.06,486.22 L242.52,486.25 L242.99,486.27 L243.45,486.27 L243.91,486.26 L244.38,486.22 L244.84,486.17 L245.30,486.08 L245.77,485.96 L246.23,485.81 L246.70,485.61 L247.16,485.37 L247.62,485.06 L248.09,484.70 L248.55,484.26 L249.01,483.74 L249.48,483.14 L249.94,482.44 L250.41,481.64 L250.87,480.72 L251.33,479.69 L251.80,478.54 L252.26,477.26 L252.72,475.86 L253.19,474.34 L253.65,472.69 L254.12,470.94 L254.58,469.09 L255.04,467.15 L255.51,465.15 L255.97,463.11 L256.43,461.04 L256.90,458.99 L257.36,456.98 L257.83,455.04 L258.29,453.21 L258.75,451.51 L259.22,449.98 L259.68,448.65 L260.14,447.55 L260.61,446.70 L261.07,446.11 L261.54,445.81 L262.00,445.80 L262.47,446.11 L262.94,446.77 L263.41,447.76 L263.88,449.06 L264.34,450.65 L264.81,452.50 L265.28,454.56 L265.75,456.80 L266.22,459.17 L266.69,461.63 L267.16,464.15 L267.62,466.68 L268.09,469.18 L268.56,471.63 L269.03,473.99 L269.50,476.25 L269.97,478.38 L270.44,480.37 L270.91,482.22 L271.38,483.92 L271.84,485.48 L272.31,486.89 L272.78,488.16 L273.25,489.29 L273.72,490.31 L274.19,491.22 L274.66,492.02 L275.12,492.74 L275.59,493.38 L276.06,493.95 L276.53,494.46 L277.00,494.92 L277.47,495.33 L277.94,495.71 L278.41,496.06 L278.88,496.38 L279.34,496.67 L279.81,496.95 L280.28,497.22 L280.75,497.47 L281.22,497.71 L281.69,497.93 L282.16,498.15 L282.62,498.37 L283.09,498.57 L283.56,498.77 L284.03,498.97 L284.50,499.15 L284.97,499.34 L285.44,499.52 L285.91,499.70 L286.38,499.87 L286.84,500.04 L287.31,500.21 L287.78,500.37 L288.25,500.53 L288.72,500.69 L289.19,500.85 L289.66,501.00 L290.12,501.15 L290.59,501.31 L291.06,501.46 L291.53,501.60 L292.00,501.75 L292.00,501.81 L291.53,501.68 L291.06,501.54 L290.59,501.40 L290.12,501.26 L289.66,501.12 L289.19,500.99 L288.72,500.85 L288.25,500.71 L287.78,500.57 L287.31,500.44 L286.84,500.30 L286.38,500.16 L285.91,500.02 L285.44,499.88 L284.97,499.75 L284.50,499.61 L284.03,499.47 L283.56,499.33 L283.09,499.20 L282.62,499.06 L282.16,498.92 L281.69,498.78 L281.22,498.64 L280.75,498.51 L280.28,498.37 L279.81,498.23 L279.34,498.09 L278.88,497.96 L278.41,497.82 L277.94,497.68 L277.47,497.54 L277.00,497.40 L276.53,497.27 L276.06,497.13 L275.59,496.99 L275.12,496.85 L274.66,496.71 L274.19,496.58 L273.72,496.44 L273.25,496.30 L272.78,496.16 L272.31,496.03 L271.84,495.89 L271.38,495.75 L270.91,495.61 L270.44,495.47 L269.97,495.34 L269.50,495.20 L269.03,495.06 L268.56,494.92 L268.09,494.79 L267.62,494.65 L267.16,494.51 L266.69,494.37 L266.22,494.23 L265.75,494.10 L265.28,493.96 L264.81,493.82 L264.34,493.68 L263.88,493.55 L263.41,493.41 L262.94,493.27 L262.47,493.13 L262.00,492.99 L261.54,492.86 L261.07,492.72 L260.61,492.58 L260.14,492.45 L259.68,492.31 L259.22,492.18 L258.75,492.04 L258.29,491.90 L257.83,491.77 L257.36,491.63 L256.90,491.49 L256.43,491.36 L255.97,491.22 L255.51,491.08 L255.04,490.95 L254.58,490.81 L254.12,490.68 L253.65,490.54 L253.19,490.40 L252.72,490.27 L252.26,490.13 L251.80,489.99 L251.33,489.86 L250.87,489.72 L250.41,489.59 L249.94,489.45 L249.48,489.31 L249.01,489.18 L248.55,489.04 L248.09,488.90 L247.62,488.77 L247.16,488.63 L246.70,488.49 L246.23,488.36 L245.77,488.22 L245.30,488.09 L244.84,487.95 L244.38,487.81 L243.91,487.68 L243.45,487.54 L242.99,487.40 L242.52,487.27 L242.06,487.13 L241.59,486.99 L241.13,486.86 L240.67,486.72 L240.20,486.59 L239.74,486.45 L239.28,486.31 L238.81,486.18 L238.35,486.04 L237.88,485.90 L237.42,485.77 L236.96,485.63 L236.49,485.49 L236.03,485.36 L235.57,485.22 L235.10,485.09 L234.64,484.95 L234.17,484.81 L233.71,484.68 L233.25,484.54 L232.78,484.40 L232.32,484.27 L231.86,484.13 L231.39,483.99 L230.93,483.86 L230.46,483.72 L230.00,483.59Z" fill="#0064A9"/>
<path d="M282.00,498.84 L282.46,498.97 L282.93,499.10 L283.39,499.23 L283.86,499.35 L284.32,499.48 L284.78,499.61 L285.25,499.73 L285.71,499.85 L286.17,499.97 L286.64,500.09 L287.10,500.21 L287.57,500.32 L288.03,500.44 L288.49,500.54 L288.96,500.65 L289.42,500.75 L289.88,500.85 L290.35,500.95 L290.81,501.04 L291.28,501.13 L291.74,501.21 L292.20,501.28 L292.67,501.35 L293.13,501.41 L293.59,501.46 L294.06,501.51 L294.52,501.54 L294.99,501.56 L295.45,501.56 L295.91,501.55 L296.38,501.51 L296.84,501.45 L297.30,501.37 L297.77,501.25 L298.23,501.10 L298.70,500.90 L299.16,500.65 L299.62,500.35 L300.09,499.99 L300.55,499.55 L301.01,499.03 L301.48,498.43 L301.94,497.73 L302.41,496.93 L302.87,496.01 L303.33,494.98 L303.80,493.83 L304.26,492.55 L304.72,491.15 L305.19,489.63 L305.65,487.99 L306.12,486.23 L306.58,484.38 L307.04,482.45 L307.51,480.44 L307.97,478.40 L308.43,476.34 L308.90,474.29 L309.36,472.28 L309.83,470.34 L310.29,468.51 L310.75,466.81 L311.22,465.28 L311.68,463.95 L312.14,462.85 L312.61,462.00 L313.07,461.41 L313.54,461.11 L314.00,461.10 L314.47,461.41 L314.94,462.07 L315.41,463.06 L315.88,464.36 L316.34,465.95 L316.81,467.80 L317.28,469.86 L317.75,472.09 L318.22,474.47 L318.69,476.93 L319.16,479.45 L319.62,481.97 L320.09,484.48 L320.56,486.92 L321.03,489.28 L321.50,491.54 L321.97,493.67 L322.44,495.66 L322.91,497.51 L323.38,499.22 L323.84,500.77 L324.31,502.18 L324.78,503.45 L325.25,504.58 L325.72,505.60 L326.19,506.51 L326.66,507.31 L327.12,508.03 L327.59,508.67 L328.06,509.24 L328.53,509.75 L329.00,510.21 L329.47,510.62 L329.94,511.00 L330.41,511.35 L330.88,511.67 L331.34,511.96 L331.81,512.24 L332.28,512.51 L332.75,512.76 L333.22,512.99 L333.69,513.22 L334.16,513.44 L334.62,513.65 L335.09,513.86 L335.56,514.06 L336.03,514.25 L336.50,514.44 L336.97,514.63 L337.44,514.81 L337.91,514.98 L338.38,515.16 L338.84,515.33 L339.31,515.49 L339.78,515.66 L340.25,515.82 L340.72,515.98 L341.19,516.13 L341.66,516.29 L342.12,516.44 L342.59,516.59 L343.06,516.74 L343.53,516.89 L344.00,517.04 L344.00,517.10 L343.53,516.96 L343.06,516.83 L342.59,516.69 L342.12,516.55 L341.66,516.41 L341.19,516.27 L340.72,516.14 L340.25,516.00 L339.78,515.86 L339.31,515.72 L338.84,515.59 L338.38,515.45 L337.91,515.31 L337.44,515.17 L336.97,515.03 L336.50,514.90 L336.03,514.76 L335.56,514.62 L335.09,514.48 L334.62,514.35 L334.16,514.21 L333.69,514.07 L333.22,513.93 L332.75,513.79 L332.28,513.66 L331.81,513.52 L331.34,513.38 L330.88,513.24 L330.41,513.11 L329.94,512.97 L329.47,512.83 L329.00,512.69 L328.53,512.55 L328.06,512.42 L327.59,512.28 L327.12,512.14 L326.66,512.00 L326.19,511.86 L325.72,511.73 L325.25,511.59 L324.78,511.45 L324.31,511.31 L323.84,511.18 L323.38,511.04 L322.91,510.90 L322.44,510.76 L321.97,510.62 L321.50,510.49 L321.03,510.35 L320.56,510.21 L320.09,510.07 L319.62,509.94 L319.16,509.80 L318.69,509.66 L318.22,509.52 L317.75,509.38 L317.28,509.25 L316.81,509.11 L316.34,508.97 L315.88,508.83 L315.41,508.70 L314.94,508.56 L314.47,508.42 L314.00,508.28 L313.54,508.15 L313.07,508.01 L312.61,507.87 L312.14,507.74 L311.68,507.60 L311.22,507.46 L310.75,507.33 L310.29,507.19 L309.83,507.05 L309.36,506.92 L308.90,506.78 L308.43,506.65 L307.97,506.51 L307.51,506.37 L307.04,506.24 L306.58,506.10 L306.12,505.96 L305.65,505.83 L305.19,505.69 L304.72,505.55 L304.26,505.42 L303.80,505.28 L303.33,505.15 L302.87,505.01 L302.41,504.87 L301.94,504.74 L301.48,504.60 L301.01,504.46 L300.55,504.33 L300.09,504.19 L299.62,504.06 L299.16,503.92 L298.70,503.78 L298.23,503.65 L297.77,503.51 L297.30,503.37 L296.84,503.24 L296.38,503.10 L295.91,502.96 L295.45,502.83 L294.99,502.69 L294.52,502.56 L294.06,502.42 L293.59,502.28 L293.13,502.15 L292.67,502.01 L292.20,501.87 L291.74,501.74 L291.28,501.60 L290.81,501.46 L290.35,501.33 L289.88,501.19 L289.42,501.06 L288.96,500.92 L288.49,500.78 L288.03,500.65 L287.57,500.51 L287.10,500.37 L286.64,500.24 L286.17,500.10 L285.71,499.96 L285.25,499.83 L284.78,499.69 L284.32,499.56 L283.86,499.42 L283.39,499.28 L282.93,499.15 L282.46,499.01 L282.00,498.87Z" fill="#0064A9"/>
<path d="M315.90,508.80 L316.36,508.93 L316.83,509.06 L317.29,509.19 L317.76,509.32 L318.22,509.45 L318.68,509.57 L319.15,509.70 L319.61,509.82 L320.07,509.94 L320.54,510.06 L321.00,510.17 L321.47,510.29 L321.93,510.40 L322.39,510.51 L322.86,510.62 L323.32,510.72 L323.78,510.82 L324.25,510.91 L324.71,511.01 L325.18,511.09 L325.64,511.17 L326.10,511.25 L326.57,511.32 L327.03,511.38 L327.49,511.43 L327.96,511.47 L328.42,511.50 L328.89,511.52 L329.35,511.53 L329.81,511.51 L330.28,511.48 L330.74,511.42 L331.20,511.33 L331.67,511.22 L332.13,511.06 L332.60,510.86 L333.06,510.62 L333.52,510.31 L333.99,509.95 L334.45,509.51 L334.91,508.99 L335.38,508.39 L335.84,507.69 L336.31,506.88 L336.77,505.97 L337.23,504.93 L337.70,503.78 L338.16,502.50 L338.62,501.10 L339.09,499.57 L339.55,497.93 L340.02,496.17 L340.48,494.32 L340.94,492.38 L341.41,490.37 L341.87,488.33 L342.33,486.26 L342.80,484.21 L343.26,482.20 L343.73,480.25 L344.19,478.42 L344.65,476.72 L345.12,475.19 L345.58,473.86 L346.04,472.75 L346.51,471.90 L346.97,471.31 L347.44,471.01 L347.90,471.00 L348.37,471.31 L348.84,471.97 L349.31,472.96 L349.77,474.27 L350.24,475.86 L350.71,477.70 L351.18,479.77 L351.65,482.01 L352.12,484.38 L352.59,486.85 L353.06,489.37 L353.52,491.90 L353.99,494.41 L354.46,496.86 L354.93,499.22 L355.40,501.48 L355.87,503.61 L356.34,505.61 L356.81,507.46 L357.27,509.17 L357.74,510.72 L358.21,512.13 L358.68,513.40 L359.15,514.54 L359.62,515.56 L360.09,516.47 L360.56,517.27 L361.02,517.99 L361.49,518.63 L361.96,519.20 L362.43,519.71 L362.90,520.17 L363.37,520.58 L363.84,520.96 L364.31,521.31 L364.77,521.63 L365.24,521.93 L365.71,522.21 L366.18,522.47 L366.65,522.72 L367.12,522.96 L367.59,523.19 L368.06,523.41 L368.52,523.62 L368.99,523.83 L369.46,524.03 L369.93,524.22 L370.40,524.41 L370.87,524.59 L371.34,524.77 L371.81,524.95 L372.27,525.12 L372.74,525.29 L373.21,525.46 L373.68,525.62 L374.15,525.78 L374.62,525.94 L375.09,526.10 L375.56,526.26 L376.02,526.41 L376.49,526.56 L376.96,526.71 L377.43,526.86 L377.90,527.01 L377.90,527.07 L377.43,526.93 L376.96,526.79 L376.49,526.65 L376.02,526.52 L375.56,526.38 L375.09,526.24 L374.62,526.10 L374.15,525.97 L373.68,525.83 L373.21,525.69 L372.74,525.55 L372.27,525.41 L371.81,525.28 L371.34,525.14 L370.87,525.00 L370.40,524.86 L369.93,524.73 L369.46,524.59 L368.99,524.45 L368.52,524.31 L368.06,524.17 L367.59,524.04 L367.12,523.90 L366.65,523.76 L366.18,523.62 L365.71,523.49 L365.24,523.35 L364.77,523.21 L364.31,523.07 L363.84,522.93 L363.37,522.80 L362.90,522.66 L362.43,522.52 L361.96,522.38 L361.49,522.24 L361.02,522.11 L360.56,521.97 L360.09,521.83 L359.62,521.69 L359.15,521.56 L358.68,521.42 L358.21,521.28 L357.74,521.14 L357.27,521.00 L356.81,520.87 L356.34,520.73 L355.87,520.59 L355.40,520.45 L354.93,520.32 L354.46,520.18 L353.99,520.04 L353.52,519.90 L353.06,519.76 L352.59,519.63 L352.12,519.49 L351.65,519.35 L351.18,519.21 L350.71,519.08 L350.24,518.94 L349.77,518.80 L349.31,518.66 L348.84,518.52 L348.37,518.39 L347.90,518.25 L347.44,518.11 L346.97,517.98 L346.51,517.84 L346.04,517.70 L345.58,517.57 L345.12,517.43 L344.65,517.29 L344.19,517.16 L343.73,517.02 L343.26,516.88 L342.80,516.75 L342.33,516.61 L341.87,516.48 L341.41,516.34 L340.94,516.20 L340.48,516.07 L340.02,515.93 L339.55,515.79 L339.09,515.66 L338.62,515.52 L338.16,515.39 L337.70,515.25 L337.23,515.11 L336.77,514.98 L336.31,514.84 L335.84,514.70 L335.38,514.57 L334.91,514.43 L334.45,514.29 L333.99,514.16 L333.52,514.02 L333.06,513.89 L332.60,513.75 L332.13,513.61 L331.67,513.48 L331.20,513.34 L330.74,513.20 L330.28,513.07 L329.81,512.93 L329.35,512.79 L328.89,512.66 L328.42,512.52 L327.96,512.39 L327.49,512.25 L327.03,512.11 L326.57,511.98 L326.10,511.84 L325.64,511.70 L325.18,511.57 L324.71,511.43 L324.25,511.29 L323.78,511.16 L323.32,511.02 L322.86,510.89 L322.39,510.75 L321.93,510.61 L321.47,510.48 L321.00,510.34 L320.54,510.20 L320.07,510.07 L319.61,509.93 L319.15,509.79 L318.68,509.66 L318.22,509.52 L317.76,509.39 L317.29,509.25 L316.83,509.11 L316.36,508.98 L315.90,508.84Z" fill="#0064A9"/>
<circle cx="80.6" cy="387.5" r="1.75" fill="#0064A9"/>
<circle cx="87.8" cy="389.7" r="1.75" fill="#0064A9"/>
<circle cx="95" cy="391.9" r="1.75" fill="#0064A9"/>
<circle cx="279.1" cy="467.3" r="1.75" fill="#0064A9"/>
<circle cx="286.3" cy="469.5" r="1.75" fill="#0064A9"/>
<circle cx="293.5" cy="471.7" r="1.75" fill="#0064A9"/>
<g transform="translate(214.9,453.5)"><g transform="rotate(-4)"><ellipse cx="0" cy="0" rx="9.1" ry="13.7" fill="#fff" stroke="#000" stroke-width="1.7"/><path d="M0,-13.7 v2.3 M0,13.7 v-2.3 M-9.1,0 h1.8 M9.1,0 h-1.8" stroke="#000" stroke-width="1"/></g><path d="M0.2,-6.4 L0.2,0.8 L4.6,2.1" fill="none" stroke="#000" stroke-width="1.4"/><circle cx="0.2" cy="-6.4" r="1.25" fill="#000"/></g>
<g transform="translate(270.9,405.7)"><g transform="rotate(-4)"><ellipse cx="0" cy="0" rx="9.1" ry="13.7" fill="#fff" stroke="#000" stroke-width="1.7"/><path d="M0,-13.7 v2.3 M0,13.7 v-2.3 M-9.1,0 h1.8 M9.1,0 h-1.8" stroke="#000" stroke-width="1"/></g><path d="M0.2,-6.4 L0.2,0.8 L4.6,2.1" fill="none" stroke="#000" stroke-width="1.4"/><circle cx="0.2" cy="-6.4" r="1.25" fill="#000"/></g>
<g transform="translate(333.4,359.4)"><g transform="rotate(-4)"><ellipse cx="0" cy="0" rx="9.1" ry="13.7" fill="#fff" stroke="#000" stroke-width="1.7"/><path d="M0,-13.7 v2.3 M0,13.7 v-2.3 M-9.1,0 h1.8 M9.1,0 h-1.8" stroke="#000" stroke-width="1"/></g><path d="M0.2,-6.4 L0.2,0.8 L4.6,2.1" fill="none" stroke="#000" stroke-width="1.4"/><circle cx="0.2" cy="-6.4" r="1.25" fill="#000"/></g>
<g transform="translate(395.6,316.2)"><g transform="rotate(-4)"><ellipse cx="0" cy="0" rx="9.1" ry="13.7" fill="#fff" stroke="#000" stroke-width="1.7"/><path d="M0,-13.7 v2.3 M0,13.7 v-2.3 M-9.1,0 h1.8 M9.1,0 h-1.8" stroke="#000" stroke-width="1"/></g><path d="M0.2,-6.4 L0.2,0.8 L4.6,2.1" fill="none" stroke="#000" stroke-width="1.4"/><circle cx="0.2" cy="-6.4" r="1.25" fill="#000"/></g>
<g transform="translate(455.8,272.8)"><g transform="rotate(-4)"><ellipse cx="0" cy="0" rx="9.1" ry="13.7" fill="#fff" stroke="#000" stroke-width="1.7"/><path d="M0,-13.7 v2.3 M0,13.7 v-2.3 M-9.1,0 h1.8 M9.1,0 h-1.8" stroke="#000" stroke-width="1"/></g><path d="M0.2,-6.4 L0.2,0.8 L4.6,2.1" fill="none" stroke="#000" stroke-width="1.4"/><circle cx="0.2" cy="-6.4" r="1.25" fill="#000"/></g>
<g transform="translate(512.1,227)"><g transform="rotate(-4)"><ellipse cx="0" cy="0" rx="9.1" ry="13.7" fill="#fff" stroke="#000" stroke-width="1.7"/><path d="M0,-13.7 v2.3 M0,13.7 v-2.3 M-9.1,0 h1.8 M9.1,0 h-1.8" stroke="#000" stroke-width="1"/></g><path d="M0.2,-6.4 L0.2,0.8 L4.6,2.1" fill="none" stroke="#000" stroke-width="1.4"/><circle cx="0.2" cy="-6.4" r="1.25" fill="#000"/></g>
<line x1="2.2" y1="434" x2="152.3" y2="479.04" stroke="#000" stroke-width="2.3" stroke-linecap="butt"/>
<line x1="156.3" y1="480.24" x2="168.7" y2="483.96" stroke="#000" stroke-width="2.3" stroke-linecap="butt"/>
<line x1="171" y1="484.65" x2="182.7" y2="488.16" stroke="#000" stroke-width="2.3" stroke-linecap="butt"/>
<line x1="185.3" y1="488.95" x2="197" y2="492.46" stroke="#000" stroke-width="2.3" stroke-linecap="butt"/>
<line x1="203" y1="494.26" x2="367.1" y2="543.5" stroke="#000" stroke-width="2.3" stroke-linecap="butt"/>
<line x1="367.1" y1="543.5" x2="520.4" y2="431.23" stroke="#000" stroke-width="2.3" stroke-linecap="butt"/>
<line x1="524.2" y1="428.44" x2="532.9" y2="422.07" stroke="#000" stroke-width="2.3" stroke-linecap="butt"/>
<line x1="536.8" y1="419.21" x2="544.5" y2="413.58" stroke="#000" stroke-width="2.3" stroke-linecap="butt"/>
<line x1="547.8" y1="411.16" x2="556" y2="405.15" stroke="#000" stroke-width="2.3" stroke-linecap="butt"/>
<line x1="560.8" y1="401.64" x2="703.4" y2="297.2" stroke="#000" stroke-width="2.3" stroke-linecap="butt"/>
<line x1="36.1" y1="444.17" x2="39.3" y2="441.77" stroke="#000" stroke-width="1.6" stroke-linecap="butt"/>
<line x1="85.4" y1="458.97" x2="88.6" y2="456.57" stroke="#000" stroke-width="1.6" stroke-linecap="butt"/>
<line x1="128" y1="471.75" x2="131.2" y2="469.35" stroke="#000" stroke-width="1.6" stroke-linecap="butt"/>
<line x1="238.2" y1="504.82" x2="241.4" y2="502.42" stroke="#000" stroke-width="1.6" stroke-linecap="butt"/>
<line x1="290.2" y1="520.42" x2="293.4" y2="518.02" stroke="#000" stroke-width="1.6" stroke-linecap="butt"/>
<line x1="329.2" y1="532.13" x2="332.4" y2="529.73" stroke="#000" stroke-width="1.6" stroke-linecap="butt"/>
<line x1="383" y1="531.86" x2="379" y2="530.66" stroke="#000" stroke-width="1.6" stroke-linecap="butt"/>
<line x1="448.9" y1="483.59" x2="444.9" y2="482.39" stroke="#000" stroke-width="1.6" stroke-linecap="butt"/>
<line x1="516.3" y1="434.23" x2="512.3" y2="433.03" stroke="#000" stroke-width="1.6" stroke-linecap="butt"/>
<line x1="568.3" y1="396.14" x2="564.3" y2="394.94" stroke="#000" stroke-width="1.6" stroke-linecap="butt"/>
<line x1="631.3" y1="350" x2="627.3" y2="348.8" stroke="#000" stroke-width="1.6" stroke-linecap="butt"/>
<line x1="690.2" y1="306.87" x2="686.2" y2="305.67" stroke="#000" stroke-width="1.6" stroke-linecap="butt"/>
<text transform="matrix(0.9493,0.2844,-0.9367,0.6900,42.53,501.42)" font-size="22">Temporal Modes</text>
<g transform="matrix(0.9493,0.2844,-0.9367,0.6900,4.19,458.29)"><text font-size="22" x="0" y="0">Tn</text><circle cx="30.36" cy="-2.64" r="1.41" fill="#000"/><circle cx="37.84" cy="-2.64" r="1.41" fill="#000"/><circle cx="45.32" cy="-2.64" r="1.41" fill="#000"/></g>
<g transform="matrix(0.9493,0.2844,-0.9367,0.6900,209.19,518.89)"><text font-size="22" x="0" y="0">Tn</text><circle cx="30.36" cy="-2.64" r="1.41" fill="#000"/><circle cx="37.84" cy="-2.64" r="1.41" fill="#000"/><circle cx="45.32" cy="-2.64" r="1.41" fill="#000"/></g>
<text transform="matrix(0.9493,0.2844,-0.9367,0.6900,53.64,474.93)" font-size="22" x="0" y="0">2</text>
<text transform="matrix(0.9493,0.2844,-0.9367,0.6900,95.43,489.41)" font-size="22" x="0" y="0">1</text>
<text transform="matrix(0.9493,0.2844,-0.9367,0.6900,255.54,535.98)" font-size="22" x="0" y="0">2</text>
<text transform="matrix(0.9493,0.2844,-0.9367,0.6900,297.23,546.61)" font-size="22" x="0" y="0">1</text>
<text transform="matrix(0.9493,0.2844,-0.9367,0.6900,401.43,539.11)" font-size="22" x="0" y="0">1</text>
<text transform="matrix(0.9493,0.2844,-0.9367,0.6900,461.19,497.73)" font-size="22" x="0" y="0">2</text>
<text transform="matrix(0.9493,0.2844,-0.9367,0.6900,523.14,449.35)" font-size="22" x="0" y="0">3</text>
<text transform="matrix(0.9493,0.2844,-0.9367,0.6900,569.76,405.15)" font-size="22" x="0" y="0">Sn-2</text>
<text transform="matrix(0.9493,0.2844,-0.9367,0.6900,633.51,356.54)" font-size="22" x="0" y="0">Sn-1</text>
<text transform="matrix(0.9493,0.2844,-0.9367,0.6900,693.96,314.18)" font-size="22" x="0" y="0">Sn</text>
<ellipse cx="553.5" cy="429.8" rx="1.9" ry="1.3" transform="rotate(-30 553.5 429.8)" fill="#000"/>
<ellipse cx="559.8" cy="425.2" rx="1.9" ry="1.3" transform="rotate(-30 559.8 425.2)" fill="#000"/>
<ellipse cx="566.1" cy="420.6" rx="1.9" ry="1.3" transform="rotate(-30 566.1 420.6)" fill="#000"/>
<text transform="matrix(0.7511,-0.6080,1.2292,0.6799,558.71,499.36)" font-size="21" x="0" y="0">Spectral Modes</text>
<text transform="matrix(0.8535,0.2519,0.0000,0.9700,361.73,86.93)" font-size="18" x="0" y="0">Input photons</text>
<text transform="matrix(0.8535,0.2519,0.0000,0.9700,490.41,195.94)" font-size="18" x="0" y="0">Storage</text>
<text transform="matrix(0.8535,0.2519,0.0000,0.9700,561.53,197.87)" font-size="18" x="0" y="0">Recalled photons</text>
<path transform="translate(362.50,100.00) rotate(15.04)" d="M0,2.3 C0,0 4,-0.5 10,0 L41.0,0.7 C45.0,0.9 46.0,-0.7 47.0,-0.9 C48.0,-0.5 49.0,1.1 53.0,0.9 L84.0,0 C90.0,0 94.0,0 94.0,2.3" fill="none" stroke="#A6A6A6" stroke-width="2.4" stroke-linecap="round"/>
<path transform="translate(567.50,210.40) rotate(15.32)" d="M0,2.3 C0,0 4,-0.5 10,0 L40.6,0.7 C44.6,0.9 45.6,-0.7 46.6,-0.9 C47.6,-0.5 48.6,1.1 52.6,0.9 L83.1,0 C89.1,0 93.1,0 93.1,2.3" fill="none" stroke="#A6A6A6" stroke-width="2.4" stroke-linecap="round"/>
<text transform="translate(291.46,24.5) scale(1,1.0)" font-size="38" text-anchor="start" font-weight="bold" fill="#000" style="stroke:none">a</text>
</g>
<g id="panelB">
<path d="M837.10,94.77 L840.10,93.37 L843.10,91.97 L846.10,90.59 L849.10,89.21 L852.09,87.86 L855.09,86.53 L858.09,85.22 L861.09,83.95 L864.09,82.71 L867.09,81.50 L870.09,80.33 L873.09,79.20 L876.09,78.11 L879.09,77.06 L882.08,76.05 L885.08,75.08 L888.08,74.16 L891.08,73.28 L894.08,72.44 L897.08,71.64 L900.08,70.88 L903.08,70.16 L906.08,69.48 L909.08,68.84 L912.07,68.24 L915.07,67.68 L918.07,67.15 L921.07,66.65 L924.07,66.19 L927.07,65.77 L930.07,65.37 L933.07,65.01 L936.07,64.68 L939.07,64.37 L942.06,64.10 L945.06,63.85 L948.06,63.63 L951.06,63.44 L954.06,63.28 L957.06,63.14 L960.06,63.03 L963.06,62.94 L966.06,62.88 L969.06,62.85 L972.05,62.85 L975.05,62.87 L978.05,62.92 L981.05,63.00 L984.05,63.11 L987.05,63.25 L990.05,63.42 L993.05,63.63 L996.05,63.87 L999.05,64.14 L1002.04,64.46 L1005.04,64.81 L1008.04,65.20 L1011.04,65.63 L1014.04,66.10 L1017.04,66.62 L1020.04,67.19 L1023.04,67.81 L1026.04,68.48 L1029.04,69.20 L1032.03,69.97 L1035.03,70.80 L1038.03,71.69 L1041.03,72.64 L1044.03,73.65 L1047.03,74.72 L1050.03,75.85 L1053.03,77.05 L1056.03,78.32 L1059.03,79.65 L1062.02,81.05 L1065.02,82.51 L1068.02,84.05 L1071.02,85.65 L1074.02,87.31 L1077.02,89.04 L1080.02,90.84 L1083.02,92.70 L1086.02,94.61 L1089.02,96.59 L1092.01,98.62 L1095.01,100.70 L1098.01,102.83 L1101.01,104.99 L1104.01,107.20 L1107.01,109.43 L1110.01,111.69 L1113.01,113.96 L1116.01,116.24 L1119.01,118.51 L1122.00,120.77 L1125.00,123.01 L1128.00,125.21 L1131.00,127.37 L1134.00,129.46 L1134.0,249.3 L837.1,249.3 Z" fill="#B3D6E9"/>
<rect x="1031.35" y="69.5" width="2.3" height="179.8" fill="#DDB0B4"/>
<rect x="1035.55" y="70.9" width="2.3" height="178.4" fill="#DC9297"/>
<rect x="1039.75" y="71.4" width="2.3" height="177.9" fill="#EA7C80"/>
<rect x="1043.95" y="73.2" width="2.3" height="176.1" fill="#F56563"/>
<rect x="1048.35" y="75.1" width="2.3" height="174.2" fill="#E84A40"/>
<circle cx="983.1" cy="171.7" r="2.8" fill="#414C55"/>
<circle cx="994.5" cy="171.7" r="2.8" fill="#414C55"/>
<circle cx="1005.9" cy="171.7" r="2.8" fill="#414C55"/>
<circle cx="1074.3" cy="171.7" r="2.8" fill="#414C55"/>
<circle cx="1085.7" cy="171.7" r="2.8" fill="#414C55"/>
<circle cx="1097.1" cy="171.7" r="2.8" fill="#414C55"/>
<rect x="837.1" y="20.0" width="296.9" height="229.3" fill="none" stroke="#000" stroke-width="1.6"/>
<path d="M837.10,249.3 v-6 M866.79,249.3 v-4 M896.48,249.3 v-4 M926.17,249.3 v-4 M955.86,249.3 v-4 M985.55,249.3 v-6 M1015.24,249.3 v-4 M1044.93,249.3 v-4 M1074.62,249.3 v-4 M1104.31,249.3 v-4 M1134.00,249.3 v-6 M837.1,249.30 h4.5 M837.1,220.64 h2.5 M837.1,191.98 h4.5 M837.1,163.31 h2.5 M837.1,134.65 h4.5 M837.1,105.99 h2.5 M837.1,77.32 h4.5 M837.1,48.66 h2.5 M837.1,20.00 h4.5" stroke="#000" stroke-width="1.3" fill="none"/>
<text transform="translate(822.4,27.2) scale(1,1.04)" font-size="27" text-anchor="end" font-weight="normal" fill="#000">4</text>
<text transform="translate(822.4,88.3) scale(1,1.04)" font-size="27" text-anchor="end" font-weight="normal" fill="#000">3</text>
<text transform="translate(822.4,146.1) scale(1,1.04)" font-size="27" text-anchor="end" font-weight="normal" fill="#000">2</text>
<text transform="translate(822.4,202.5) scale(1,1.04)" font-size="27" text-anchor="end" font-weight="normal" fill="#000">1</text>
<text transform="translate(822.4,251.5) scale(1,1.04)" font-size="27" text-anchor="end" font-weight="normal" fill="#000">0</text>
<text transform="translate(805.64,279.1) scale(1,1.04)" font-size="26.5" text-anchor="start" font-weight="normal" fill="#000">1525</text>
<text transform="translate(952.54,279.1) scale(1,1.04)" font-size="26.5" text-anchor="start" font-weight="normal" fill="#000">1530</text>
<text transform="translate(1100.14,279.1) scale(1,1.04)" font-size="26.5" text-anchor="start" font-weight="normal" fill="#000">1535</text>
<text transform="translate(872.9,305) scale(1,1.04)" font-size="30.4" text-anchor="start" font-weight="normal" fill="#000">Wavelength (nm)</text>
<text transform="translate(783,230.5) rotate(-90) scale(1,1.04)" font-size="30.8">Optical Depth</text>
<text transform="translate(764.44,27.3) scale(1,1.0)" font-size="39.5" text-anchor="start" font-weight="bold" fill="#000" style="stroke:none">b</text>
</g>
<line x1="1039.3" y1="250.5" x2="830.4" y2="327.7" stroke="#333" stroke-width="1.0" stroke-linecap="butt"/>
<line x1="1056.2" y1="250.9" x2="1492" y2="327.7" stroke="#333" stroke-width="1.0" stroke-linecap="butt"/>
<g id="panelC">
<rect x="1188.8" y="20.3" width="307.3" height="227" fill="none" stroke="#000" stroke-width="1.4"/>
<text transform="translate(1160.64,21.3) scale(1,1.0)" font-size="39" text-anchor="start" font-weight="bold" fill="#000" style="stroke:none">c</text>
<line x1="1288.8" y1="48.8" x2="1366.8" y2="48.8" stroke="#000" stroke-width="2.3" stroke-linecap="butt"/>
<rect x="1206.20" y="190.9" width="5.8" height="30.3" fill="#E8453F"/>
<rect x="1219.04" y="190.9" width="5.8" height="30.3" fill="#EB5A5A"/>
<rect x="1231.88" y="190.9" width="5.8" height="30.3" fill="#EE6B6E"/>
<rect x="1244.72" y="190.9" width="5.8" height="30.3" fill="#E07C7E"/>
<rect x="1257.56" y="190.9" width="5.8" height="30.3" fill="#E0868A"/>
<rect x="1270.40" y="190.9" width="5.8" height="30.3" fill="#E49396"/>
<rect x="1283.24" y="190.9" width="5.8" height="30.3" fill="#E6A0A2"/>
<rect x="1296.08" y="190.9" width="5.8" height="30.3" fill="#E9A5A5"/>
<rect x="1341.00" y="143.1" width="6.1" height="30.7" fill="#E8514A"/>
<rect x="1354.00" y="143.1" width="6.1" height="30.7" fill="#EE6262"/>
<rect x="1367.00" y="143.1" width="6.1" height="30.7" fill="#E57272"/>
<rect x="1380.00" y="143.1" width="6.1" height="30.7" fill="#DA7C7E"/>
<rect x="1393.00" y="143.1" width="6.1" height="30.7" fill="#E08A8C"/>
<rect x="1406.00" y="143.1" width="6.1" height="30.7" fill="#E59C9C"/>
<rect x="1419.00" y="143.1" width="6.1" height="30.7" fill="#E8A4A4"/>
<line x1="1205.2" y1="221.3" x2="1302.1" y2="221.3" stroke="#000" stroke-width="2.4" stroke-linecap="butt"/>
<line x1="1334.7" y1="173.8" x2="1430.8" y2="173.8" stroke="#000" stroke-width="2.3" stroke-linecap="butt"/>
<line x1="1260.6" y1="182" x2="1321.1" y2="62.14" stroke="#000" stroke-width="2.2" stroke-linecap="butt"/>
<path d="M1324.70,55.00 Q1323.37,62.73 1323.83,71.36 L1319.97,64.37 L1312.05,65.42 Q1319.27,60.66 1324.70,55.00Z" fill="#000"/>
<text transform="matrix(0.4540,-0.8910,0.8910,0.4540,1261.43,167.23)" font-size="18.3" x="0" y="0">1531.88 nm</text>
<line x1="1374" y1="36" x2="1374" y2="61.5" stroke="#000" stroke-width="1.5" stroke-linecap="butt"/>
<text transform="translate(1377.77,56.20) scale(0.88,1)" font-size="23.5">e</text>
<path d="M1390.20,36.00 L1399.60,48.75 L1390.20,61.50" fill="none" stroke="#000" stroke-width="1.5"/>
<line x1="1310.6" y1="205" x2="1310.6" y2="230.6" stroke="#000" stroke-width="1.5" stroke-linecap="butt"/>
<text transform="translate(1314.17,224.50) scale(0.88,1)" font-size="23.5">g</text>
<path d="M1326.60,205.00 L1336.00,217.80 L1326.60,230.60" fill="none" stroke="#000" stroke-width="1.5"/>
<line x1="1440.1" y1="157.6" x2="1440.1" y2="183.6" stroke="#000" stroke-width="1.5" stroke-linecap="butt"/>
<text transform="translate(1442.17,176.80) scale(0.88,1)" font-size="23.5">aux</text>
<path d="M1474.00,157.60 L1483.40,170.60 L1474.00,183.60" fill="none" stroke="#000" stroke-width="1.5"/>
</g>
<g id="panelD">
<polyline points="830.70,516.62 830.87,509.88 831.03,503.13 831.20,496.39 831.36,489.64 831.53,482.89 831.69,476.15 831.86,480.10 832.02,487.17 832.19,498.82 832.35,512.06 832.52,519.19 832.68,514.76 832.85,501.83 833.01,488.26 833.18,478.67 833.34,472.47 833.51,467.07 833.67,460.50 833.84,451.70 834.01,440.29 834.17,426.14 834.34,410.35 834.50,394.23 834.67,379.42 834.83,367.48 835.00,359.41 835.16,355.33 835.33,354.41 835.49,355.18 835.66,356.11 835.82,356.21 835.99,355.45 836.15,354.70 836.32,355.42 836.48,359.00 836.65,366.23 836.81,377.01 836.98,390.38 837.14,404.86 837.31,418.91 837.48,431.65 837.64,442.15 837.81,450.22 837.97,456.08 838.14,460.13 838.30,462.88 838.47,464.92 838.63,467.23 838.80,471.53 838.96,479.66 839.13,490.85 839.29,499.74 839.46,499.92 839.62,490.85 839.79,478.31 839.95,467.86 840.12,460.52 840.28,454.38 840.45,447.43 840.62,438.61 840.78,427.68 840.95,415.05 841.11,401.64 841.28,388.78 841.44,377.86 841.61,369.95 841.77,365.45 841.94,363.93 842.10,364.29 842.27,365.19 842.43,365.57 842.60,365.12 842.76,364.36 842.93,364.46 843.09,366.73 843.26,372.11 843.42,380.83 843.59,392.27 843.75,405.27 843.92,418.43 844.09,430.53 844.25,440.77 844.42,448.84 844.58,454.85 844.75,459.20 844.91,462.61 845.08,466.36 845.24,472.29 845.41,481.38 845.57,491.23 845.74,496.26 845.90,492.93 846.07,483.89 846.23,474.85 846.40,468.89 846.56,465.45 846.73,462.75 846.89,459.47 847.06,454.91 847.23,448.70 847.39,440.78 847.56,431.35 847.72,421.02 847.89,410.75 848.05,401.64 848.22,394.64 848.38,390.28 848.55,388.41 848.71,388.32 848.88,388.98 849.04,389.43 849.21,389.22 849.37,388.55 849.54,388.21 849.70,389.24 849.87,392.53 850.03,398.43 850.20,406.67 850.36,416.44 850.53,426.67 850.70,436.33 850.86,444.65 851.03,451.29 851.19,456.26 851.36,459.99 851.52,463.47 851.69,468.40 851.85,476.23 852.02,485.80 852.18,492.22 852.35,490.86 852.51,482.58 852.68,472.79 852.84,465.66 853.01,461.53 853.17,458.75 853.34,455.86 853.50,452.00 853.67,446.60 853.84,439.28 854.00,429.84 854.17,418.42 854.33,405.64 854.50,392.54 854.66,380.49 854.83,370.76 854.99,364.18 855.16,360.87 855.32,360.14 855.49,360.77 855.65,361.52 855.82,361.56 855.98,360.89 856.15,360.29 856.31,361.00 856.48,364.22 856.64,370.65 856.81,380.21 856.97,392.07 857.14,404.97 857.31,417.57 857.47,428.83 857.64,438.13 857.80,445.38 857.97,451.02 858.13,456.15 858.30,462.59 858.46,471.78 858.63,482.26 858.79,489.00 858.96,487.72 859.12,479.89 859.29,471.06 859.45,465.14 859.62,462.19 859.78,460.60 859.95,459.05 860.11,456.82 860.28,453.49 860.45,448.75 860.61,442.37 860.78,434.39 860.94,425.15 861.11,415.35 861.27,405.97 861.44,398.05 861.60,392.35 861.77,389.14 861.93,388.10 862.10,388.40 862.26,389.04 862.43,389.27 862.59,388.87 862.76,388.25 862.92,388.30 863.09,389.96 863.25,393.93 863.42,400.34 863.58,408.73 863.75,418.20 863.92,427.75 864.08,436.48 864.25,443.80 864.41,449.50 864.58,453.63 864.74,456.47 864.91,458.40 865.07,460.05 865.24,462.61 865.40,467.70 865.57,475.81 865.73,484.03 865.90,486.94 866.06,481.92 866.23,472.23 866.39,463.08 866.56,456.72 866.72,452.18 866.89,447.65 867.06,441.90 867.22,434.31 867.39,424.73 867.55,413.42 867.72,401.13 867.88,388.96 868.05,378.22 868.21,370.02 868.38,364.91 868.54,362.73 868.71,362.62 868.87,363.35 869.04,363.83 869.20,363.56 869.37,362.79 869.53,362.49 869.70,363.87 869.86,367.97 870.03,375.19 870.19,385.19 870.36,397.01 870.53,409.36 870.69,421.05 870.86,431.19 871.02,439.37 871.19,445.57 871.35,450.08 871.52,453.42 871.68,456.43 871.85,460.58 872.01,467.44 872.18,476.76 872.34,484.60 872.51,485.90 872.67,479.87 872.84,470.95 873.00,463.78 873.17,459.48 873.33,456.73 873.50,453.94 873.67,450.19 873.83,445.00 874.00,438.18 874.16,429.86 874.33,420.50 874.49,410.91 874.66,402.09 874.82,395.00 874.99,390.26 875.15,387.92 875.32,387.46 875.48,387.97 875.65,388.50 875.81,388.48 875.98,387.91 876.14,387.41 876.31,387.91 876.47,390.31 876.64,395.13 876.80,402.27 876.97,411.11 877.14,420.68 877.30,429.97 877.47,438.20 877.63,444.91 877.80,450.02 877.96,453.82 878.13,457.04 878.29,461.10 878.46,467.61 878.62,476.48 878.79,484.04 878.95,485.23 879.12,479.05 879.28,469.78 879.45,462.19 879.61,457.63 879.78,454.85 879.94,452.31 880.11,449.03 880.28,444.45 880.44,438.15 880.61,429.86 880.77,419.62 880.94,407.87 881.10,395.50 881.27,383.72 881.43,373.81 881.60,366.70 881.76,362.72 881.93,361.41 882.09,361.75 882.26,362.50 882.42,362.73 882.59,362.21 882.75,361.49 882.92,361.66 883.08,363.93 883.25,369.15 883.41,377.44 883.58,388.23 883.75,400.39 883.91,412.62 884.08,423.84 884.24,433.31 884.41,440.78 884.57,446.40 884.74,450.65 884.90,454.51 885.07,459.58 885.23,467.36 885.40,477.00 885.56,484.11 885.73,484.12 885.89,477.41 886.06,468.90 886.22,462.70 886.39,459.36 886.55,457.41 886.72,455.46 886.88,452.71 887.05,448.72 887.22,443.24 887.38,436.20 887.55,427.84 887.71,418.73 887.88,409.72 888.04,401.80 888.21,395.80 888.37,392.12 888.54,390.62 888.70,390.63 888.87,391.21 889.03,391.57 889.20,391.32 889.36,390.70 889.53,390.44 889.69,391.47 889.86,394.56 890.02,399.98 890.19,407.47 890.36,416.26 890.52,425.39 890.69,433.95 890.85,441.28 891.02,447.09 891.18,451.40 891.35,454.58 891.51,457.49 891.68,461.62 891.84,468.45 892.01,477.28 892.17,483.86 892.34,483.45 892.50,476.14 892.67,466.74 892.83,459.55 893.00,455.24 893.16,452.35 893.33,449.41 893.50,445.52 893.66,440.11 893.83,432.79 893.99,423.40 894.16,412.09 894.32,399.50 894.49,386.70 894.65,375.00 894.82,365.65 894.98,359.43 895.15,356.36 895.31,355.75 895.48,356.38 895.64,357.03 895.81,356.97 895.97,356.24 896.14,355.66 896.30,356.48 896.47,359.86 896.63,366.45 896.80,376.09 896.97,387.94 897.13,400.73 897.30,413.15 897.46,424.19 897.63,433.27 897.79,440.27 897.96,445.39 898.12,449.05 898.29,451.78 898.45,454.44 898.62,458.51 898.78,465.51 898.95,474.97 899.11,482.67 899.28,483.49 899.44,476.93 899.61,467.62 899.77,460.15 899.94,455.46 900.11,452.08 900.27,448.41 900.44,443.53 900.60,437.05 900.77,428.96 900.93,419.63 901.10,409.81 901.26,400.47 901.43,392.65 901.59,387.10 901.76,384.05 901.92,383.12 902.09,383.46 902.25,384.07 902.42,384.22 902.58,383.75 902.75,383.12 902.91,383.22 903.08,385.05 903.24,389.25 903.41,395.92 903.58,404.53 903.74,414.18 903.91,423.82 904.07,432.55 904.24,439.82 904.40,445.45 904.57,449.68 904.73,453.23 904.90,457.58 905.06,464.42 905.23,473.65 905.39,481.49 905.56,482.72 905.72,476.28 905.89,466.63 906.05,458.73 906.22,454.00 906.38,451.17 906.55,448.65 906.72,445.46 906.88,441.01 907.05,434.83 907.21,426.62 907.38,416.31 907.54,404.22 907.71,391.18 907.87,378.39 908.04,367.22 908.20,358.79 908.37,353.66 908.53,352.81 908.70,352.80 908.86,352.78 909.03,352.78 909.19,352.75 909.36,352.74 909.52,352.72 909.69,353.04 909.85,357.62 910.02,365.48 910.19,376.21 910.35,388.75 910.52,401.74 910.68,413.94 910.85,424.46 911.01,432.90 911.18,439.29 911.34,443.92 911.51,447.29 911.67,450.20 911.84,453.98 912.00,460.33 912.17,469.51 912.33,478.21 912.50,481.08 912.66,476.17 912.83,467.24 912.99,459.39 913.16,454.47 913.33,451.40 913.49,448.52 913.66,444.74 913.82,439.54 913.99,432.76 914.15,424.52 914.32,415.31 914.48,405.95 914.65,397.43 914.81,390.66 914.98,386.22 915.14,384.11 915.31,383.77 915.47,384.30 915.64,384.79 915.80,384.71 915.97,384.12 916.13,383.66 916.30,384.26 916.46,386.78 916.63,391.67 916.80,398.80 916.96,407.51 917.13,416.85 917.29,425.85 917.46,433.75 917.62,440.15 917.79,444.96 917.95,448.35 918.12,450.60 918.28,452.13 918.45,453.56 918.61,456.07 918.78,461.24 918.94,469.28 919.11,476.93 919.27,478.90 919.44,473.20 919.60,463.43 919.77,454.55 919.94,448.31 920.10,443.55 920.27,438.54 920.43,432.15 920.60,423.90 920.76,413.78 920.93,402.26 921.09,390.22 921.26,378.86 921.42,369.40 921.59,362.73 921.75,359.08 921.92,357.98 922.08,358.36 922.25,359.06 922.41,359.22 922.58,358.66 922.74,357.97 922.91,358.24 923.07,360.63 923.24,365.92 923.41,374.17 923.57,384.77 923.74,396.59 923.90,408.41 924.07,419.16 924.23,428.19 924.40,435.27 924.56,440.53 924.73,444.32 924.89,447.17 925.06,449.98 925.22,454.20 925.39,461.21 925.55,470.23 925.72,477.01 925.88,477.02 926.05,470.42 926.21,461.88 926.38,455.39 926.55,451.50 926.71,448.76 926.88,445.73 927.04,441.60 927.21,436.01 927.37,428.88 927.54,420.47 927.70,411.37 927.87,402.45 928.03,394.68 928.20,388.88 928.36,385.40 928.53,384.05 928.69,384.14 928.86,384.73 929.02,385.05 929.19,384.76 929.35,384.15 929.52,383.97 929.68,385.16 929.85,388.44 930.02,394.05 930.18,401.68 930.35,410.55 930.51,419.69 930.68,428.21 930.84,435.48 931.01,441.26 931.17,445.67 931.34,449.35 931.50,453.61 931.67,460.03 931.83,468.64 932.00,476.12 932.16,477.67 932.33,472.14 932.49,463.49 932.66,456.32 932.82,452.09 932.99,449.68 933.16,447.67 933.32,445.15 933.49,441.59 933.65,436.59 933.82,429.82 933.98,421.14 934.15,410.73 934.31,399.20 934.48,387.55 934.64,377.00 934.81,368.66 934.97,363.19 935.14,360.59 935.30,360.14 935.47,360.73 935.63,361.27 935.80,361.11 935.96,360.39 936.13,359.88 936.29,360.74 936.46,364.02 936.63,370.26 936.79,379.26 936.96,390.22 937.12,401.94 937.29,413.24 937.45,423.21 937.62,431.36 937.78,437.60 937.95,442.13 938.11,445.31 938.28,447.53 938.44,449.24 938.61,451.21 938.77,454.76 938.94,461.28 939.10,470.07 939.27,476.91 939.43,476.99 939.60,470.06 939.77,460.63 939.93,452.84 940.10,447.37 940.26,442.75 940.43,437.47 940.59,430.76 940.76,422.51 940.92,413.08 941.09,403.22 941.25,393.94 941.42,386.25 941.58,380.86 941.75,377.97 941.91,377.15 942.08,377.52 942.24,378.10 942.41,378.18 942.57,377.66 942.74,377.04 942.90,377.25 943.07,379.25 943.24,383.67 943.40,390.56 943.57,399.37 943.73,409.15 943.90,418.85 944.06,427.61 944.23,434.89 944.39,440.54 944.56,444.82 944.72,448.49 944.89,453.04 945.05,460.06 945.22,469.26 945.38,476.73 945.55,477.50 945.71,471.02 945.88,461.82 946.04,454.56 946.21,450.35 946.38,447.85 946.54,445.59 946.71,442.65 946.87,438.48 947.04,432.66 947.20,424.91 947.37,415.18 947.53,403.82 947.70,391.62 947.86,379.74 948.03,369.44 948.19,361.78 948.36,357.20 948.52,355.42 948.69,355.50 948.85,356.23 949.02,356.58 949.18,356.17 949.35,355.38 949.51,355.24 949.68,356.97 949.85,361.51 950.01,369.16 950.18,379.48 950.34,391.41 950.51,403.70 950.67,415.16 950.84,425.00 951.00,432.86 951.17,438.78 951.33,443.08 951.50,446.25 951.66,449.14 951.83,453.16 951.99,459.89 952.16,469.10 952.32,477.00 952.49,478.49 952.65,472.65 952.82,463.81 952.99,456.60 953.15,452.23 953.32,449.38 953.48,446.49 953.65,442.60 953.81,437.25 953.98,430.28 954.14,421.88 954.31,412.54 954.47,403.11 954.64,394.59 954.80,387.91 954.97,383.60 955.13,381.61 955.30,381.36 955.46,381.90 955.63,382.35 955.79,382.20 955.96,381.57 956.12,381.14 956.29,381.86 956.46,384.59 956.62,389.75 956.79,397.16 956.95,406.13 957.12,415.66 957.28,424.79 957.45,432.75 957.61,439.18 957.78,444.08 957.94,447.89 958.11,451.73 958.27,457.28 958.44,465.59 958.60,474.68 958.77,479.44 958.93,476.34 959.10,467.63 959.26,458.70 959.43,452.73 959.60,449.37 959.76,446.99 959.93,444.35 960.09,440.73 960.26,435.63 960.42,428.65 960.59,419.57 960.75,408.47 960.92,395.88 961.08,382.82 961.25,370.59 961.41,360.51 961.58,353.49 961.74,349.74 961.91,348.67 962.07,349.14 962.24,349.85 962.40,349.91 962.57,349.23 962.73,348.47 962.90,348.87 963.07,351.75 963.23,357.82 963.40,367.10 963.56,378.85 963.73,391.83 963.89,404.69 964.06,416.32 964.22,426.22 964.39,434.70 964.55,443.14 964.72,453.40 964.88,465.69 965.05,476.29 965.21,479.62 965.38,474.24 965.54,464.83 965.71,457.10 965.87,453.02 966.04,451.40 966.21,450.63 966.37,449.77 966.54,448.39 966.70,446.18 966.87,442.81 967.03,437.96 967.20,431.39 967.36,423.07 967.53,413.33 967.69,402.87 967.86,392.73 968.02,384.00 968.19,377.57 968.35,373.82 968.52,372.47 968.68,372.67 968.85,373.38 969.01,373.71 969.18,373.36 969.34,372.70 969.51,372.61 969.68,374.16 969.84,378.15 970.01,384.80 970.17,393.68 970.34,403.89 970.50,414.31 970.67,423.94 970.83,432.10 971.00,438.52 971.16,443.23 971.33,446.53 971.49,448.97 971.66,451.55 971.82,455.94 971.99,463.53 972.15,473.03 972.32,479.37 972.48,477.79 972.65,469.18 972.82,459.01 972.98,451.42 973.15,446.64 973.31,442.92 973.48,438.64 973.64,432.88 973.81,425.15 973.97,415.30 974.14,403.55 974.30,390.64 974.47,377.72 974.63,366.14 974.80,357.13 974.96,351.36 975.13,348.76 975.29,348.48 975.46,349.25 975.62,349.88 975.79,349.73 975.95,348.98 976.12,348.57 976.29,349.80 976.45,353.79 976.62,361.08 976.78,371.39 976.95,383.77 977.11,396.88 977.28,409.42 977.44,420.42 977.61,429.37 977.77,436.23 977.94,441.25 978.10,444.96 978.27,448.22 978.43,452.50 978.60,459.49 978.76,469.12 978.93,477.60 979.09,479.61 979.26,473.92 979.43,464.88 979.59,457.41 979.76,452.97 979.92,450.26 980.09,447.64 980.25,444.12 980.42,439.20 980.58,432.67 980.75,424.59 980.91,415.41 981.08,405.87 981.24,396.99 981.41,389.72 981.57,384.75 981.74,382.19 981.90,381.59 982.07,382.07 982.23,382.67 982.40,382.76 982.56,382.27 982.73,381.74 982.90,382.10 983.06,384.26 983.23,388.80 983.39,395.69 983.56,404.38 983.72,413.91 983.89,423.29 984.05,431.68 984.22,438.60 984.38,443.90 984.55,447.73 984.71,450.52 984.88,453.15 985.04,457.09 985.21,463.87 985.37,472.83 985.54,479.67 985.70,479.48 985.87,472.19 986.04,462.62 986.20,455.18 986.37,450.62 986.53,447.43 986.70,444.06 986.86,439.55 987.03,433.35 987.19,425.14 987.36,414.91 987.52,403.05 987.69,390.41 987.85,378.22 988.02,367.79 988.18,360.15 988.35,355.71 988.51,354.11 988.68,354.34 988.84,355.14 989.01,355.49 989.17,355.06 989.34,354.31 989.51,354.32 989.67,356.35 989.84,361.34 990.00,369.52 990.17,380.36 990.33,392.77 990.50,405.42 990.66,417.13 990.83,427.12 990.99,435.05 991.16,441.01 991.32,445.33 991.49,448.64 991.65,451.98 991.82,457.03 991.98,465.15 992.15,475.00 992.31,481.62 992.48,480.53 992.65,472.79 992.81,463.71 992.98,457.21 993.14,453.45 993.31,450.77 993.47,447.71 993.64,443.45 993.80,437.60 993.97,430.04 994.13,420.97 994.30,410.98 994.46,400.99 994.63,392.06 994.79,385.16 994.96,380.82 995.12,378.92 995.29,378.81 995.45,379.47 995.62,379.96 995.78,379.80 995.95,379.18 996.12,378.83 996.28,379.79 996.45,382.95 996.61,388.70 996.78,396.81 996.94,406.49 997.11,416.68 997.27,426.37 997.44,434.78 997.60,441.54 997.77,446.67 997.93,450.62 998.10,454.49 998.26,460.02 998.43,468.44 998.59,478.00 998.76,483.55 998.92,481.10 999.09,472.45 999.26,463.14 999.42,456.76 999.59,453.17 999.75,450.72 999.92,448.04 1000.08,444.37 1000.25,439.18 1000.41,432.09 1000.58,422.88 1000.74,411.67 1000.91,399.05 1001.07,386.05 1001.24,374.01 1001.40,364.20 1001.57,357.51 1001.73,354.07 1001.90,353.25 1002.06,353.84 1002.23,354.58 1002.39,354.65 1002.56,353.99 1002.73,353.34 1002.89,353.96 1003.06,357.07 1003.22,363.41 1003.39,372.93 1003.55,384.83 1003.72,397.87 1003.88,410.68 1004.05,422.19 1004.21,431.76 1004.38,439.27 1004.54,445.12 1004.71,450.43 1004.87,457.01 1005.04,466.34 1005.20,477.07 1005.37,484.19 1005.53,483.25 1005.70,475.56 1005.87,466.73 1006.03,460.77 1006.20,457.85 1006.36,456.36 1006.53,454.93 1006.69,452.85 1006.86,449.67 1007.02,445.07 1007.19,438.82 1007.35,430.94 1007.52,421.75 1007.68,411.95 1007.85,402.51 1008.01,394.48 1008.18,388.65 1008.34,385.33 1008.51,384.22 1008.67,384.49 1008.84,385.16 1009.00,385.42 1009.17,385.04 1009.34,384.41 1009.50,384.41 1009.67,386.03 1009.83,389.97 1010.00,396.42 1010.16,404.93 1010.33,414.61 1010.49,424.41 1010.66,433.40 1010.82,440.97 1010.99,446.87 1011.15,451.21 1011.32,454.35 1011.48,457.11 1011.65,460.98 1011.81,467.60 1011.98,476.75 1012.14,484.46 1012.31,485.39 1012.48,478.61 1012.64,468.71 1012.81,460.63 1012.97,455.63 1013.14,452.33 1013.30,449.07 1013.47,444.79 1013.63,438.87 1013.80,430.93 1013.96,420.86 1014.13,408.92 1014.29,395.89 1014.46,382.95 1014.62,371.45 1014.79,362.61 1014.95,357.06 1015.12,354.64 1015.28,354.46 1015.45,355.24 1015.61,355.79 1015.78,355.55 1015.95,354.75 1016.11,354.39 1016.28,355.78 1016.44,360.03 1016.61,367.61 1016.77,378.19 1016.94,390.75 1017.10,403.94 1017.27,416.47 1017.43,427.39 1017.60,436.23 1017.76,442.96 1017.93,447.83 1018.09,451.25 1018.26,453.64 1018.42,455.36 1018.59,456.88 1018.75,459.10 1018.92,463.56 1019.09,471.41 1019.25,481.00 1019.42,487.01 1019.58,484.93 1019.75,475.94 1019.91,465.30 1020.08,456.65 1020.24,449.97 1020.41,443.55 1020.57,436.05 1020.74,427.08 1020.90,416.97 1021.07,406.55 1021.23,396.93 1021.40,389.14 1021.56,383.89 1021.73,381.27 1021.89,380.73 1022.06,381.29 1022.22,381.91 1022.39,381.94 1022.56,381.36 1022.72,380.80 1022.89,381.30 1023.05,383.86 1023.22,389.05 1023.38,396.82 1023.55,406.50 1023.71,417.02 1023.88,427.30 1024.04,436.44 1024.21,443.92 1024.37,449.62 1024.54,453.67 1024.70,456.41 1024.87,458.27 1025.03,459.95 1025.20,462.79 1025.36,468.62 1025.53,477.91 1025.70,487.16 1025.86,490.13 1026.03,484.05 1026.19,472.78 1026.36,462.23 1026.52,454.77 1026.69,449.19 1026.85,443.42 1027.02,436.06 1027.18,426.49 1027.35,414.63 1027.51,400.96 1027.68,386.51 1027.84,372.67 1028.01,360.95 1028.17,352.48 1028.34,348.65 1028.50,348.66 1028.67,348.67 1028.83,348.67 1029.00,348.68 1029.17,348.83 1029.33,348.98 1029.50,349.13 1029.66,349.52 1029.83,355.66 1029.99,365.44 1030.16,378.17 1030.32,392.56 1030.49,407.10 1030.65,420.47 1030.82,431.82 1030.98,440.85 1031.15,447.76 1031.31,453.32 1031.48,459.04 1031.64,466.98 1031.81,477.88 1031.97,488.65 1032.14,493.37 1032.31,489.24 1032.47,480.01 1032.64,471.64 1032.80,466.79 1032.97,464.54 1033.13,463.13 1033.30,461.37 1033.46,458.64 1033.63,454.57 1033.79,448.87 1033.96,441.49 1034.12,432.66 1034.29,422.99 1034.45,413.39 1034.62,404.93 1034.78,398.51 1034.95,394.61 1035.11,393.07 1035.28,393.19 1035.44,393.98 1035.61,394.54 1035.78,394.48 1035.94,394.00 1036.11,393.87 1036.27,395.09 1036.44,398.51 1036.60,404.46 1036.77,412.66 1036.93,422.32 1037.10,432.40 1037.26,441.91 1037.43,450.12 1037.59,456.69 1037.76,461.60 1037.92,465.08 1038.09,467.49 1038.25,469.43 1038.42,472.02 1038.58,476.96 1038.75,485.20 1038.91,494.43 1039.08,499.08 1039.25,495.42 1039.41,485.85 1039.58,475.98 1039.74,468.95 1039.91,464.20 1040.07,459.82 1040.24,454.36 1040.40,447.05 1040.57,437.58 1040.73,426.11 1040.90,413.26 1041.06,400.12 1041.23,388.07 1041.39,378.40 1041.56,371.95 1041.72,368.81 1041.89,368.26 1042.05,369.05 1042.22,369.91 1042.39,370.04 1042.55,369.45 1042.72,368.98 1042.88,369.90 1043.05,373.47 1043.21,380.37 1043.38,390.49 1043.54,402.97 1043.71,416.50 1043.87,429.70 1044.04,441.50 1044.20,451.28 1044.37,458.91 1044.53,464.75 1044.70,469.71 1044.86,475.44 1045.03,483.79 1045.19,494.65 1045.36,503.92 1045.53,506.05 1045.69,499.96 1045.86,490.59 1046.02,483.18 1046.19,479.13 1046.35,477.09 1046.52,475.43 1046.68,473.16 1046.85,469.74 1047.01,464.83 1047.18,458.19 1047.34,449.86 1047.51,440.20 1047.67,429.97 1047.84,420.21 1048.00,411.99 1048.17,406.12 1048.33,402.87 1048.50,401.87 1048.66,402.24 1048.83,402.94 1049.00,403.18 1049.16,402.76 1049.33,402.14 1049.49,402.27 1049.66,404.16 1049.82,408.54 1049.99,415.54 1050.15,424.63 1050.32,434.88 1050.48,445.17 1050.65,454.57 1050.81,462.45 1050.98,468.60 1051.14,473.18 1051.31,476.76 1051.47,480.54 1051.64,486.31 1051.80,495.05 1051.97,504.45 1052.13,509.11 1052.30,505.58 1052.47,496.46 1052.63,487.35 1052.80,481.34 1052.96,477.91 1053.13,475.34 1053.29,472.32 1053.46,468.11 1053.62,462.21 1053.79,454.29 1053.95,444.27 1054.12,432.45 1054.28,419.61 1054.45,406.96 1054.61,395.83 1054.78,387.39 1054.94,382.20 1055.11,380.05 1055.27,380.02 1055.44,380.82 1055.61,381.32 1055.77,381.02 1055.94,380.24 1056.10,379.98 1056.27,381.55 1056.43,386.00 1056.60,393.73 1056.76,404.37 1056.93,416.85 1057.09,429.85 1057.26,442.10 1057.42,452.70 1057.59,461.23 1057.75,467.69 1057.92,472.35 1058.08,475.65 1058.25,478.15 1058.41,480.78 1058.58,485.08 1058.75,492.55 1058.91,502.33 1059.08,509.75 1059.24,509.73 1059.41,502.31 1059.57,492.55 1059.74,484.89 1059.90,479.97 1060.07,476.15 1060.23,471.81 1060.40,466.07 1060.56,458.60 1060.73,449.51 1060.89,439.33 1061.06,428.93 1061.22,419.42 1061.39,411.83 1061.55,406.80 1061.72,404.37 1061.88,403.95 1062.05,404.53 1062.22,405.14 1062.38,405.13 1062.55,404.54 1062.71,404.05 1062.88,404.70 1063.04,407.46 1063.21,412.83 1063.37,420.72 1063.54,430.41 1063.70,440.84 1063.87,450.92 1064.03,459.83 1064.20,467.07 1064.36,472.59 1064.53,476.69 1064.69,480.24 1064.86,484.79 1065.02,492.08 1065.19,501.83 1065.36,509.85 1065.52,510.72 1065.69,503.68 1065.85,493.59 1066.02,485.52 1066.18,480.73 1066.35,477.78 1066.51,475.01 1066.68,471.42 1066.84,466.37 1067.01,459.42 1067.17,450.30 1067.34,439.06 1067.50,426.20 1067.67,412.70 1067.83,399.92 1068.00,389.23 1068.16,381.64 1068.33,377.46 1068.49,376.17 1068.66,376.62 1068.83,377.47 1068.99,377.73 1069.16,377.17 1069.32,376.43 1069.49,376.71 1069.65,379.34 1069.82,385.19 1069.98,394.40 1070.15,406.27 1070.31,419.58 1070.48,432.91 1070.64,445.10 1070.81,455.49 1070.97,464.23 1071.14,472.52 1071.30,482.34 1071.47,494.57 1071.63,506.36 1071.80,511.90 1071.97,508.18 1072.13,498.81 1072.30,490.05 1072.46,484.97 1072.63,482.83 1072.79,481.90 1072.96,481.02 1073.12,479.65 1073.29,477.47 1073.45,474.12 1073.62,469.25 1073.78,462.61 1073.95,454.13 1074.11,444.11 1074.28,433.23 1074.44,422.54 1074.61,413.20 1074.77,406.17 1074.94,401.94 1075.10,400.27 1075.27,400.36 1075.44,401.11 1075.60,401.55 1075.77,401.28 1075.93,400.60 1076.10,400.39 1076.26,401.77 1076.43,405.63 1076.59,412.27 1076.76,421.33 1076.92,431.90 1077.09,442.84 1077.25,453.06 1077.42,461.82 1077.58,468.80 1077.75,474.17 1077.91,478.73 1078.08,484.09 1078.24,492.05 1078.41,502.40 1078.58,510.92 1078.74,512.10 1078.91,505.12 1079.07,494.96 1079.24,486.86 1079.40,482.20 1079.57,479.57 1079.73,477.32 1079.90,474.46 1080.06,470.41 1080.23,464.68 1080.39,456.91 1080.56,446.90 1080.72,434.87 1080.89,421.51 1081.05,407.97 1081.22,395.66 1081.38,385.90 1081.55,379.48 1081.71,376.42 1081.88,375.92 1082.05,376.69 1082.21,377.43 1082.38,377.40 1082.54,376.68 1082.71,376.16 1082.87,377.18 1083.04,380.98 1083.20,388.19 1083.37,398.63 1083.53,411.38 1083.70,425.06 1083.86,438.30 1084.03,450.03 1084.19,459.66 1084.36,467.09 1084.52,472.59 1084.69,476.72 1084.85,480.52 1085.02,485.67 1085.18,493.81 1085.35,504.19 1085.52,512.15 1085.68,512.57 1085.85,505.52 1086.01,496.20 1086.18,489.22 1086.34,485.32 1086.51,482.93 1086.67,480.47 1086.84,477.04 1087.00,472.16 1087.17,465.62 1087.33,457.47 1087.50,448.08 1087.66,438.23 1087.83,428.91 1087.99,421.17 1088.16,415.73 1088.32,412.81 1088.49,412.01 1088.66,412.43 1088.82,413.10 1088.99,413.28 1089.15,412.84 1089.32,412.25 1089.48,412.46 1089.65,414.42 1089.81,418.79 1089.98,425.63 1090.14,434.40 1090.31,444.17 1090.47,453.89 1090.64,462.66 1090.80,469.94 1090.97,475.53 1091.13,479.56 1091.30,482.37 1091.46,484.63 1091.63,487.59 1091.80,493.03 1091.96,501.64 1092.13,510.57 1092.29,514.11 1092.46,509.24 1092.62,499.19 1092.79,489.60 1092.95,483.12 1093.12,478.89 1093.28,475.03 1093.45,470.19 1093.61,463.61 1093.78,454.90 1093.94,443.97 1094.11,431.20 1094.27,417.47 1094.44,404.06 1094.60,392.41 1094.77,383.70 1094.93,378.47 1095.10,376.42 1095.27,376.48 1095.43,377.31 1095.60,377.77 1095.76,377.37 1095.93,376.53 1096.09,376.35 1096.26,378.22 1096.42,383.22 1096.59,391.69 1096.75,403.18 1096.92,416.53 1097.08,430.32 1097.25,443.23 1097.41,454.35 1097.58,463.26 1097.74,469.99 1097.91,474.85 1098.07,478.29 1098.24,480.79 1098.40,483.01 1098.57,486.13 1098.74,491.85 1098.90,500.88 1099.07,510.48 1099.23,514.92 1099.40,510.94 1099.56,501.45 1099.73,491.98 1099.89,485.26 1100.06,480.49 1100.22,475.84 1100.39,470.04 1100.55,462.60 1100.72,453.61 1100.88,443.59 1101.05,433.43 1101.21,424.23 1101.38,416.97 1101.54,412.25 1101.71,410.07 1101.88,409.79 1102.04,410.42 1102.21,410.97 1102.37,410.89 1102.54,410.27 1102.70,409.83 1102.87,410.59 1103.03,413.49 1103.20,419.00 1103.36,426.95 1103.53,436.60 1103.69,446.91 1103.86,456.82 1104.02,465.51 1104.19,472.55 1104.35,477.94 1104.52,482.10 1104.68,486.13 1104.85,491.76 1105.02,500.24 1105.18,509.87 1105.35,515.50 1105.51,513.13 1105.68,504.53 1105.84,495.25 1106.01,488.91 1106.17,485.39 1106.34,483.03 1106.50,480.49 1106.67,477.02 1106.83,472.10 1107.00,465.32 1107.16,456.46 1107.33,445.58 1107.49,433.21 1107.66,420.31 1107.82,408.20 1107.99,398.16 1108.15,391.14 1108.32,387.36 1108.49,386.29 1108.65,386.77 1108.82,387.53 1108.98,387.69 1109.15,387.08 1109.31,386.37 1109.48,386.75 1109.64,389.47 1109.81,395.32 1109.97,404.38 1110.14,415.92 1110.30,428.73 1110.47,441.48 1110.63,453.04 1110.80,462.71 1110.96,470.28 1111.13,475.88 1111.29,479.88 1111.46,482.79 1111.62,485.38 1111.79,488.99 1111.96,495.31 1112.12,504.64 1112.29,513.59 1112.45,516.56 1112.62,511.43 1112.78,502.01 1112.95,493.56 1113.11,488.05 1113.28,484.35 1113.44,480.69 1113.61,475.93 1113.77,469.55 1113.94,461.46 1114.10,451.94 1114.27,441.67 1114.43,431.65 1114.60,422.98 1114.76,416.54 1114.93,412.74 1115.10,411.31 1115.26,411.47 1115.43,412.15 1115.59,412.50 1115.76,412.16 1115.92,411.49 1116.09,411.35 1116.25,412.78 1116.42,416.61 1116.58,423.08 1116.75,431.79 1116.91,441.87 1117.08,452.20 1117.24,461.79 1117.41,469.95 1117.57,476.38 1117.74,481.11 1117.90,484.40 1118.07,486.71 1118.24,488.82 1118.40,492.16 1118.57,498.48 1118.73,507.78 1118.90,516.12 1119.06,517.71 1119.23,510.96 1119.39,500.32 1119.56,491.15 1119.72,485.08 1119.89,480.70 1120.05,476.14 1120.22,470.19 1120.38,462.24 1120.55,452.07 1120.71,439.92 1120.88,426.51 1121.04,413.02 1121.21,400.87 1121.37,391.33 1121.54,385.16 1121.71,382.29 1121.87,381.90 1122.04,382.66 1122.20,383.31 1122.37,383.15 1122.53,382.36 1122.70,381.86 1122.86,383.02 1123.03,387.03 1123.19,394.49 1123.36,405.15 1123.52,418.02 1123.69,431.74 1123.85,444.91 1124.02,456.51 1124.18,465.99 1124.35,473.28 1124.51,478.70 1124.68,483.01 1124.85,487.57 1125.01,494.34 1125.18,504.23 1125.34,514.61 1125.51,519.70 1125.67,516.18 1125.84,507.08 1126.00,498.29 1126.17,492.78 1126.33,489.88 1126.50,487.79 1126.66,485.22 1126.83,481.50 1126.99,476.21 1127.16,469.16 1127.32,460.42 1127.49,450.43 1127.65,440.02 1127.82,430.27 1127.98,422.23 1128.15,416.68 1128.32,413.77 1128.48,413.04 1128.65,413.53 1128.81,414.19 1128.98,414.31 1129.14,413.79 1129.31,413.19 1129.47,413.50 1129.64,415.76 1129.80,420.60 1129.97,428.02 1130.13,437.44 1130.30,447.83 1130.46,458.08 1130.63,467.29 1130.79,474.89 1130.96,480.71 1131.12,484.88 1131.29,487.70 1131.45,489.58 1131.62,491.16 1131.79,493.62 1131.95,498.77 1132.12,507.45 1132.28,516.88 1132.45,521.04 1132.61,516.29 1132.78,505.56 1132.94,494.80 1133.11,486.99 1133.27,481.33 1133.44,475.75 1133.60,468.78 1133.77,459.71 1133.93,448.39 1134.10,435.25 1134.26,421.20 1134.43,407.59 1134.59,395.88 1134.76,387.24 1134.93,382.17 1135.09,380.28 1135.26,380.48 1135.42,381.37 1135.59,381.80 1135.75,381.35 1135.92,380.52 1136.08,380.48 1136.25,382.64 1136.41,388.06 1136.58,397.03 1136.74,409.01 1136.91,422.78 1137.07,436.88 1137.24,450.00 1137.40,461.22 1137.57,470.18 1137.73,476.94 1137.90,481.85 1138.07,485.49 1138.23,488.75 1138.40,493.16 1138.56,500.48 1138.73,510.67 1138.89,519.72 1139.06,521.94 1139.22,515.98 1139.39,506.36 1139.55,498.35 1139.72,493.48 1139.88,490.39 1140.05,487.33 1140.21,483.23 1140.38,477.57 1140.54,470.22 1140.71,461.34 1140.87,451.50 1141.04,441.62 1141.20,432.75 1141.37,425.85 1141.54,421.46 1141.70,419.52 1141.87,419.37 1142.03,420.02 1142.20,420.52 1142.36,420.40 1142.53,419.78 1142.69,419.40 1142.86,420.27 1143.02,423.29 1143.19,428.86 1143.35,436.78 1143.52,446.29 1143.68,456.34 1143.85,465.91 1144.01,474.24 1144.18,480.94 1144.34,486.06 1144.51,490.18 1144.67,494.62 1144.84,501.23 1145.01,510.63 1145.17,519.83 1145.34,523.25 1145.50,518.28 1145.67,508.50 1145.83,499.55 1146.00,493.94 1146.16,490.78 1146.33,488.36 1146.49,485.51 1146.66,481.55 1146.82,475.98 1146.99,468.38 1147.15,458.52 1147.32,446.50 1147.48,432.93 1147.65,418.91 1147.81,405.86 1147.98,395.17 1148.15,387.83 1148.31,383.98 1148.48,382.98 1148.64,383.58 1148.81,384.39 1148.97,384.49 1149.14,383.78 1149.30,383.05 1149.47,383.63 1149.63,386.89 1149.80,393.69 1149.96,404.02 1150.13,417.06 1150.29,431.45 1150.46,445.71 1150.62,458.60 1150.79,469.39 1150.95,477.85 1151.12,484.16 1151.29,488.72 1151.45,492.10 1151.62,494.85 1151.78,498.08 1151.95,503.57 1152.11,512.72 1152.28,523.84 1152.44,531.20 1152.61,529.74 1152.77,520.75 1152.94,510.19 1153.10,502.31 1153.27,497.13 1153.43,492.71 1153.60,487.38 1153.76,480.33 1153.93,471.40 1154.09,460.93 1154.26,449.72 1154.42,438.91 1154.59,429.70 1154.76,422.98 1154.92,419.24 1155.09,418.11 1155.25,418.64 1155.42,419.68 1155.58,420.29 1155.75,420.16 1155.91,419.73 1156.08,419.99 1156.24,422.05 1156.41,426.76 1156.57,434.30 1156.74,444.17 1156.90,455.38 1157.07,466.72 1157.23,477.16 1157.40,486.02 1157.56,493.12 1157.73,498.92 1157.89,504.65 1158.06,512.10 1158.23,521.88 1158.39,531.24 1158.56,535.01 1158.72,530.89 1158.89,522.32 1159.05,514.59 1159.22,510.04 1159.38,507.88 1159.55,506.56 1159.71,505.09 1159.88,502.96 1160.04,499.80 1160.21,495.27 1160.37,489.11 1160.54,481.24 1160.70,471.87 1160.87,461.63 1161.03,451.46 1161.20,442.45 1161.37,435.50 1161.53,431.20 1161.70,429.41 1161.86,429.44 1162.03,430.23 1162.19,430.86 1162.36,430.86 1162.52,430.40 1162.69,430.23 1162.85,431.33 1163.02,434.54 1163.18,440.20 1163.35,448.04 1163.51,457.29 1163.68,466.92 1163.84,475.97 1164.01,483.73 1164.17,489.86 1164.34,494.36 1164.51,497.48 1164.67,499.70 1164.84,501.96 1165.00,505.74 1165.17,512.30 1165.33,520.51 1165.50,525.91 1165.66,524.32 1165.83,516.55 1165.99,507.44 1166.16,500.66 1166.32,496.43 1166.49,493.23 1166.65,489.69 1166.82,485.00 1166.98,478.75 1167.15,470.75 1167.31,461.14 1167.48,450.46 1167.64,439.58 1167.81,429.65 1167.98,421.32 1168.14,415.61 1168.31,412.63 1168.47,411.84 1168.64,412.24 1168.80,412.77 1168.97,412.73 1169.13,412.07 1169.30,411.44 1169.46,411.86 1169.63,414.37 1169.79,419.57 1169.96,427.42 1170.12,437.27 1170.29,448.05 1170.45,458.64 1170.62,468.13 1170.78,475.99 1170.95,482.08 1171.12,486.57 1171.28,489.91 1171.45,492.92 1171.61,496.98 1171.78,503.44 1171.94,511.78 1172.11,518.27 1172.27,518.66 1172.44,512.85 1172.60,505.06 1172.77,499.13 1172.93,495.76 1173.10,493.67 1173.26,491.58 1173.43,488.72 1173.59,484.70 1173.76,479.29 1173.92,472.50 1174.09,464.61 1174.25,456.21 1174.42,448.12 1174.59,441.25 1174.75,436.23 1174.92,433.34 1175.08,432.31 1175.25,432.45 1175.41,432.93 1175.58,433.07 1175.74,432.66 1175.91,432.04 1176.07,431.96 1176.24,433.24 1176.40,436.51 1176.57,441.92 1176.73,449.07 1176.90,457.23 1177.06,465.50 1177.23,473.08 1177.39,479.47 1177.56,484.44 1177.73,488.05 1177.89,490.53 1178.06,492.27 1178.22,493.96 1178.39,496.84 1178.55,502.28 1178.72,509.96 1178.88,516.28 1179.05,516.64 1179.21,510.41 1179.38,501.57 1179.54,494.29 1179.71,489.49 1179.87,485.87 1180.04,481.95 1180.20,476.80 1180.37,469.95 1180.53,461.29 1180.70,451.03 1180.86,439.82 1181.03,428.68 1181.20,418.77 1181.36,411.12 1181.53,406.28 1181.69,404.39 1181.86,404.30 1182.02,404.46 1182.19,404.85 1182.35,404.56 1182.52,403.96 1182.68,403.87 1182.85,404.53 1183.01,408.11 1183.18,414.56 1183.34,423.59 1183.51,434.35 1183.67,445.66 1183.84,456.42 1184.00,465.81 1184.17,473.44 1184.34,479.35 1184.50,484.08 1184.67,488.81 1184.83,495.19 1185.00,503.91 1185.16,512.59 1185.33,516.51 1185.49,513.31 1185.66,505.86 1185.82,498.98 1185.99,494.93 1186.15,493.06 1186.32,491.94 1186.48,490.62 1186.65,488.61 1186.81,485.58 1186.98,481.29 1187.14,475.62 1187.31,468.65 1187.47,460.76 1187.64,452.62 1187.81,445.09 1187.97,438.98 1188.14,434.84 1188.30,432.74 1188.47,432.26 1188.63,432.62 1188.80,433.03 1188.96,432.97 1189.13,432.44 1189.29,431.93 1189.46,432.24 1189.62,434.14 1189.79,438.09 1189.95,444.05 1190.12,451.48 1190.28,459.58 1190.45,467.48 1190.61,474.49 1190.78,480.21 1190.95,484.55 1191.11,487.64 1191.28,489.86 1191.44,491.98 1191.61,495.29 1191.77,501.15 1191.94,508.94 1192.10,514.86 1192.27,514.54 1192.43,507.92 1192.60,499.27 1192.76,492.50 1192.93,488.27 1193.09,485.23 1193.26,481.98 1193.42,477.67 1193.59,471.79 1193.75,464.06 1193.92,454.51 1194.08,443.52 1194.25,431.89 1194.42,420.78 1194.58,411.35 1194.75,404.52 1194.91,400.60 1195.08,399.23 1195.24,399.43 1195.41,400.07 1195.57,400.26 1195.74,399.73 1195.90,398.98 1196.07,399.03 1196.23,401.01 1196.40,405.74 1196.56,413.38 1196.73,423.40 1196.89,434.78 1197.06,446.28 1197.22,456.87 1197.39,465.85 1197.56,472.97 1197.72,478.32 1197.89,482.35 1198.05,485.89 1198.22,490.37 1198.38,497.27 1198.55,506.15 1198.71,513.26 1198.88,514.13 1199.04,508.48 1199.21,500.61 1199.37,494.61 1199.54,491.32 1199.70,489.49 1199.87,487.75 1200.03,485.35 1200.20,481.84 1200.36,477.00 1200.53,470.76 1200.69,463.30 1200.86,455.13 1201.03,447.01 1201.19,439.82 1201.36,434.32 1201.52,430.90 1201.69,429.45 1201.85,429.39 1202.02,429.87 1202.18,430.17 1202.35,429.93 1202.51,429.34 1202.68,429.04 1202.84,429.87 1203.01,432.53 1203.17,437.31 1203.34,443.98 1203.50,451.86 1203.67,460.09 1203.83,467.84 1204.00,474.51 1204.16,479.81 1204.33,483.72 1204.50,486.41 1204.66,488.17 1204.83,489.33 1204.99,490.46 1205.16,492.64 1205.32,497.29 1205.49,504.63 1205.65,511.65 1205.82,513.44 1205.98,508.08 1206.15,498.88 1206.31,490.41 1206.48,484.31 1206.64,479.51 1206.81,474.38 1206.97,467.87 1207.14,459.58 1207.30,449.58 1207.47,438.41 1207.64,426.99 1207.80,416.49 1207.97,408.04 1208.13,402.34 1208.30,399.46 1208.46,398.79 1208.63,399.27 1208.79,399.82 1208.96,399.74 1209.12,399.05 1209.29,398.45 1209.45,399.06 1209.62,401.92 1209.78,407.64 1209.95,416.11 1210.11,426.60 1210.28,438.00 1210.44,449.11 1210.61,459.03 1210.78,467.24 1210.94,473.65 1211.11,478.72 1211.27,483.52 1211.44,489.70 1211.60,498.29 1211.77,507.49 1211.93,512.63 1212.10,510.50 1212.26,503.21 1212.43,495.78 1212.59,491.11 1212.76,488.91 1212.92,487.71 1213.09,486.44 1213.25,484.56 1213.42,481.70 1213.58,477.59 1213.75,472.05 1213.91,465.11 1214.08,457.08 1214.25,448.57 1214.41,440.44 1214.58,433.58 1214.74,428.66 1214.91,425.90 1215.07,425.00 1215.24,425.23 1215.40,425.72 1215.57,425.83 1215.73,425.39 1215.90,424.78 1216.06,424.78 1216.23,426.23 1216.39,429.73 1216.56,435.38 1216.72,442.76 1216.89,451.08 1217.05,459.43 1217.22,467.02 1217.38,473.35 1217.55,478.24 1217.72,481.76 1217.88,484.20 1218.05,486.15 1218.21,488.72 1218.38,493.46 1218.54,500.99 1218.71,508.76 1218.87,511.77 1219.04,507.39 1219.20,498.48 1219.37,489.99 1219.53,484.26 1219.70,480.51 1219.86,477.09 1220.03,472.82 1220.19,467.02 1220.36,459.33 1220.52,449.64 1220.69,438.25 1220.86,425.91 1221.02,413.75 1221.19,403.05 1221.35,394.91 1221.52,389.86 1221.68,387.71 1221.85,387.57 1222.01,388.23 1222.18,388.62 1222.34,388.24 1222.51,387.41 1222.67,387.08 1222.84,388.49 1223.00,392.65 1223.17,399.94 1223.33,410.00 1223.50,421.84 1223.66,434.17 1223.83,445.80 1224.00,455.88 1224.16,463.98 1224.33,470.15 1224.49,474.77 1224.66,478.71 1224.82,483.48 1224.99,490.80 1225.15,500.50 1225.32,508.75 1225.48,510.41 1225.65,504.59 1225.81,495.75 1225.98,488.70 1226.14,484.73 1226.31,482.55 1226.47,480.63 1226.64,478.03 1226.80,474.25 1226.97,468.98 1227.13,462.07 1227.30,453.65 1227.47,444.21 1227.63,434.57 1227.80,425.74 1227.96,418.69 1228.13,413.99 1228.29,411.70 1228.46,411.27 1228.62,411.76 1228.79,412.24 1228.95,412.16 1229.12,411.55 1229.28,411.03 1229.45,411.56 1229.61,414.04 1229.78,418.96 1229.94,426.20 1230.11,435.11 1230.27,444.72 1230.44,454.02 1230.61,462.24 1230.77,468.98 1230.94,474.37 1231.10,479.21 1231.27,485.06 1231.43,493.26 1231.60,502.71 1231.76,508.94 1231.93,507.83 1232.09,500.37 1232.26,491.62 1232.42,485.44 1232.59,482.12 1232.75,480.23 1232.92,478.51 1233.08,476.27 1233.25,473.08 1233.41,468.54 1233.58,462.30 1233.74,454.11 1233.91,444.01 1234.08,432.46 1234.24,420.34 1234.41,408.85 1234.57,399.21 1234.74,392.35 1234.90,388.53 1235.07,387.30 1235.23,387.62 1235.40,388.30 1235.56,388.45 1235.73,387.87 1235.89,387.12 1236.06,387.29 1236.22,389.56 1236.39,394.73 1236.55,402.91 1236.72,413.49 1236.88,425.36 1237.05,437.26 1237.22,448.11 1237.38,457.24 1237.55,464.40 1237.71,469.70 1237.88,473.45 1238.04,476.03 1238.21,477.80 1238.37,479.02 1238.54,479.93 1238.70,480.93 1238.87,482.89 1239.03,487.28 1239.20,494.89 1239.36,503.41 1239.53,507.53 1239.69,503.60 1239.86,493.47 1240.02,482.05 1240.19,472.25 1240.35,463.82 1240.52,455.38 1240.69,446.14 1240.85,436.27 1241.02,426.60 1241.18,418.13 1241.35,411.74 1241.51,407.86 1241.68,406.28 1241.84,406.29 1242.01,406.88 1242.17,407.20 1242.34,406.88 1242.50,406.19 1242.67,405.93 1242.83,407.10 1243.00,410.50 1243.16,416.42 1243.33,424.52 1243.49,434.00 1243.66,443.81 1243.83,452.98 1243.99,460.83 1244.16,467.06 1244.32,471.68 1244.49,474.98 1244.65,477.60 1244.82,480.72 1244.98,486.01 1245.15,494.16 1245.31,502.61 1245.48,506.15 1245.64,501.97 1245.81,492.97 1245.97,484.39 1246.14,478.72 1246.30,475.23 1246.47,472.25 1246.63,468.57 1246.80,463.50 1246.96,456.65 1247.13,447.83 1247.30,437.24 1247.46,425.47 1247.63,413.53 1247.79,402.67 1247.96,394.03 1248.12,388.33 1248.29,385.56 1248.45,385.04 1248.62,385.62 1248.78,386.18 1248.95,386.06 1249.11,385.33 1249.28,384.78 1249.44,385.58 1249.61,388.82 1249.77,395.06 1249.94,404.15 1250.10,415.26 1250.27,427.20 1250.44,438.76 1250.60,449.01 1250.77,457.53 1250.93,464.61 1251.10,471.43 1251.26,479.76 1251.43,490.27 1251.59,500.26 1251.76,504.59 1251.92,500.85 1252.09,492.49 1252.25,484.92 1252.42,480.59 1252.58,478.74 1252.75,477.84 1252.91,476.92 1253.08,475.50 1253.24,473.27 1253.41,469.92 1253.57,465.17 1253.74,458.83 1253.91,450.96 1254.07,441.92 1254.24,432.43 1254.40,423.46 1254.57,415.98 1254.73,410.70 1254.90,407.82 1255.06,406.96 1255.23,407.28 1255.39,407.82 1255.56,407.91 1255.72,407.41 1255.89,406.78 1256.05,406.90 1256.22,408.71 1256.38,412.82 1256.55,419.29 1256.71,427.62 1256.88,436.92 1257.05,446.17 1257.21,454.53 1257.38,461.47 1257.54,466.81 1257.71,470.65 1257.87,473.23 1258.04,474.87 1258.20,475.91 1258.37,476.86 1258.53,478.74 1258.70,483.11 1258.86,490.74 1259.03,499.12 1259.19,502.78 1259.36,498.33 1259.52,488.29 1259.69,477.92 1259.85,469.94 1260.02,463.60 1260.18,457.07 1260.35,449.09 1260.52,439.22 1260.68,427.70 1260.85,415.30 1261.01,403.18 1261.18,392.63 1261.34,384.70 1261.51,379.89 1261.67,377.95 1261.84,377.93 1262.00,378.62 1262.17,378.97 1262.33,378.54 1262.50,377.71 1262.66,377.48 1262.83,379.10 1262.99,383.53 1263.16,391.12 1263.32,401.43 1263.49,413.43 1263.65,425.83 1263.82,437.45 1263.99,447.46 1264.15,455.54 1264.32,461.99 1264.48,467.82 1264.65,474.81 1264.81,484.30 1264.98,494.75 1265.14,501.26 1265.31,499.89 1265.47,492.31 1265.64,483.99 1265.80,478.57 1265.97,476.05 1266.13,474.86 1266.30,473.78 1266.46,472.19 1266.63,469.70 1266.79,466.01 1266.96,460.85 1267.13,454.11 1267.29,445.94 1267.46,436.84 1267.62,427.61 1267.79,419.23 1267.95,412.61 1268.12,408.28 1268.28,406.23 1268.45,405.90 1268.61,406.39 1268.78,406.81 1268.94,406.66 1269.11,406.02 1269.27,405.53 1269.44,406.14 1269.60,408.67 1269.77,413.56 1269.93,420.66 1270.10,429.31 1270.27,438.54 1270.43,447.41 1270.60,455.18 1270.76,461.44 1270.93,466.12 1271.09,469.41 1271.26,471.65 1271.42,473.45 1271.59,475.95 1271.75,480.80 1271.92,488.72 1272.08,497.11 1272.25,500.60 1272.41,496.17 1272.58,486.64 1272.74,477.35 1272.91,470.91 1273.07,466.53 1273.24,462.43 1273.40,457.30 1273.57,450.42 1273.74,441.48 1273.90,430.54 1274.07,418.11 1274.23,405.16 1274.40,392.98 1274.56,382.88 1274.73,375.77 1274.89,371.91 1275.06,370.74 1275.22,371.12 1275.39,371.80 1275.55,371.86 1275.72,371.17 1275.88,370.37 1276.05,370.66 1276.21,373.29 1276.38,379.06 1276.54,388.03 1276.71,399.49 1276.88,412.23 1277.04,424.91 1277.21,436.40 1277.37,446.02 1277.54,453.52 1277.70,459.07 1277.87,463.00 1278.03,465.81 1278.20,468.16 1278.36,471.24 1278.53,476.73 1278.69,485.47 1278.86,494.89 1279.02,499.45 1279.19,495.78 1279.35,486.59 1279.52,477.38 1279.68,471.00 1279.85,466.74 1280.01,462.80 1280.18,457.87 1280.35,451.34 1280.51,443.08 1280.68,433.37 1280.84,422.91 1281.01,412.70 1281.17,403.85 1281.34,397.26 1281.50,393.34 1281.67,391.82 1281.83,391.91 1282.00,392.54 1282.16,392.82 1282.33,392.42 1282.49,391.68 1282.66,391.47 1282.82,392.88 1282.99,396.70 1283.15,403.21 1283.32,412.00 1283.49,422.17 1283.65,432.62 1283.82,442.32 1283.98,450.59 1284.15,457.13 1284.31,462.05 1284.48,465.97 1284.64,470.16 1284.81,476.44 1284.97,485.53 1285.14,494.68 1285.30,498.46 1285.47,494.07 1285.63,484.74 1285.80,476.01 1285.96,470.49 1286.13,467.41 1286.29,465.06 1286.46,462.28 1286.62,458.40 1286.79,452.94 1286.96,445.55 1287.12,436.09 1287.29,424.77 1287.45,412.27 1287.62,399.69 1287.78,388.35 1287.95,379.43 1288.11,373.63 1288.28,370.91 1288.44,370.48 1288.61,371.12 1288.77,371.66 1288.94,371.44 1289.10,370.62 1289.27,370.08 1289.43,371.07 1289.60,374.73 1289.76,381.58 1289.93,391.41 1290.10,403.30 1290.26,415.96 1290.43,428.13 1290.59,438.83 1290.76,447.55 1290.92,454.25 1291.09,459.31 1291.25,463.67 1291.42,468.97 1291.58,476.96 1291.75,487.26 1291.91,495.62 1292.08,496.76 1292.24,490.19 1292.41,480.85 1292.57,473.64 1292.74,469.67 1292.90,467.50 1293.07,465.57 1293.23,462.94 1293.40,459.10 1293.57,453.71 1293.73,446.57 1293.90,437.74 1294.06,427.68 1294.23,417.21 1294.39,407.39 1294.56,399.29 1294.72,393.67 1294.89,390.69 1295.05,389.87 1295.22,390.28 1295.38,390.87 1295.55,390.91 1295.71,390.32 1295.88,389.66 1296.04,389.91 1296.21,392.11 1296.37,396.89 1296.54,404.26 1296.70,413.63 1296.87,423.99 1297.04,434.22 1297.20,443.40 1297.37,451.00 1297.53,456.85 1297.70,461.20 1297.86,464.77 1298.03,469.02 1298.19,475.75 1298.36,485.23 1298.52,493.93 1298.69,496.26 1298.85,490.37 1299.02,480.43 1299.18,471.86 1299.35,466.59 1299.51,463.49 1299.68,460.82 1299.84,457.48 1300.01,452.80 1300.18,446.32 1300.34,437.73 1300.51,426.99 1300.67,414.50 1300.84,401.15 1301.00,388.20 1301.17,377.05 1301.33,368.80 1301.50,363.92 1301.66,362.06 1301.83,362.17 1301.99,362.94 1302.16,363.27 1302.32,362.76 1302.49,361.88 1302.65,361.75 1302.82,363.70 1302.98,368.75 1303.15,377.17 1303.32,388.44 1303.48,401.41 1303.65,414.70 1303.81,427.04 1303.98,437.59 1304.14,445.98 1304.31,452.29 1304.47,456.97 1304.64,460.93 1304.80,465.79 1304.97,473.42 1305.13,483.84 1305.30,493.06 1305.46,495.34 1305.63,489.24 1305.79,479.43 1305.96,471.33 1306.12,466.60 1306.29,463.91 1306.45,461.51 1306.62,458.32 1306.79,453.75 1306.95,447.45 1307.12,439.30 1307.28,429.52 1307.45,418.70 1307.61,407.83 1307.78,398.07 1307.94,390.46 1308.11,385.58 1308.27,383.37 1308.44,383.11 1308.60,383.72 1308.77,384.19 1308.93,383.98 1309.10,383.23 1309.26,382.75 1309.43,383.65 1309.59,386.88 1309.76,392.91 1309.92,401.50 1310.09,411.83 1310.26,422.77 1310.42,433.20 1310.59,442.32 1310.75,449.87 1310.92,456.36 1311.08,463.26 1311.25,472.36 1311.41,483.52 1311.58,492.67 1311.74,494.37 1311.91,487.69 1312.07,477.61 1312.24,469.53 1312.40,465.01 1312.57,462.72 1312.73,461.06 1312.90,459.14 1313.06,456.45 1313.23,452.58 1313.40,447.09 1313.56,439.58 1313.73,429.81 1313.89,417.90 1314.06,404.45 1314.22,390.53 1314.39,377.57 1314.55,366.94 1314.72,359.60 1314.88,355.74 1315.05,354.70 1315.21,355.24 1315.38,355.98 1315.54,356.01 1315.71,355.26 1315.87,354.48 1316.04,354.98 1316.20,358.10 1316.37,364.65 1316.54,374.61 1316.70,387.17 1316.87,400.99 1317.03,414.64 1317.20,426.93 1317.36,437.21 1317.53,445.47 1317.69,452.54 1317.86,460.21 1318.02,470.38 1318.19,482.56 1318.35,492.04 1318.52,493.27 1318.68,486.13 1318.85,476.25 1319.01,468.92 1319.18,465.23 1319.34,463.64 1319.51,462.55 1319.67,461.09 1319.84,458.78 1320.01,455.28 1320.17,450.22 1320.34,443.37 1320.50,434.71 1320.67,424.60 1320.83,413.78 1321.00,403.31 1321.16,394.34 1321.33,387.76 1321.49,383.94 1321.66,382.56 1321.82,382.76 1321.99,383.42 1322.15,383.67 1322.32,383.21 1322.48,382.46 1322.65,382.34 1322.81,383.96 1322.98,388.13 1323.14,395.06 1323.31,404.28 1323.48,414.84 1323.64,425.58 1323.81,435.47 1323.97,443.82 1324.14,450.35 1324.30,455.14 1324.47,458.58 1324.63,461.53 1324.80,465.52 1324.96,472.41 1325.13,482.25 1325.29,490.99 1325.46,492.71 1325.62,485.84 1325.79,475.04 1325.95,465.90 1326.12,460.17 1326.28,456.44 1326.45,452.87 1326.62,448.26 1326.78,441.89 1326.95,433.35 1327.11,422.50 1327.28,409.61 1327.44,395.50 1327.61,381.43 1327.77,368.87 1327.94,359.14 1328.10,352.95 1328.27,350.18 1328.43,349.89 1328.60,350.69 1328.76,351.28 1328.93,351.02 1329.09,350.14 1329.26,349.68 1329.42,351.05 1329.59,355.48 1329.76,363.50 1329.92,374.79 1330.09,388.28 1330.25,402.52 1330.42,416.08 1330.58,427.94 1330.75,437.56 1330.91,444.90 1331.08,450.22 1331.24,453.98 1331.41,456.72 1331.57,459.19 1331.74,462.75 1331.90,469.19 1332.07,478.95 1332.23,488.62 1332.40,492.18 1332.56,487.00 1332.73,476.86 1332.89,467.43 1333.06,461.01 1333.23,456.49 1333.39,451.97 1333.56,446.21 1333.72,438.72 1333.89,429.52 1334.05,419.10 1334.22,408.33 1334.38,398.33 1334.55,390.19 1334.71,384.65 1334.88,381.82 1335.04,381.16 1335.21,381.68 1335.37,382.30 1335.54,382.33 1335.70,381.72 1335.87,381.11 1336.03,381.54 1336.20,384.04 1336.37,389.22 1336.53,397.06 1336.70,406.87 1336.86,417.60 1337.03,428.12 1337.19,437.49 1337.36,445.20 1337.52,451.07 1337.69,455.28 1337.85,458.15 1338.02,460.17 1338.18,462.19 1338.35,465.72 1338.51,472.45 1338.68,481.98 1338.84,489.87 1339.01,490.44 1339.17,482.81 1339.34,471.90 1339.50,462.83 1339.67,456.75 1339.84,452.06 1340.00,446.92 1340.17,440.20 1340.33,431.39 1340.50,420.45 1340.66,407.81 1340.83,394.40 1340.99,381.51 1341.16,370.54 1341.32,362.55 1341.49,357.94 1341.65,356.31 1341.82,356.56 1341.98,357.36 1342.15,357.65 1342.31,357.11 1342.48,356.27 1342.64,356.29 1342.81,358.49 1342.97,363.84 1343.14,372.55 1343.31,384.04 1343.47,397.12 1343.64,410.39 1343.80,422.62 1343.97,433.00 1344.13,441.20 1344.30,447.31 1344.46,451.65 1344.63,454.66 1344.79,456.73 1344.96,458.32 1345.12,460.16 1345.29,463.61 1345.45,470.34 1345.62,480.05 1345.78,488.45 1345.95,489.72 1346.11,482.53 1346.28,471.41 1346.45,461.47 1346.61,454.06 1346.78,447.72 1346.94,440.69 1347.11,432.11 1347.27,421.97 1347.44,410.86 1347.60,399.80 1347.77,389.97 1347.93,382.41 1348.10,377.67 1348.26,375.62 1348.43,375.49 1348.59,376.17 1348.76,376.63 1348.92,376.38 1349.09,375.64 1349.25,375.25 1349.42,376.36 1349.59,379.92 1349.75,386.33 1349.92,395.30 1350.08,405.97 1350.25,417.15 1350.41,427.73 1350.58,436.88 1350.74,444.21 1350.91,449.67 1351.07,453.52 1351.24,456.13 1351.40,458.07 1351.57,460.36 1351.73,464.70 1351.90,472.52 1352.06,482.41 1352.23,488.97 1352.39,487.17 1352.56,477.94 1352.72,466.98 1352.89,458.60 1353.06,452.97 1353.22,448.18 1353.39,442.54 1353.55,435.10 1353.72,425.50 1353.88,413.86 1354.05,400.79 1354.21,387.39 1354.38,375.02 1354.54,365.01 1354.71,358.23 1354.87,354.78 1355.04,353.99 1355.20,354.60 1355.37,355.31 1355.53,355.31 1355.70,354.57 1355.86,353.89 1356.03,354.56 1356.20,357.83 1356.36,364.44 1356.53,374.30 1356.69,386.56 1356.86,399.92 1357.02,413.00 1357.19,424.69 1357.35,434.35 1357.52,441.86 1357.68,447.56 1357.85,452.36 1358.01,457.97 1358.18,466.26 1358.34,477.10 1358.51,486.27 1358.67,488.12 1358.84,481.69 1359.00,471.95 1359.17,464.22 1359.33,459.94 1359.50,457.70 1359.67,455.84 1359.83,453.35 1360.00,449.68 1360.16,444.46 1360.33,437.44 1360.49,428.65 1360.66,418.47 1360.82,407.66 1360.99,397.32 1361.15,388.57 1361.32,382.26 1361.48,378.72 1361.65,377.56 1361.81,377.87 1361.98,378.57 1362.14,378.82 1362.31,378.37 1362.47,377.68 1362.64,377.71 1362.81,379.55 1362.97,383.95 1363.14,391.05 1363.30,400.36 1363.47,410.89 1363.63,421.49 1363.80,431.17 1363.96,439.28 1364.13,445.58 1364.29,450.17 1364.46,453.47 1364.62,456.35 1364.79,460.36 1364.95,467.32 1365.12,477.09 1365.28,485.49 1365.45,486.72 1365.61,479.58 1365.78,468.87 1365.94,459.99 1366.11,454.44 1366.28,450.78 1366.44,447.19 1366.61,442.51 1366.77,436.06 1366.94,427.44 1367.10,416.56 1367.27,403.72 1367.43,389.77 1367.60,375.98 1367.76,363.81 1367.93,354.53 1368.09,348.76 1368.26,346.32 1368.42,346.21 1368.59,347.07 1368.75,347.65 1368.92,347.37 1369.08,346.55 1369.25,346.24 1369.41,347.84 1369.58,352.52 1369.75,360.73 1369.91,372.07 1370.08,385.47 1370.24,399.47 1370.41,412.74 1370.57,424.47 1370.74,434.72 1370.90,444.76 1371.07,456.48 1371.23,470.11 1371.40,481.91 1371.56,486.06 1371.73,480.89 1371.89,471.21 1372.06,463.14 1372.22,458.94 1372.39,457.42 1372.55,456.90 1372.72,456.38 1372.89,455.47 1373.05,453.87 1373.22,451.31 1373.38,447.47 1373.55,442.05 1373.71,434.91 1373.88,426.17 1374.04,416.34 1374.21,406.26 1374.37,397.00 1374.54,389.57 1374.70,384.60 1374.87,382.17 1375.03,381.72 1375.20,382.28 1375.36,382.87 1375.53,382.86 1375.69,382.28 1375.86,381.77 1376.03,382.30 1376.19,384.84 1376.36,389.91 1376.52,397.41 1376.69,406.69 1376.85,416.72 1377.02,426.46 1377.18,435.07 1377.35,442.09 1377.51,447.52 1377.68,451.87 1377.84,456.42 1378.01,462.97 1378.17,472.22 1378.34,481.39 1378.50,485.04 1378.67,480.45 1378.83,470.96 1379.00,462.15 1379.16,456.61 1379.33,453.55 1379.50,451.30 1379.66,448.72 1379.83,445.16 1379.99,440.14 1380.16,433.24 1380.32,424.19 1380.49,413.02 1380.65,400.22 1380.82,386.74 1380.98,373.93 1381.15,363.15 1381.31,355.43 1381.48,351.11 1381.64,349.71 1381.81,350.09 1381.97,350.92 1382.14,351.19 1382.30,350.64 1382.47,349.87 1382.63,350.06 1382.80,352.54 1382.97,358.20 1383.13,367.21 1383.30,378.89 1383.46,392.06 1383.63,405.29 1383.79,417.41 1383.96,427.65 1384.12,435.81 1384.29,442.32 1384.45,448.48 1384.62,456.24 1384.78,466.78 1384.95,477.77 1385.11,483.63 1385.28,480.74 1385.44,471.89 1385.61,463.06 1385.77,457.60 1385.94,455.07 1386.11,453.72 1386.27,452.33 1386.44,450.26 1386.60,447.10 1386.77,442.51 1386.93,436.23 1387.10,428.18 1387.26,418.65 1387.43,408.27 1387.59,398.02 1387.76,389.02 1387.92,382.20 1388.09,378.03 1388.25,376.34 1388.42,376.37 1388.58,377.05 1388.75,377.48 1388.91,377.22 1389.08,376.55 1389.24,376.30 1389.41,377.51 1389.58,381.05 1389.74,387.24 1389.91,395.77 1390.07,405.77 1390.24,416.15 1390.40,425.88 1390.57,434.24 1390.73,440.87 1390.90,445.79 1391.06,449.23 1391.23,451.69 1391.39,454.02 1391.56,457.73 1391.72,464.45 1391.89,473.73 1392.05,481.27 1392.22,481.66 1392.38,474.28 1392.55,463.99 1392.72,455.69 1392.88,450.40 1393.05,446.57 1393.21,442.48 1393.38,437.06 1393.54,429.75 1393.71,420.33 1393.87,408.98 1394.04,396.34 1394.20,383.48 1394.37,371.74 1394.53,362.38 1394.70,356.18 1394.86,353.18 1395.03,352.65 1395.19,353.38 1395.36,354.12 1395.52,354.14 1395.69,353.49 1395.86,352.99 1396.02,353.89 1396.19,357.38 1396.35,364.10 1396.52,373.89 1396.68,385.90 1396.85,398.85 1397.01,411.42 1397.18,422.59 1397.34,431.78 1397.51,438.88 1397.67,444.09 1397.84,447.84 1398.00,450.68 1398.17,453.58 1398.33,458.05 1398.50,465.52 1398.66,475.06 1398.83,482.13 1398.99,481.97 1399.16,474.90 1399.33,465.86 1399.49,459.01 1399.66,454.84 1399.82,451.77 1399.99,448.32 1400.15,443.65 1400.32,437.41 1400.48,429.62 1400.65,420.64 1400.81,411.17 1400.98,402.19 1401.14,394.69 1401.31,389.38 1401.47,386.51 1401.64,385.69 1401.80,386.10 1401.97,386.77 1402.13,387.00 1402.30,386.63 1402.47,386.10 1402.63,386.29 1402.80,388.15 1402.96,392.30 1403.13,398.83 1403.29,407.24 1403.46,416.66 1403.62,426.07 1403.79,434.61 1403.95,441.75 1404.12,447.30 1404.28,451.45 1404.45,454.81 1404.61,458.61 1404.78,464.47 1404.94,472.84 1405.11,480.87 1405.27,483.61 1405.44,479.01 1405.60,470.42 1405.77,462.74 1405.94,458.00 1406.10,455.29 1406.27,453.09 1406.43,450.39 1406.60,446.59 1406.76,441.28 1406.93,434.16 1407.09,425.19 1407.26,414.66 1407.42,403.29 1407.59,392.14 1407.75,382.40 1407.92,375.08 1408.08,370.66 1408.25,368.90 1408.41,368.97 1408.58,369.73 1408.74,370.20 1408.91,369.95 1409.08,369.30 1409.24,369.16 1409.41,370.67 1409.57,374.74 1409.74,381.70 1409.90,391.16 1410.07,402.20 1410.23,413.63 1410.40,424.35 1410.56,433.60 1410.73,441.03 1410.89,446.72 1411.06,451.19 1411.22,455.61 1411.39,461.64 1411.55,470.24 1411.72,479.36 1411.88,484.13 1412.05,481.48 1412.21,473.79 1412.38,466.15 1412.55,461.36 1412.71,458.97 1412.88,457.47 1413.04,455.78 1413.21,453.30 1413.37,449.64 1413.54,444.56 1413.70,437.91 1413.87,429.86 1414.03,420.86 1414.20,411.73 1414.36,403.42 1414.53,396.84 1414.69,392.54 1414.86,390.52 1415.02,390.24 1415.19,390.80 1415.35,391.33 1415.52,391.31 1415.68,390.80 1415.85,390.41 1416.02,391.05 1416.18,393.57 1416.35,398.40 1416.51,405.41 1416.68,413.97 1416.84,423.14 1417.01,431.96 1417.17,439.74 1417.34,446.17 1417.50,451.53 1417.67,456.89 1417.83,463.84 1418.00,472.90 1418.16,481.45 1418.33,484.71 1418.49,480.54 1418.66,472.18 1418.82,464.61 1418.99,460.04 1419.16,457.71 1419.32,456.20 1419.49,454.58 1419.65,452.35 1419.82,449.16 1419.98,444.62 1420.15,438.38 1420.31,430.22 1420.48,420.19 1420.64,408.75 1420.81,396.81 1420.97,385.55 1421.14,376.20 1421.30,369.62 1421.47,366.05 1421.63,365.02 1421.80,365.49 1421.96,366.26 1422.13,366.49 1422.30,366.01 1422.46,365.39 1422.63,365.74 1422.79,368.20 1422.96,373.54 1423.12,381.82 1423.29,392.43 1423.45,404.24 1423.62,416.03 1423.78,426.75 1423.95,435.75 1424.11,442.82 1424.28,448.10 1424.44,452.09 1424.61,455.72 1424.77,460.51 1424.94,467.93 1425.10,477.23 1425.27,484.22 1425.43,484.39 1425.60,477.97 1425.77,469.67 1425.93,463.55 1426.10,460.21 1426.26,458.22 1426.43,456.22 1426.59,453.43 1426.76,449.40 1426.92,443.89 1427.09,436.87 1427.25,428.58 1427.42,419.62 1427.58,410.85 1427.75,403.23 1427.91,397.54 1428.08,394.16 1428.24,392.88 1428.41,393.02 1428.57,393.65 1428.74,394.01 1428.91,393.78 1429.07,393.23 1429.24,393.11 1429.40,394.32 1429.57,397.60 1429.73,403.16 1429.90,410.70 1430.06,419.45 1430.23,428.45 1430.39,436.83 1430.56,443.97 1430.72,449.61 1430.89,453.77 1431.05,456.69 1431.22,458.80 1431.38,460.92 1431.55,464.43 1431.71,470.67 1431.88,478.90 1432.04,485.01 1432.21,484.51 1432.38,477.50 1432.54,468.52 1432.71,461.53 1432.87,457.10 1433.04,453.77 1433.20,450.07 1433.37,445.14 1433.53,438.50 1433.70,430.00 1433.86,419.81 1434.03,408.54 1434.19,397.16 1434.36,386.88 1434.52,378.78 1434.69,373.50 1434.85,371.04 1435.02,370.69 1435.18,371.35 1435.35,371.96 1435.52,371.90 1435.68,371.28 1435.85,370.88 1436.01,371.81 1436.18,375.10 1436.34,381.26 1436.51,390.10 1436.67,400.83 1436.84,412.29 1437.00,423.33 1437.17,433.07 1437.33,441.03 1437.50,447.14 1437.66,451.60 1437.83,454.82 1437.99,457.43 1438.16,460.52 1438.32,465.64 1438.49,473.53 1438.65,481.99 1438.82,486.13 1438.99,483.06 1439.15,475.20 1439.32,467.44 1439.48,462.29 1439.65,459.17 1439.81,456.52 1439.98,453.19 1440.14,448.60 1440.31,442.52 1440.47,434.97 1440.64,426.34 1440.80,417.32 1440.97,408.84 1441.13,401.83 1441.30,396.95 1441.46,394.37 1441.63,393.69 1441.79,394.11 1441.96,394.71 1442.12,394.86 1442.29,394.45 1442.46,393.95 1442.62,394.21 1442.79,396.11 1442.95,400.21 1443.12,406.55 1443.28,414.63 1443.45,423.59 1443.61,432.46 1443.78,440.45 1443.94,447.08 1444.11,452.23 1444.27,456.17 1444.44,459.71 1444.60,464.27 1444.77,471.22 1444.93,479.76 1445.10,485.85 1445.26,485.33 1445.43,478.59 1445.60,470.21 1445.76,464.04 1445.93,460.57 1446.09,458.44 1446.26,456.38 1446.42,453.65 1446.59,449.78 1446.75,444.38 1446.92,437.20 1447.08,428.20 1447.25,417.70 1447.41,406.45 1447.58,395.51 1447.74,386.05 1447.91,379.04 1448.07,374.89 1448.24,373.33 1448.40,373.48 1448.57,374.23 1448.74,374.63 1448.90,374.33 1449.07,373.68 1449.23,373.63 1449.40,375.30 1449.56,379.54 1449.73,386.62 1449.89,396.12 1450.06,407.09 1450.22,418.35 1450.39,428.85 1450.55,437.85 1450.72,445.04 1450.88,450.45 1451.05,454.34 1451.21,457.06 1451.38,458.97 1451.54,460.36 1451.71,461.63 1451.87,463.59 1452.04,467.52 1452.21,474.32 1452.37,482.30 1452.54,486.89 1452.70,484.56 1452.87,476.67 1453.03,467.69 1453.20,460.44 1453.36,454.75 1453.53,449.17 1453.69,442.66 1453.86,434.98 1454.02,426.49 1454.19,417.93 1454.35,410.22 1454.52,404.19 1454.68,400.33 1454.85,398.59 1455.01,398.42 1455.18,398.98 1455.35,399.44 1455.51,399.37 1455.68,398.87 1455.84,398.54 1456.01,399.26 1456.17,401.79 1456.34,406.51 1456.50,413.25 1456.67,421.38 1456.83,430.01 1457.00,438.25 1457.16,445.45 1457.33,451.24 1457.49,455.58 1457.66,458.62 1457.82,460.63 1457.99,461.92 1458.15,462.93 1458.32,464.43 1458.48,467.82 1458.65,474.18 1458.82,482.15 1458.98,487.12 1459.15,485.02 1459.31,476.82 1459.48,467.27 1459.64,459.72 1459.81,454.14 1459.97,448.90 1460.14,442.62 1460.30,434.65 1460.47,424.95 1460.63,413.99 1460.80,402.62 1460.96,392.01 1461.13,383.29 1461.29,377.26 1461.46,374.09 1461.62,373.27 1461.79,373.78 1461.95,374.50 1462.12,374.67 1462.29,374.18 1462.45,373.64 1462.62,374.11 1462.78,376.66 1462.95,381.97 1463.11,390.07 1463.28,400.29 1463.44,411.57 1463.61,422.73 1463.77,432.82 1463.94,441.24 1464.10,447.82 1464.27,452.74 1464.43,456.46 1464.60,459.88 1464.76,464.44 1464.93,471.46 1465.09,480.15 1465.26,486.52 1465.43,486.47 1465.59,480.40 1465.76,472.77 1465.92,467.24 1466.09,464.26 1466.25,462.48 1466.42,460.67 1466.58,458.11 1466.75,454.41 1466.91,449.37 1467.08,442.97 1467.24,435.46 1467.41,427.39 1467.57,419.57 1467.74,412.85 1467.90,407.92 1468.07,405.06 1468.23,404.06 1468.40,404.27 1468.57,404.86 1468.73,405.16 1468.90,404.92 1469.06,404.44 1469.23,404.40 1469.39,405.63 1469.56,408.74 1469.72,413.90 1469.89,420.78 1470.05,428.67 1470.22,436.72 1470.38,444.15 1470.55,450.44 1470.71,455.38 1470.88,459.05 1471.04,461.89 1471.21,464.81 1471.37,469.22 1471.54,476.00 1471.70,483.49 1471.87,487.43 1472.04,484.86 1472.20,477.60 1472.37,470.14 1472.53,465.11 1472.70,462.22 1472.86,460.09 1473.03,457.67 1473.19,454.34 1473.36,449.69 1473.52,443.43 1473.69,435.46 1473.85,425.97 1474.02,415.56 1474.18,405.13 1474.35,395.81 1474.51,388.56 1474.68,383.94 1474.84,381.87 1475.01,381.67 1475.17,382.32 1475.34,382.86 1475.51,382.76 1475.67,382.19 1475.84,381.88 1476.00,382.89 1476.17,386.11 1476.33,391.98 1476.50,400.26 1476.66,410.19 1476.83,420.69 1476.99,430.72 1477.16,439.51 1477.32,446.64 1477.49,452.11 1477.65,456.20 1477.82,459.63 1477.98,463.66 1478.15,469.77 1478.31,478.03 1478.48,485.35 1478.65,487.24 1478.81,482.57 1478.98,474.96 1479.14,468.70 1479.31,465.11 1479.47,463.17 1479.64,461.54 1479.80,459.37 1479.97,456.22 1480.13,451.79 1480.30,445.93 1480.46,438.73 1480.63,430.55 1480.79,422.07 1480.96,414.19 1481.12,407.75 1481.29,403.35 1481.45,401.09 1481.62,400.58 1481.78,401.02 1481.95,401.58 1482.12,401.68 1482.28,401.28 1482.45,400.85 1482.61,401.20 1482.78,403.14 1482.94,407.17 1483.11,413.27 1483.27,420.94 1483.44,429.35 1483.60,437.62 1483.77,445.01 1483.93,451.09 1484.10,455.76 1484.26,459.12 1484.43,461.49 1484.59,463.46 1484.76,466.11 1484.92,470.85 1485.09,478.04 1485.26,486.05 1485.42,489.38 1485.59,485.91 1485.75,478.54 1485.92,471.79 1486.08,467.57 1486.25,465.02 1486.41,462.61 1486.58,459.27 1486.74,454.36 1486.91,447.54 1487.07,438.73 1487.24,428.26 1487.40,416.90 1487.57,405.77 1487.73,396.13 1487.90,389.01 1488.06,384.85 1488.23,383.39 1488.39,383.69 1488.56,384.56 1488.73,384.99 1488.89,384.65 1489.06,383.98 1489.22,384.03 1489.39,386.19 1489.55,391.54 1489.72,391.54 1489.88,404.41 1490.05,417.27 1490.21,430.13 1490.38,443.00 1490.54,455.86 1490.71,468.72 1490.87,481.59 1491.04,494.45 1491.20,507.32 1491.37,520.18 1491.53,533.04 1491.70,545.91" fill="none" stroke="#EF6B6E" stroke-width="1.9" stroke-linejoin="round"/>
<rect x="830.4" y="327.7" width="661.6" height="222.2" fill="none" stroke="#000" stroke-width="1.6"/>
<path d="M830.70,549.9 v-4.5 M863.75,549.9 v-2.5 M896.80,549.9 v-4.5 M929.85,549.9 v-2.5 M962.90,549.9 v-4.5 M995.95,549.9 v-2.5 M1029.00,549.9 v-4.5 M1062.05,549.9 v-2.5 M1095.10,549.9 v-4.5 M1128.15,549.9 v-2.5 M1161.20,549.9 v-4.5 M1194.25,549.9 v-2.5 M1227.30,549.9 v-4.5 M1260.35,549.9 v-2.5 M1293.40,549.9 v-4.5 M1326.45,549.9 v-2.5 M1359.50,549.9 v-4.5 M1392.55,549.9 v-2.5 M1425.60,549.9 v-4.5 M1458.65,549.9 v-2.5 M1491.70,549.9 v-4.5 M830.4,549.90 h4.5 M830.4,516.62 h2.5 M830.4,483.35 h4.5 M830.4,450.07 h2.5 M830.4,416.80 h4.5 M830.4,383.52 h2.5 M830.4,350.25 h4.5" stroke="#000" stroke-width="1.3" fill="none"/>
<text transform="translate(819.5,362) scale(1,1.04)" font-size="26.5" text-anchor="end" font-weight="normal" fill="#000">3</text>
<text transform="translate(819.5,427.9) scale(1,1.04)" font-size="26.5" text-anchor="end" font-weight="normal" fill="#000">2</text>
<text transform="translate(819.5,494) scale(1,1.04)" font-size="26.5" text-anchor="end" font-weight="normal" fill="#000">1</text>
<text transform="translate(819.5,556) scale(1,1.04)" font-size="26.5" text-anchor="end" font-weight="normal" fill="#000">0</text>
<text transform="translate(817.39,583.5) scale(1,1.04)" font-size="27.5" text-anchor="start" font-weight="normal" fill="#000">-5</text>
<text transform="translate(882.06,583.5) scale(1,1.04)" font-size="27.5" text-anchor="start" font-weight="normal" fill="#000">-4</text>
<text transform="translate(948.59,583.5) scale(1,1.04)" font-size="27.5" text-anchor="start" font-weight="normal" fill="#000">-3</text>
<text transform="translate(1015.33,583.5) scale(1,1.04)" font-size="27.5" text-anchor="start" font-weight="normal" fill="#000">-2</text>
<text transform="translate(1078.76,583.5) scale(1,1.04)" font-size="27.5" text-anchor="start" font-weight="normal" fill="#000">-1</text>
<text transform="translate(1155.1,583.5) scale(1,1.04)" font-size="27.5" text-anchor="start" font-weight="normal" fill="#000">0</text>
<text transform="translate(1220.36,583.5) scale(1,1.04)" font-size="27.5" text-anchor="start" font-weight="normal" fill="#000">1</text>
<text transform="translate(1288.37,583.5) scale(1,1.04)" font-size="27.5" text-anchor="start" font-weight="normal" fill="#000">2</text>
<text transform="translate(1353.67,583.5) scale(1,1.04)" font-size="27.5" text-anchor="start" font-weight="normal" fill="#000">3</text>
<text transform="translate(1418.21,583.5) scale(1,1.04)" font-size="27.5" text-anchor="start" font-weight="normal" fill="#000">4</text>
<text transform="translate(1485.17,583.5) scale(1,1.04)" font-size="27.5" text-anchor="start" font-weight="normal" fill="#000">5</text>
<text transform="translate(1055.65,616) scale(1,1.04)" font-size="30.6" text-anchor="start" font-weight="normal" fill="#000">Detuning (GHz)</text>
<text transform="translate(783,533.5) rotate(-90) scale(1,1.04)" font-size="30.3">Optical Depth</text>
<text transform="translate(758.96,330.5) scale(1,1.0)" font-size="38.5" text-anchor="start" font-weight="bold" fill="#000" style="stroke:none">d</text>
</g>
</svg></body></html>
